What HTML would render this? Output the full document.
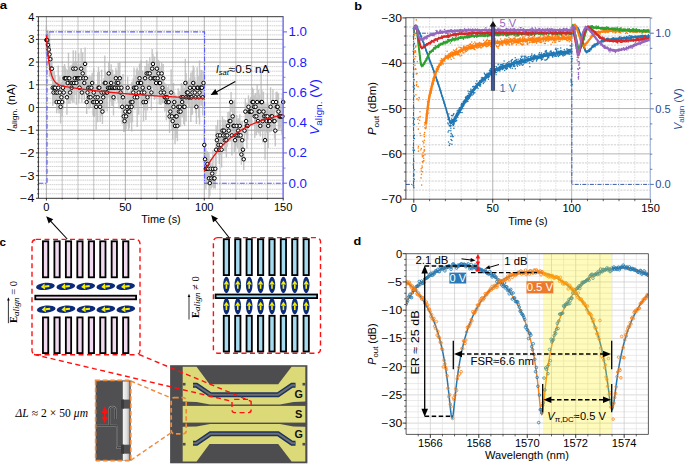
<!DOCTYPE html>
<html><head><meta charset="utf-8"><style>
html,body{margin:0;padding:0;background:#fff;}
svg{display:block;}
</style></head><body>
<svg width="685" height="467" viewBox="0 0 685 467">
<rect width="685" height="467" fill="#fff"/>
<clipPath id="ca"><rect x="38.4" y="16.7" width="245.1" height="181.60000000000002"/></clipPath>
<line x1="38.4" y1="193.76" x2="283.5" y2="193.76" stroke="#b4b4b4" stroke-width="0.6" stroke-dasharray="1.6,0.6"/>
<line x1="38.4" y1="189.22" x2="283.5" y2="189.22" stroke="#b4b4b4" stroke-width="0.6" stroke-dasharray="1.6,0.6"/>
<line x1="38.4" y1="184.68" x2="283.5" y2="184.68" stroke="#b4b4b4" stroke-width="0.6" stroke-dasharray="1.6,0.6"/>
<line x1="38.4" y1="180.14" x2="283.5" y2="180.14" stroke="#b4b4b4" stroke-width="0.6" stroke-dasharray="1.6,0.6"/>
<line x1="38.4" y1="171.06" x2="283.5" y2="171.06" stroke="#b4b4b4" stroke-width="0.6" stroke-dasharray="1.6,0.6"/>
<line x1="38.4" y1="166.52" x2="283.5" y2="166.52" stroke="#b4b4b4" stroke-width="0.6" stroke-dasharray="1.6,0.6"/>
<line x1="38.4" y1="161.98" x2="283.5" y2="161.98" stroke="#b4b4b4" stroke-width="0.6" stroke-dasharray="1.6,0.6"/>
<line x1="38.4" y1="157.44" x2="283.5" y2="157.44" stroke="#b4b4b4" stroke-width="0.6" stroke-dasharray="1.6,0.6"/>
<line x1="38.4" y1="148.36" x2="283.5" y2="148.36" stroke="#b4b4b4" stroke-width="0.6" stroke-dasharray="1.6,0.6"/>
<line x1="38.4" y1="143.82" x2="283.5" y2="143.82" stroke="#b4b4b4" stroke-width="0.6" stroke-dasharray="1.6,0.6"/>
<line x1="38.4" y1="139.28" x2="283.5" y2="139.28" stroke="#b4b4b4" stroke-width="0.6" stroke-dasharray="1.6,0.6"/>
<line x1="38.4" y1="134.74" x2="283.5" y2="134.74" stroke="#b4b4b4" stroke-width="0.6" stroke-dasharray="1.6,0.6"/>
<line x1="38.4" y1="125.66" x2="283.5" y2="125.66" stroke="#b4b4b4" stroke-width="0.6" stroke-dasharray="1.6,0.6"/>
<line x1="38.4" y1="121.12" x2="283.5" y2="121.12" stroke="#b4b4b4" stroke-width="0.6" stroke-dasharray="1.6,0.6"/>
<line x1="38.4" y1="116.58" x2="283.5" y2="116.58" stroke="#b4b4b4" stroke-width="0.6" stroke-dasharray="1.6,0.6"/>
<line x1="38.4" y1="112.04" x2="283.5" y2="112.04" stroke="#b4b4b4" stroke-width="0.6" stroke-dasharray="1.6,0.6"/>
<line x1="38.4" y1="102.96" x2="283.5" y2="102.96" stroke="#b4b4b4" stroke-width="0.6" stroke-dasharray="1.6,0.6"/>
<line x1="38.4" y1="98.42" x2="283.5" y2="98.42" stroke="#b4b4b4" stroke-width="0.6" stroke-dasharray="1.6,0.6"/>
<line x1="38.4" y1="93.88" x2="283.5" y2="93.88" stroke="#b4b4b4" stroke-width="0.6" stroke-dasharray="1.6,0.6"/>
<line x1="38.4" y1="89.34" x2="283.5" y2="89.34" stroke="#b4b4b4" stroke-width="0.6" stroke-dasharray="1.6,0.6"/>
<line x1="38.4" y1="80.26" x2="283.5" y2="80.26" stroke="#b4b4b4" stroke-width="0.6" stroke-dasharray="1.6,0.6"/>
<line x1="38.4" y1="75.72" x2="283.5" y2="75.72" stroke="#b4b4b4" stroke-width="0.6" stroke-dasharray="1.6,0.6"/>
<line x1="38.4" y1="71.18" x2="283.5" y2="71.18" stroke="#b4b4b4" stroke-width="0.6" stroke-dasharray="1.6,0.6"/>
<line x1="38.4" y1="66.64" x2="283.5" y2="66.64" stroke="#b4b4b4" stroke-width="0.6" stroke-dasharray="1.6,0.6"/>
<line x1="38.4" y1="57.56" x2="283.5" y2="57.56" stroke="#b4b4b4" stroke-width="0.6" stroke-dasharray="1.6,0.6"/>
<line x1="38.4" y1="53.02" x2="283.5" y2="53.02" stroke="#b4b4b4" stroke-width="0.6" stroke-dasharray="1.6,0.6"/>
<line x1="38.4" y1="48.48" x2="283.5" y2="48.48" stroke="#b4b4b4" stroke-width="0.6" stroke-dasharray="1.6,0.6"/>
<line x1="38.4" y1="43.94" x2="283.5" y2="43.94" stroke="#b4b4b4" stroke-width="0.6" stroke-dasharray="1.6,0.6"/>
<line x1="38.4" y1="34.86" x2="283.5" y2="34.86" stroke="#b4b4b4" stroke-width="0.6" stroke-dasharray="1.6,0.6"/>
<line x1="38.4" y1="30.32" x2="283.5" y2="30.32" stroke="#b4b4b4" stroke-width="0.6" stroke-dasharray="1.6,0.6"/>
<line x1="38.4" y1="25.78" x2="283.5" y2="25.78" stroke="#b4b4b4" stroke-width="0.6" stroke-dasharray="1.6,0.6"/>
<line x1="38.4" y1="21.24" x2="283.5" y2="21.24" stroke="#b4b4b4" stroke-width="0.6" stroke-dasharray="1.6,0.6"/>
<line x1="46.4" y1="16.7" x2="46.4" y2="198.3" stroke="#888888" stroke-width="0.65"/>
<line x1="62.19" y1="16.7" x2="62.19" y2="198.3" stroke="#a4a4a4" stroke-width="0.65"/>
<line x1="77.97" y1="16.7" x2="77.97" y2="198.3" stroke="#a4a4a4" stroke-width="0.65"/>
<line x1="93.76" y1="16.7" x2="93.76" y2="198.3" stroke="#a4a4a4" stroke-width="0.65"/>
<line x1="109.55" y1="16.7" x2="109.55" y2="198.3" stroke="#a4a4a4" stroke-width="0.65"/>
<line x1="125.34" y1="16.7" x2="125.34" y2="198.3" stroke="#888888" stroke-width="0.65"/>
<line x1="141.12" y1="16.7" x2="141.12" y2="198.3" stroke="#a4a4a4" stroke-width="0.65"/>
<line x1="156.91" y1="16.7" x2="156.91" y2="198.3" stroke="#a4a4a4" stroke-width="0.65"/>
<line x1="172.7" y1="16.7" x2="172.7" y2="198.3" stroke="#a4a4a4" stroke-width="0.65"/>
<line x1="188.48" y1="16.7" x2="188.48" y2="198.3" stroke="#a4a4a4" stroke-width="0.65"/>
<line x1="204.27" y1="16.7" x2="204.27" y2="198.3" stroke="#888888" stroke-width="0.65"/>
<line x1="220.06" y1="16.7" x2="220.06" y2="198.3" stroke="#a4a4a4" stroke-width="0.65"/>
<line x1="235.84" y1="16.7" x2="235.84" y2="198.3" stroke="#a4a4a4" stroke-width="0.65"/>
<line x1="251.63" y1="16.7" x2="251.63" y2="198.3" stroke="#a4a4a4" stroke-width="0.65"/>
<line x1="267.42" y1="16.7" x2="267.42" y2="198.3" stroke="#a4a4a4" stroke-width="0.65"/>
<line x1="283.2" y1="16.7" x2="283.2" y2="198.3" stroke="#888888" stroke-width="0.65"/>
<line x1="38.4" y1="175.6" x2="283.5" y2="175.6" stroke="#858585" stroke-width="0.8"/>
<line x1="38.4" y1="152.9" x2="283.5" y2="152.9" stroke="#858585" stroke-width="0.8"/>
<line x1="38.4" y1="130.2" x2="283.5" y2="130.2" stroke="#858585" stroke-width="0.8"/>
<line x1="38.4" y1="107.5" x2="283.5" y2="107.5" stroke="#858585" stroke-width="0.8"/>
<line x1="38.4" y1="84.8" x2="283.5" y2="84.8" stroke="#858585" stroke-width="0.8"/>
<line x1="38.4" y1="62.1" x2="283.5" y2="62.1" stroke="#858585" stroke-width="0.8"/>
<line x1="38.4" y1="39.4" x2="283.5" y2="39.4" stroke="#858585" stroke-width="0.8"/>
<g clip-path="url(#ca)">
<path d="M46.4,26.13V54.03M47.19,30.08V50.08M47.98,30.71V58.99M48.77,35.04V64.19M49.56,32.11V76.65M50.35,45.59V72.71M51.14,58.61V78.75M51.93,56.4V80.97M52.71,69.41V106.1M53.5,82.45V102.58M54.29,71.28V104.23M55.08,75.1V100.4M55.87,81.18V103.86M56.66,90.76V113.34M57.45,82.11V102.92M58.24,65.56V109.94M59.03,90.65V113.46M59.82,76.2V108.84M60.61,90.26V123.38M61.4,81.63V112.94M62.19,87.93V116.17M62.98,66.11V109.4M63.77,80.49V104.54M64.56,63.9V92.53M65.34,67.16V89.27M66.13,68.67V87.77M66.92,79.86V114.71M67.71,69.79V96.18M68.5,52.67V103.76M69.29,66.63V89.8M70.08,81.37V103.66M70.87,65.15V100.82M71.66,75.68V99.82M72.45,63.54V102.43M73.24,50.35V87.01M74.03,63.28V102.68M74.82,61.49V94.94M75.61,50.56V86.81M76.4,61.34V104.63M77.18,66.62V89.81M77.97,64.29V92.15M78.76,53.17V103.26M79.55,76.65V98.85M80.34,63.97V92.46M81.13,48.4V88.97M81.92,82.65V102.38M82.71,52.16V94.74M83.5,61.06V95.37M84.29,65.97V100M85.08,47.59V80.25M85.87,64.68V91.76M86.66,90.2V113.91M87.45,81.35V103.68M88.24,76.51V98.99M89.02,85.39V109.18M89.81,75.84V99.66M90.6,87.43V107.14M91.39,76.58V98.93M92.18,72.78V93.19M92.97,88.52V115.59M93.76,68.12V116.92M94.55,87.81V116.29M95.34,87.31V107.26M96.13,83.89V129.75M96.92,89.44V114.67M97.71,72.28V122.29M98.5,67.02V108.48M99.29,71.43V104.08M100.08,91.67V121.96M100.87,91.33V112.78M101.65,69.4V115.64M102.44,99.1V124.07M103.23,82.36V112.21M104.02,77.92V107.11M104.81,55.51V110.46M105.6,71.73V94.24M106.39,76.79V108.24M107.18,73.68V111.35M107.97,77.77V97.73M108.76,62.51V84.39M109.55,69.07V106.43M110.34,77.29V98.21M111.13,64.31V101.66M111.92,69.38V106.12M112.71,69.77V105.73M113.49,79.13V115.44M114.28,74.45V101.05M115.07,74.13V101.37M115.86,67.63V88.8M116.65,70.36V95.61M117.44,75.52V99.98M118.23,63.12V102.84M119.02,66.75V108.76M119.81,62.37V94.06M120.6,81.46V103.57M121.39,76.5V99M122.18,89.33V124.31M122.97,73.98V120.59M123.76,100.59V132.12M124.55,110.19V132.05M125.34,98.94V124.24M126.12,103.82V128.88M126.91,89.11V124.53M127.7,76.55V98.96M128.49,92.41V130.76M129.28,94.66V128.51M130.07,90.89V122.75M130.86,88.83V115.27M131.65,82.2V131.44M132.44,81.81V122.29M133.23,78.23V106.8M134.02,67.54V107.96M134.81,84.7V109.87M135.6,75.87V99.63M136.39,69.27V106.23M137.18,67.6V126.97M137.96,72.06V93.91M138.75,70.37V114.66M139.54,63.54V92.89M140.33,72.15V93.82M141.12,60.17V105.8M141.91,79.94V105.09M142.7,70.4V105.1M143.49,82.57V121.53M144.28,74.47V110.57M145.07,66V90.43M145.86,84.22V119.88M146.65,59.93V86.97M147.44,84.1V110.47M148.23,63.52V83.38M149.02,73.96V101.54M149.8,57.34V89.56M150.59,66.26V90.17M151.38,74.83V110.21M152.17,48.9V88.46M152.96,54V73.83M153.75,61.67V94.77M154.54,56.53V99.9M155.33,68.66V87.78M156.12,68.29V97.68M156.91,51.39V85.98M157.7,61.9V94.53M158.49,59.8V87.1M159.28,61.55V104.42M160.07,67.25V98.71M160.86,79.91V105.12M161.65,62.11V84.79M162.43,72.23V103.28M163.22,64.01V92.42M164.01,81.75V103.28M164.8,82.96V111.61M165.59,87.38V107.19M166.38,83.89V120.21M167.17,86.94V107.63M167.96,92.11V112M168.75,84.9V119.2M169.54,99.62V133.09M170.33,101.74V121.43M171.12,69.3V115.73M171.91,101.64V131.06M172.7,102.99V139.25M173.49,82.93V130.7M174.27,92.05V112.06M175.06,107.57V144.21M175.85,94.71V138M176.64,98.17V134.53M177.43,110.45V141.33M178.22,88.31V125.33M179.01,99.04V124.13M179.8,90.87V122.77M180.59,96.32V126.85M181.38,83.12V111.45M182.17,86.52V117.59M182.96,84.31V110.26M183.75,89.57V124.07M184.54,87.65V125.98M185.33,58.87V107.1M186.11,72.96V121.61M186.9,80.44V104.6M187.69,81.05V103.99M188.48,87.5V107.07M189.27,86.48V108.09M190.06,77.82V97.68M190.85,72.59V121.98M191.64,79.5V115.07M192.43,70.61V114.43M193.22,65.41V100.56M194.01,67.61V107.89M194.8,77.05V107.99M195.59,81.23V113.34M196.38,89.65V123.99M197.17,67.17V108.33M197.96,75.4V100.1M198.74,76.7V117.87M199.53,60.58V124.45M200.32,74.03V101.47M201.11,69.67V105.83M201.9,69.95V105.55M202.69,79.19V115.38M203.48,71.18V94.79M204.27,123.45V166.46M205.06,141.96V176.55M205.85,148.25V189.33M206.64,152.74V184.84M207.43,151.3V176.75M208.22,152.34V185.24M209.01,153.74V202.9M209.8,170.43V195.75M210.58,159.01V178.57M211.37,168.12V188.53M212.16,163.28V183.84M212.95,150.34V187.24M213.74,168.26V188.38M214.53,168.48V188.17M215.32,149V188.58M216.11,125.36V174.09M216.9,129.57V150.81M217.69,119.8V151.04M218.48,134.9V155.01M219.27,135.36V164.08M220.06,119.99V150.85M220.85,134.96V154.95M221.64,131.9V167.55M222.43,116.3V145M223.21,125.06V145.78M224,119.13V142.17M224.79,129.2V151.18M225.58,120.11V150.73M226.37,123.12V157.25M227.16,124V146.84M227.95,111.99V139.78M228.74,119.26V142.05M229.53,111.55V130.69M230.32,100.76V141.48M231.11,91.98V112.12M231.9,115.22V155.62M232.69,101.92V130.78M233.48,114.01V137.76M234.27,99.86V151.91M235.05,129.93V150.45M235.84,124.69V146.15M236.63,115.1V136.68M237.42,122.52V148.33M238.21,118.15V143.16M239,118.13V152.71M239.79,114.21V137.56M240.58,121.5V149.35M241.37,144.23V164.75M242.16,121.09V159.29M242.95,138.32V161.13M243.74,148.58V169.93M244.53,120V141.31M245.32,98.56V124.61M246.11,107.2V135.04M246.89,103.13V148.65M247.68,112.69V139.08M248.47,95.35V118.28M249.26,99.8V123.37M250.05,99.01V124.17M250.84,96.86V126.31M251.63,99.99V123.18M252.42,87.46V116.65M253.21,89.1V115.01M254,95.64V118M254.79,94.79V137.92M255.58,93.01V120.63M256.37,97.53V135.18M257.16,84.5V119.61M257.95,109.73V132.51M258.74,89.68V133.5M259.52,94.56V128.61M260.31,115.18V136.59M261.1,72.4V131.71M261.89,89.52V114.58M262.68,99.73V142.51M263.47,91.75V131.42M264.26,101.77V130.93M265.05,120.54V159.83M265.84,103.87V128.83M266.63,109.43V132.81M267.42,92.93V139.77M268.21,103.69V148.09M269,110.76V131.48M269.79,109.67V132.57M270.58,87.27V126.37M271.36,101.3V131.4M272.15,103.44V129.27M272.94,89.37V114.73M273.73,110.71V131.53M274.52,103.68V138.56M275.31,114.98V146.32M276.1,92.07V112.03M276.89,91.48V122.16M277.68,92.64V120.99M278.47,93.54V129.63M279.26,103.66V129.04M280.05,104.36V128.35M280.84,103.94V128.76M281.63,98.85V133.85M282.42,93.79V138.91M283.2,87.9V116.2" stroke="#b0b0b0" stroke-width="1.4" opacity="0.7"/>
</g>
<polyline points="38.4,183.2 47.03,183.2 47.03,31.9 204.59,31.9 204.59,183.2 283.5,183.2" fill="none" stroke="#5858ff" stroke-width="1.1" stroke-dasharray="5,1.5,1,1.5"/>
<g fill="#fff" stroke="#000" stroke-width="1.0"><circle cx="46.4" cy="40.08" r="1.75"/><circle cx="47.19" cy="40.08" r="1.75"/><circle cx="47.98" cy="44.85" r="1.75"/><circle cx="48.77" cy="49.62" r="1.75"/><circle cx="49.56" cy="54.38" r="1.75"/><circle cx="50.35" cy="59.15" r="1.75"/><circle cx="51.14" cy="68.68" r="1.75"/><circle cx="51.93" cy="68.68" r="1.75"/><circle cx="52.71" cy="87.75" r="1.75"/><circle cx="53.5" cy="92.52" r="1.75"/><circle cx="54.29" cy="87.75" r="1.75"/><circle cx="55.08" cy="87.75" r="1.75"/><circle cx="55.87" cy="92.52" r="1.75"/><circle cx="56.66" cy="102.05" r="1.75"/><circle cx="57.45" cy="92.52" r="1.75"/><circle cx="58.24" cy="87.75" r="1.75"/><circle cx="59.03" cy="102.05" r="1.75"/><circle cx="59.82" cy="92.52" r="1.75"/><circle cx="60.61" cy="106.82" r="1.75"/><circle cx="61.4" cy="97.28" r="1.75"/><circle cx="62.19" cy="102.05" r="1.75"/><circle cx="62.98" cy="87.75" r="1.75"/><circle cx="63.77" cy="92.52" r="1.75"/><circle cx="64.56" cy="78.22" r="1.75"/><circle cx="65.34" cy="78.22" r="1.75"/><circle cx="66.13" cy="78.22" r="1.75"/><circle cx="66.92" cy="97.28" r="1.75"/><circle cx="67.71" cy="82.98" r="1.75"/><circle cx="68.5" cy="78.22" r="1.75"/><circle cx="69.29" cy="78.22" r="1.75"/><circle cx="70.08" cy="92.52" r="1.75"/><circle cx="70.87" cy="82.98" r="1.75"/><circle cx="71.66" cy="87.75" r="1.75"/><circle cx="72.45" cy="82.98" r="1.75"/><circle cx="73.24" cy="68.68" r="1.75"/><circle cx="74.03" cy="82.98" r="1.75"/><circle cx="74.82" cy="78.22" r="1.75"/><circle cx="75.61" cy="68.68" r="1.75"/><circle cx="76.4" cy="82.98" r="1.75"/><circle cx="77.18" cy="78.22" r="1.75"/><circle cx="77.97" cy="78.22" r="1.75"/><circle cx="78.76" cy="78.22" r="1.75"/><circle cx="79.55" cy="87.75" r="1.75"/><circle cx="80.34" cy="78.22" r="1.75"/><circle cx="81.13" cy="68.68" r="1.75"/><circle cx="81.92" cy="92.52" r="1.75"/><circle cx="82.71" cy="73.45" r="1.75"/><circle cx="83.5" cy="78.22" r="1.75"/><circle cx="84.29" cy="82.98" r="1.75"/><circle cx="85.08" cy="63.92" r="1.75"/><circle cx="85.87" cy="78.22" r="1.75"/><circle cx="86.66" cy="102.05" r="1.75"/><circle cx="87.45" cy="92.52" r="1.75"/><circle cx="88.24" cy="87.75" r="1.75"/><circle cx="89.02" cy="97.28" r="1.75"/><circle cx="89.81" cy="87.75" r="1.75"/><circle cx="90.6" cy="97.28" r="1.75"/><circle cx="91.39" cy="87.75" r="1.75"/><circle cx="92.18" cy="82.98" r="1.75"/><circle cx="92.97" cy="102.05" r="1.75"/><circle cx="93.76" cy="92.52" r="1.75"/><circle cx="94.55" cy="102.05" r="1.75"/><circle cx="95.34" cy="97.28" r="1.75"/><circle cx="96.13" cy="106.82" r="1.75"/><circle cx="96.92" cy="102.05" r="1.75"/><circle cx="97.71" cy="97.28" r="1.75"/><circle cx="98.5" cy="87.75" r="1.75"/><circle cx="99.29" cy="87.75" r="1.75"/><circle cx="100.08" cy="106.82" r="1.75"/><circle cx="100.87" cy="102.05" r="1.75"/><circle cx="101.65" cy="92.52" r="1.75"/><circle cx="102.44" cy="111.59" r="1.75"/><circle cx="103.23" cy="97.28" r="1.75"/><circle cx="104.02" cy="92.52" r="1.75"/><circle cx="104.81" cy="82.98" r="1.75"/><circle cx="105.6" cy="82.98" r="1.75"/><circle cx="106.39" cy="92.52" r="1.75"/><circle cx="107.18" cy="92.52" r="1.75"/><circle cx="107.97" cy="87.75" r="1.75"/><circle cx="108.76" cy="73.45" r="1.75"/><circle cx="109.55" cy="87.75" r="1.75"/><circle cx="110.34" cy="87.75" r="1.75"/><circle cx="111.13" cy="82.98" r="1.75"/><circle cx="111.92" cy="87.75" r="1.75"/><circle cx="112.71" cy="87.75" r="1.75"/><circle cx="113.49" cy="97.28" r="1.75"/><circle cx="114.28" cy="87.75" r="1.75"/><circle cx="115.07" cy="87.75" r="1.75"/><circle cx="115.86" cy="78.22" r="1.75"/><circle cx="116.65" cy="82.98" r="1.75"/><circle cx="117.44" cy="87.75" r="1.75"/><circle cx="118.23" cy="82.98" r="1.75"/><circle cx="119.02" cy="87.75" r="1.75"/><circle cx="119.81" cy="78.22" r="1.75"/><circle cx="120.6" cy="92.52" r="1.75"/><circle cx="121.39" cy="87.75" r="1.75"/><circle cx="122.18" cy="106.82" r="1.75"/><circle cx="122.97" cy="97.28" r="1.75"/><circle cx="123.76" cy="116.35" r="1.75"/><circle cx="124.55" cy="121.12" r="1.75"/><circle cx="125.34" cy="111.59" r="1.75"/><circle cx="126.12" cy="116.35" r="1.75"/><circle cx="126.91" cy="106.82" r="1.75"/><circle cx="127.7" cy="87.75" r="1.75"/><circle cx="128.49" cy="111.59" r="1.75"/><circle cx="129.28" cy="111.59" r="1.75"/><circle cx="130.07" cy="106.82" r="1.75"/><circle cx="130.86" cy="102.05" r="1.75"/><circle cx="131.65" cy="106.82" r="1.75"/><circle cx="132.44" cy="102.05" r="1.75"/><circle cx="133.23" cy="92.52" r="1.75"/><circle cx="134.02" cy="87.75" r="1.75"/><circle cx="134.81" cy="97.28" r="1.75"/><circle cx="135.6" cy="87.75" r="1.75"/><circle cx="136.39" cy="87.75" r="1.75"/><circle cx="137.18" cy="97.28" r="1.75"/><circle cx="137.96" cy="82.98" r="1.75"/><circle cx="138.75" cy="92.52" r="1.75"/><circle cx="139.54" cy="78.22" r="1.75"/><circle cx="140.33" cy="82.98" r="1.75"/><circle cx="141.12" cy="82.98" r="1.75"/><circle cx="141.91" cy="92.52" r="1.75"/><circle cx="142.7" cy="87.75" r="1.75"/><circle cx="143.49" cy="102.05" r="1.75"/><circle cx="144.28" cy="92.52" r="1.75"/><circle cx="145.07" cy="78.22" r="1.75"/><circle cx="145.86" cy="102.05" r="1.75"/><circle cx="146.65" cy="73.45" r="1.75"/><circle cx="147.44" cy="97.28" r="1.75"/><circle cx="148.23" cy="73.45" r="1.75"/><circle cx="149.02" cy="87.75" r="1.75"/><circle cx="149.8" cy="73.45" r="1.75"/><circle cx="150.59" cy="78.22" r="1.75"/><circle cx="151.38" cy="92.52" r="1.75"/><circle cx="152.17" cy="68.68" r="1.75"/><circle cx="152.96" cy="63.92" r="1.75"/><circle cx="153.75" cy="78.22" r="1.75"/><circle cx="154.54" cy="78.22" r="1.75"/><circle cx="155.33" cy="78.22" r="1.75"/><circle cx="156.12" cy="82.98" r="1.75"/><circle cx="156.91" cy="68.68" r="1.75"/><circle cx="157.7" cy="78.22" r="1.75"/><circle cx="158.49" cy="73.45" r="1.75"/><circle cx="159.28" cy="82.98" r="1.75"/><circle cx="160.07" cy="82.98" r="1.75"/><circle cx="160.86" cy="92.52" r="1.75"/><circle cx="161.65" cy="73.45" r="1.75"/><circle cx="162.43" cy="87.75" r="1.75"/><circle cx="163.22" cy="78.22" r="1.75"/><circle cx="164.01" cy="92.52" r="1.75"/><circle cx="164.8" cy="97.28" r="1.75"/><circle cx="165.59" cy="97.28" r="1.75"/><circle cx="166.38" cy="102.05" r="1.75"/><circle cx="167.17" cy="97.28" r="1.75"/><circle cx="167.96" cy="102.05" r="1.75"/><circle cx="168.75" cy="102.05" r="1.75"/><circle cx="169.54" cy="116.35" r="1.75"/><circle cx="170.33" cy="111.59" r="1.75"/><circle cx="171.12" cy="92.52" r="1.75"/><circle cx="171.91" cy="116.35" r="1.75"/><circle cx="172.7" cy="121.12" r="1.75"/><circle cx="173.49" cy="106.82" r="1.75"/><circle cx="174.27" cy="102.05" r="1.75"/><circle cx="175.06" cy="125.89" r="1.75"/><circle cx="175.85" cy="116.35" r="1.75"/><circle cx="176.64" cy="116.35" r="1.75"/><circle cx="177.43" cy="125.89" r="1.75"/><circle cx="178.22" cy="106.82" r="1.75"/><circle cx="179.01" cy="111.59" r="1.75"/><circle cx="179.8" cy="106.82" r="1.75"/><circle cx="180.59" cy="111.59" r="1.75"/><circle cx="181.38" cy="97.28" r="1.75"/><circle cx="182.17" cy="102.05" r="1.75"/><circle cx="182.96" cy="97.28" r="1.75"/><circle cx="183.75" cy="106.82" r="1.75"/><circle cx="184.54" cy="106.82" r="1.75"/><circle cx="185.33" cy="82.98" r="1.75"/><circle cx="186.11" cy="97.28" r="1.75"/><circle cx="186.9" cy="92.52" r="1.75"/><circle cx="187.69" cy="92.52" r="1.75"/><circle cx="188.48" cy="97.28" r="1.75"/><circle cx="189.27" cy="97.28" r="1.75"/><circle cx="190.06" cy="87.75" r="1.75"/><circle cx="190.85" cy="97.28" r="1.75"/><circle cx="191.64" cy="97.28" r="1.75"/><circle cx="192.43" cy="92.52" r="1.75"/><circle cx="193.22" cy="82.98" r="1.75"/><circle cx="194.01" cy="87.75" r="1.75"/><circle cx="194.8" cy="92.52" r="1.75"/><circle cx="195.59" cy="97.28" r="1.75"/><circle cx="196.38" cy="106.82" r="1.75"/><circle cx="197.17" cy="87.75" r="1.75"/><circle cx="197.96" cy="87.75" r="1.75"/><circle cx="198.74" cy="97.28" r="1.75"/><circle cx="199.53" cy="92.52" r="1.75"/><circle cx="200.32" cy="87.75" r="1.75"/><circle cx="201.11" cy="87.75" r="1.75"/><circle cx="201.9" cy="87.75" r="1.75"/><circle cx="202.69" cy="97.28" r="1.75"/><circle cx="203.48" cy="82.98" r="1.75"/><circle cx="204.27" cy="144.95" r="1.75"/><circle cx="205.06" cy="159.26" r="1.75"/><circle cx="205.85" cy="168.79" r="1.75"/><circle cx="206.64" cy="168.79" r="1.75"/><circle cx="207.43" cy="164.02" r="1.75"/><circle cx="208.22" cy="168.79" r="1.75"/><circle cx="209.01" cy="178.32" r="1.75"/><circle cx="209.8" cy="183.09" r="1.75"/><circle cx="210.58" cy="168.79" r="1.75"/><circle cx="211.37" cy="178.32" r="1.75"/><circle cx="212.16" cy="173.56" r="1.75"/><circle cx="212.95" cy="168.79" r="1.75"/><circle cx="213.74" cy="178.32" r="1.75"/><circle cx="214.53" cy="178.32" r="1.75"/><circle cx="215.32" cy="168.79" r="1.75"/><circle cx="216.11" cy="149.72" r="1.75"/><circle cx="216.9" cy="140.19" r="1.75"/><circle cx="217.69" cy="135.42" r="1.75"/><circle cx="218.48" cy="144.95" r="1.75"/><circle cx="219.27" cy="149.72" r="1.75"/><circle cx="220.06" cy="135.42" r="1.75"/><circle cx="220.85" cy="144.95" r="1.75"/><circle cx="221.64" cy="149.72" r="1.75"/><circle cx="222.43" cy="130.65" r="1.75"/><circle cx="223.21" cy="135.42" r="1.75"/><circle cx="224" cy="130.65" r="1.75"/><circle cx="224.79" cy="140.19" r="1.75"/><circle cx="225.58" cy="135.42" r="1.75"/><circle cx="226.37" cy="140.19" r="1.75"/><circle cx="227.16" cy="135.42" r="1.75"/><circle cx="227.95" cy="125.89" r="1.75"/><circle cx="228.74" cy="130.65" r="1.75"/><circle cx="229.53" cy="121.12" r="1.75"/><circle cx="230.32" cy="121.12" r="1.75"/><circle cx="231.11" cy="102.05" r="1.75"/><circle cx="231.9" cy="135.42" r="1.75"/><circle cx="232.69" cy="116.35" r="1.75"/><circle cx="233.48" cy="125.89" r="1.75"/><circle cx="234.27" cy="125.89" r="1.75"/><circle cx="235.05" cy="140.19" r="1.75"/><circle cx="235.84" cy="135.42" r="1.75"/><circle cx="236.63" cy="125.89" r="1.75"/><circle cx="237.42" cy="135.42" r="1.75"/><circle cx="238.21" cy="130.65" r="1.75"/><circle cx="239" cy="135.42" r="1.75"/><circle cx="239.79" cy="125.89" r="1.75"/><circle cx="240.58" cy="135.42" r="1.75"/><circle cx="241.37" cy="154.49" r="1.75"/><circle cx="242.16" cy="140.19" r="1.75"/><circle cx="242.95" cy="149.72" r="1.75"/><circle cx="243.74" cy="159.26" r="1.75"/><circle cx="244.53" cy="130.65" r="1.75"/><circle cx="245.32" cy="111.59" r="1.75"/><circle cx="246.11" cy="121.12" r="1.75"/><circle cx="246.89" cy="125.89" r="1.75"/><circle cx="247.68" cy="125.89" r="1.75"/><circle cx="248.47" cy="106.82" r="1.75"/><circle cx="249.26" cy="111.59" r="1.75"/><circle cx="250.05" cy="111.59" r="1.75"/><circle cx="250.84" cy="111.59" r="1.75"/><circle cx="251.63" cy="111.59" r="1.75"/><circle cx="252.42" cy="102.05" r="1.75"/><circle cx="253.21" cy="102.05" r="1.75"/><circle cx="254" cy="106.82" r="1.75"/><circle cx="254.79" cy="116.35" r="1.75"/><circle cx="255.58" cy="106.82" r="1.75"/><circle cx="256.37" cy="116.35" r="1.75"/><circle cx="257.16" cy="102.05" r="1.75"/><circle cx="257.95" cy="121.12" r="1.75"/><circle cx="258.74" cy="111.59" r="1.75"/><circle cx="259.52" cy="111.59" r="1.75"/><circle cx="260.31" cy="125.89" r="1.75"/><circle cx="261.1" cy="102.05" r="1.75"/><circle cx="261.89" cy="102.05" r="1.75"/><circle cx="262.68" cy="121.12" r="1.75"/><circle cx="263.47" cy="111.59" r="1.75"/><circle cx="264.26" cy="116.35" r="1.75"/><circle cx="265.05" cy="140.19" r="1.75"/><circle cx="265.84" cy="116.35" r="1.75"/><circle cx="266.63" cy="121.12" r="1.75"/><circle cx="267.42" cy="116.35" r="1.75"/><circle cx="268.21" cy="125.89" r="1.75"/><circle cx="269" cy="121.12" r="1.75"/><circle cx="269.79" cy="121.12" r="1.75"/><circle cx="270.58" cy="106.82" r="1.75"/><circle cx="271.36" cy="116.35" r="1.75"/><circle cx="272.15" cy="116.35" r="1.75"/><circle cx="272.94" cy="102.05" r="1.75"/><circle cx="273.73" cy="121.12" r="1.75"/><circle cx="274.52" cy="121.12" r="1.75"/><circle cx="275.31" cy="130.65" r="1.75"/><circle cx="276.1" cy="102.05" r="1.75"/><circle cx="276.89" cy="106.82" r="1.75"/><circle cx="277.68" cy="106.82" r="1.75"/><circle cx="278.47" cy="111.59" r="1.75"/><circle cx="279.26" cy="116.35" r="1.75"/><circle cx="280.05" cy="116.35" r="1.75"/><circle cx="280.84" cy="116.35" r="1.75"/><circle cx="281.63" cy="116.35" r="1.75"/><circle cx="282.42" cy="116.35" r="1.75"/><circle cx="283.2" cy="102.05" r="1.75"/></g>
<polyline points="46.4,35.27 47.19,46.06 47.98,54.5 48.77,61.11 49.56,66.28 50.35,70.34 51.14,73.54 51.93,76.05 52.71,78.04 53.5,79.63 54.29,80.89 55.08,81.9 55.87,82.72 56.66,83.38 57.45,83.93 58.24,84.38 59.03,84.77 59.82,85.09 60.61,85.37 61.4,85.62 62.19,85.84 62.98,86.04 63.77,86.22 64.56,86.39 65.34,86.55 66.13,86.7 66.92,86.84 67.71,86.98 68.5,87.11 69.29,87.24 70.08,87.37 70.87,87.49 71.66,87.61 72.45,87.73 73.24,87.85 74.03,87.96 74.82,88.08 75.61,88.19 76.4,88.3 77.18,88.41 77.97,88.52 78.76,88.63 79.55,88.74 80.34,88.84 81.13,88.95 81.92,89.05 82.71,89.16 83.5,89.26 84.29,89.36 85.08,89.47 85.87,89.57 86.66,89.67 87.45,89.76 88.24,89.86 89.02,89.96 89.81,90.06 90.6,90.15 91.39,90.25 92.18,90.34 92.97,90.43 93.76,90.53 94.55,90.62 95.34,90.71 96.13,90.8 96.92,90.89 97.71,90.98 98.5,91.07 99.29,91.15 100.08,91.24 100.87,91.33 101.65,91.41 102.44,91.5 103.23,91.58 104.02,91.66 104.81,91.75 105.6,91.83 106.39,91.91 107.18,91.99 107.97,92.07 108.76,92.15 109.55,92.23 110.34,92.3 111.13,92.38 111.92,92.46 112.71,92.53 113.49,92.61 114.28,92.69 115.07,92.76 115.86,92.83 116.65,92.91 117.44,92.98 118.23,93.05 119.02,93.12 119.81,93.19 120.6,93.26 121.39,93.33 122.18,93.4 122.97,93.47 123.76,93.54 124.55,93.6 125.34,93.67 126.12,93.74 126.91,93.8 127.7,93.87 128.49,93.93 129.28,94 130.07,94.06 130.86,94.12 131.65,94.19 132.44,94.25 133.23,94.31 134.02,94.37 134.81,94.43 135.6,94.49 136.39,94.55 137.18,94.61 137.96,94.67 138.75,94.73 139.54,94.78 140.33,94.84 141.12,94.9 141.91,94.96 142.7,95.01 143.49,95.07 144.28,95.12 145.07,95.18 145.86,95.23 146.65,95.28 147.44,95.34 148.23,95.39 149.02,95.44 149.8,95.49 150.59,95.54 151.38,95.6 152.17,95.65 152.96,95.7 153.75,95.75 154.54,95.8 155.33,95.84 156.12,95.89 156.91,95.94 157.7,95.99 158.49,96.04 159.28,96.08 160.07,96.13 160.86,96.18 161.65,96.22 162.43,96.27 163.22,96.31 164.01,96.36 164.8,96.4 165.59,96.45 166.38,96.49 167.17,96.53 167.96,96.58 168.75,96.62 169.54,96.66 170.33,96.7 171.12,96.74 171.91,96.79 172.7,96.83 173.49,96.87 174.27,96.91 175.06,96.95 175.85,96.99 176.64,97.03 177.43,97.07 178.22,97.1 179.01,97.14 179.8,97.18 180.59,97.22 181.38,97.26 182.17,97.29 182.96,97.33 183.75,97.37 184.54,97.4 185.33,97.44 186.11,97.47 186.9,97.51 187.69,97.54 188.48,97.58 189.27,97.61 190.06,97.65 190.85,97.68 191.64,97.72 192.43,97.75 193.22,97.78 194.01,97.81 194.8,97.85 195.59,97.88 196.38,97.91 197.17,97.94 197.96,97.98 198.74,98.01 199.53,98.04 200.32,98.07 201.11,98.1 201.9,98.13 202.69,98.16 203.48,98.19 204.27,98.22" fill="none" stroke="#ee1111" stroke-width="1.3"/>
<polyline points="204.27,171.24 205.06,169.82 205.85,168.44 206.64,167.08 207.43,165.76 208.22,164.47 209.01,163.2 209.8,161.97 210.58,160.76 211.37,159.58 212.16,158.43 212.95,157.3 213.74,156.2 214.53,155.12 215.32,154.07 216.11,153.04 216.9,152.04 217.69,151.06 218.48,150.1 219.27,149.16 220.06,148.24 220.85,147.35 221.64,146.47 222.43,145.61 223.21,144.78 224,143.96 224.79,143.16 225.58,142.38 226.37,141.62 227.16,140.87 227.95,140.14 228.74,139.43 229.53,138.73 230.32,138.05 231.11,137.39 231.9,136.74 232.69,136.1 233.48,135.48 234.27,134.88 235.05,134.28 235.84,133.7 236.63,133.14 237.42,132.58 238.21,132.04 239,131.51 239.79,131 240.58,130.49 241.37,130 242.16,129.52 242.95,129.04 243.74,128.58 244.53,128.13 245.32,127.69 246.11,127.26 246.89,126.84 247.68,126.43 248.47,126.03 249.26,125.64 250.05,125.26 250.84,124.88 251.63,124.51 252.42,124.16 253.21,123.81 254,123.46 254.79,123.13 255.58,122.8 256.37,122.48 257.16,122.17 257.95,121.87 258.74,121.57 259.52,121.28 260.31,120.99 261.1,120.72 261.89,120.44 262.68,120.18 263.47,119.92 264.26,119.66 265.05,119.42 265.84,119.17 266.63,118.94 267.42,118.71 268.21,118.48 269,118.26 269.79,118.04 270.58,117.83 271.36,117.62 272.15,117.42 272.94,117.23 273.73,117.03 274.52,116.84 275.31,116.66 276.1,116.48 276.89,116.3 277.68,116.13 278.47,115.96 279.26,115.8 280.05,115.64 280.84,115.48 281.63,115.33 282.42,115.18 283.2,115.03" fill="none" stroke="#ee1111" stroke-width="1.3"/>
<line x1="38.4" y1="16.7" x2="283.5" y2="16.7" stroke="#000" stroke-width="0.8"/>
<line x1="38.4" y1="198.3" x2="283.5" y2="198.3" stroke="#000" stroke-width="0.8"/>
<line x1="38.4" y1="16.7" x2="38.4" y2="198.3" stroke="#000" stroke-width="0.8"/>
<line x1="283.1" y1="16.7" x2="283.1" y2="198.3" stroke="#6868ff" stroke-width="1.2"/>
<line x1="35.9" y1="198.3" x2="38.4" y2="198.3" stroke="#000" stroke-width="0.8"/>
<text x="34.4" y="202.3" font-size="10" text-anchor="end" fill="#000" font-family="Liberation Sans" textLength="14.3" lengthAdjust="spacingAndGlyphs" >&#8722;4</text>
<line x1="35.9" y1="175.6" x2="38.4" y2="175.6" stroke="#000" stroke-width="0.8"/>
<text x="34.4" y="179.6" font-size="10" text-anchor="end" fill="#000" font-family="Liberation Sans" textLength="14.3" lengthAdjust="spacingAndGlyphs" >&#8722;3</text>
<line x1="35.9" y1="152.9" x2="38.4" y2="152.9" stroke="#000" stroke-width="0.8"/>
<text x="34.4" y="156.9" font-size="10" text-anchor="end" fill="#000" font-family="Liberation Sans" textLength="14.3" lengthAdjust="spacingAndGlyphs" >&#8722;2</text>
<line x1="35.9" y1="130.2" x2="38.4" y2="130.2" stroke="#000" stroke-width="0.8"/>
<text x="34.4" y="134.2" font-size="10" text-anchor="end" fill="#000" font-family="Liberation Sans" textLength="14.3" lengthAdjust="spacingAndGlyphs" >&#8722;1</text>
<line x1="35.9" y1="107.5" x2="38.4" y2="107.5" stroke="#000" stroke-width="0.8"/>
<text x="34.4" y="111.5" font-size="10" text-anchor="end" fill="#000" font-family="Liberation Sans" textLength="6.17" lengthAdjust="spacingAndGlyphs" >0</text>
<line x1="35.9" y1="84.8" x2="38.4" y2="84.8" stroke="#000" stroke-width="0.8"/>
<text x="34.4" y="88.8" font-size="10" text-anchor="end" fill="#000" font-family="Liberation Sans" textLength="6.17" lengthAdjust="spacingAndGlyphs" >1</text>
<line x1="35.9" y1="62.1" x2="38.4" y2="62.1" stroke="#000" stroke-width="0.8"/>
<text x="34.4" y="66.1" font-size="10" text-anchor="end" fill="#000" font-family="Liberation Sans" textLength="6.17" lengthAdjust="spacingAndGlyphs" >2</text>
<line x1="35.9" y1="39.4" x2="38.4" y2="39.4" stroke="#000" stroke-width="0.8"/>
<text x="34.4" y="43.4" font-size="10" text-anchor="end" fill="#000" font-family="Liberation Sans" textLength="6.17" lengthAdjust="spacingAndGlyphs" >3</text>
<line x1="35.9" y1="16.7" x2="38.4" y2="16.7" stroke="#000" stroke-width="0.8"/>
<text x="34.4" y="20.7" font-size="10" text-anchor="end" fill="#000" font-family="Liberation Sans" textLength="6.17" lengthAdjust="spacingAndGlyphs" >4</text>
<line x1="37.2" y1="193.76" x2="38.4" y2="193.76" stroke="#000" stroke-width="0.6"/>
<line x1="37.2" y1="189.22" x2="38.4" y2="189.22" stroke="#000" stroke-width="0.6"/>
<line x1="37.2" y1="184.68" x2="38.4" y2="184.68" stroke="#000" stroke-width="0.6"/>
<line x1="37.2" y1="180.14" x2="38.4" y2="180.14" stroke="#000" stroke-width="0.6"/>
<line x1="37.2" y1="171.06" x2="38.4" y2="171.06" stroke="#000" stroke-width="0.6"/>
<line x1="37.2" y1="166.52" x2="38.4" y2="166.52" stroke="#000" stroke-width="0.6"/>
<line x1="37.2" y1="161.98" x2="38.4" y2="161.98" stroke="#000" stroke-width="0.6"/>
<line x1="37.2" y1="157.44" x2="38.4" y2="157.44" stroke="#000" stroke-width="0.6"/>
<line x1="37.2" y1="148.36" x2="38.4" y2="148.36" stroke="#000" stroke-width="0.6"/>
<line x1="37.2" y1="143.82" x2="38.4" y2="143.82" stroke="#000" stroke-width="0.6"/>
<line x1="37.2" y1="139.28" x2="38.4" y2="139.28" stroke="#000" stroke-width="0.6"/>
<line x1="37.2" y1="134.74" x2="38.4" y2="134.74" stroke="#000" stroke-width="0.6"/>
<line x1="37.2" y1="125.66" x2="38.4" y2="125.66" stroke="#000" stroke-width="0.6"/>
<line x1="37.2" y1="121.12" x2="38.4" y2="121.12" stroke="#000" stroke-width="0.6"/>
<line x1="37.2" y1="116.58" x2="38.4" y2="116.58" stroke="#000" stroke-width="0.6"/>
<line x1="37.2" y1="112.04" x2="38.4" y2="112.04" stroke="#000" stroke-width="0.6"/>
<line x1="37.2" y1="102.96" x2="38.4" y2="102.96" stroke="#000" stroke-width="0.6"/>
<line x1="37.2" y1="98.42" x2="38.4" y2="98.42" stroke="#000" stroke-width="0.6"/>
<line x1="37.2" y1="93.88" x2="38.4" y2="93.88" stroke="#000" stroke-width="0.6"/>
<line x1="37.2" y1="89.34" x2="38.4" y2="89.34" stroke="#000" stroke-width="0.6"/>
<line x1="37.2" y1="80.26" x2="38.4" y2="80.26" stroke="#000" stroke-width="0.6"/>
<line x1="37.2" y1="75.72" x2="38.4" y2="75.72" stroke="#000" stroke-width="0.6"/>
<line x1="37.2" y1="71.18" x2="38.4" y2="71.18" stroke="#000" stroke-width="0.6"/>
<line x1="37.2" y1="66.64" x2="38.4" y2="66.64" stroke="#000" stroke-width="0.6"/>
<line x1="37.2" y1="57.56" x2="38.4" y2="57.56" stroke="#000" stroke-width="0.6"/>
<line x1="37.2" y1="53.02" x2="38.4" y2="53.02" stroke="#000" stroke-width="0.6"/>
<line x1="37.2" y1="48.48" x2="38.4" y2="48.48" stroke="#000" stroke-width="0.6"/>
<line x1="37.2" y1="43.94" x2="38.4" y2="43.94" stroke="#000" stroke-width="0.6"/>
<line x1="37.2" y1="34.86" x2="38.4" y2="34.86" stroke="#000" stroke-width="0.6"/>
<line x1="37.2" y1="30.32" x2="38.4" y2="30.32" stroke="#000" stroke-width="0.6"/>
<line x1="37.2" y1="25.78" x2="38.4" y2="25.78" stroke="#000" stroke-width="0.6"/>
<line x1="37.2" y1="21.24" x2="38.4" y2="21.24" stroke="#000" stroke-width="0.6"/>
<line x1="46.4" y1="198.3" x2="46.4" y2="200.5" stroke="#000" stroke-width="0.8"/>
<text x="46.4" y="210.8" font-size="10" text-anchor="middle" fill="#000" font-family="Liberation Sans" textLength="6.17" lengthAdjust="spacingAndGlyphs" >0</text>
<line x1="62.19" y1="198.3" x2="62.19" y2="199.5" stroke="#000" stroke-width="0.6"/>
<line x1="77.97" y1="198.3" x2="77.97" y2="199.5" stroke="#000" stroke-width="0.6"/>
<line x1="93.76" y1="198.3" x2="93.76" y2="199.5" stroke="#000" stroke-width="0.6"/>
<line x1="109.55" y1="198.3" x2="109.55" y2="199.5" stroke="#000" stroke-width="0.6"/>
<line x1="125.34" y1="198.3" x2="125.34" y2="200.5" stroke="#000" stroke-width="0.8"/>
<text x="125.34" y="210.8" font-size="10" text-anchor="middle" fill="#000" font-family="Liberation Sans" textLength="12.34" lengthAdjust="spacingAndGlyphs" >50</text>
<line x1="141.12" y1="198.3" x2="141.12" y2="199.5" stroke="#000" stroke-width="0.6"/>
<line x1="156.91" y1="198.3" x2="156.91" y2="199.5" stroke="#000" stroke-width="0.6"/>
<line x1="172.7" y1="198.3" x2="172.7" y2="199.5" stroke="#000" stroke-width="0.6"/>
<line x1="188.48" y1="198.3" x2="188.48" y2="199.5" stroke="#000" stroke-width="0.6"/>
<line x1="204.27" y1="198.3" x2="204.27" y2="200.5" stroke="#000" stroke-width="0.8"/>
<text x="204.27" y="210.8" font-size="10" text-anchor="middle" fill="#000" font-family="Liberation Sans" textLength="18.51" lengthAdjust="spacingAndGlyphs" >100</text>
<line x1="220.06" y1="198.3" x2="220.06" y2="199.5" stroke="#000" stroke-width="0.6"/>
<line x1="235.84" y1="198.3" x2="235.84" y2="199.5" stroke="#000" stroke-width="0.6"/>
<line x1="251.63" y1="198.3" x2="251.63" y2="199.5" stroke="#000" stroke-width="0.6"/>
<line x1="267.42" y1="198.3" x2="267.42" y2="199.5" stroke="#000" stroke-width="0.6"/>
<line x1="283.2" y1="198.3" x2="283.2" y2="200.5" stroke="#000" stroke-width="0.8"/>
<text x="283.2" y="210.8" font-size="10" text-anchor="middle" fill="#000" font-family="Liberation Sans" textLength="18.51" lengthAdjust="spacingAndGlyphs" >150</text>
<text x="161" y="223.2" font-size="10" text-anchor="middle" fill="#000" font-family="Liberation Sans" textLength="39.44" lengthAdjust="spacingAndGlyphs" >Time (s)</text>
<line x1="283.5" y1="183.2" x2="287" y2="183.2" stroke="#3030ff" stroke-width="0.8"/>
<text x="288.5" y="187.6" font-size="12" text-anchor="start" fill="#1a1aff" font-family="Liberation Sans" textLength="18.51" lengthAdjust="spacingAndGlyphs" >0.0</text>
<line x1="283.5" y1="168.07" x2="285.5" y2="168.07" stroke="#3030ff" stroke-width="0.6"/>
<line x1="283.5" y1="152.94" x2="287" y2="152.94" stroke="#3030ff" stroke-width="0.8"/>
<text x="288.5" y="157.34" font-size="12" text-anchor="start" fill="#1a1aff" font-family="Liberation Sans" textLength="18.51" lengthAdjust="spacingAndGlyphs" >0.2</text>
<line x1="283.5" y1="137.81" x2="285.5" y2="137.81" stroke="#3030ff" stroke-width="0.6"/>
<line x1="283.5" y1="122.68" x2="287" y2="122.68" stroke="#3030ff" stroke-width="0.8"/>
<text x="288.5" y="127.08" font-size="12" text-anchor="start" fill="#1a1aff" font-family="Liberation Sans" textLength="18.51" lengthAdjust="spacingAndGlyphs" >0.4</text>
<line x1="283.5" y1="107.55" x2="285.5" y2="107.55" stroke="#3030ff" stroke-width="0.6"/>
<line x1="283.5" y1="92.42" x2="287" y2="92.42" stroke="#3030ff" stroke-width="0.8"/>
<text x="288.5" y="96.82" font-size="12" text-anchor="start" fill="#1a1aff" font-family="Liberation Sans" textLength="18.51" lengthAdjust="spacingAndGlyphs" >0.6</text>
<line x1="283.5" y1="77.29" x2="285.5" y2="77.29" stroke="#3030ff" stroke-width="0.6"/>
<line x1="283.5" y1="62.16" x2="287" y2="62.16" stroke="#3030ff" stroke-width="0.8"/>
<text x="288.5" y="66.56" font-size="12" text-anchor="start" fill="#1a1aff" font-family="Liberation Sans" textLength="18.51" lengthAdjust="spacingAndGlyphs" >0.8</text>
<line x1="283.5" y1="47.03" x2="285.5" y2="47.03" stroke="#3030ff" stroke-width="0.6"/>
<line x1="283.5" y1="31.9" x2="287" y2="31.9" stroke="#3030ff" stroke-width="0.8"/>
<text x="288.5" y="36.3" font-size="12" text-anchor="start" fill="#1a1aff" font-family="Liberation Sans" textLength="18.51" lengthAdjust="spacingAndGlyphs" >1.0</text>
<text transform="translate(14.6,131.8) rotate(-90)" font-size="10.5" fill="#000" font-family="Liberation Sans" textLength="48.2" lengthAdjust="spacingAndGlyphs"><tspan font-style="italic">I</tspan><tspan font-size="7.8" dy="2.6">align.</tspan><tspan dy="-2.6"> (nA)</tspan></text>
<text transform="translate(319.2,135) rotate(-90)" font-size="12" fill="#1a1aff" font-family="Liberation Sans" textLength="55.8" lengthAdjust="spacingAndGlyphs"><tspan font-style="italic">V</tspan><tspan font-size="8.8" dy="3">align.</tspan><tspan dy="-3"> (V)</tspan></text>
<text x="216" y="73" font-size="10" font-family="Liberation Sans"><tspan font-style="italic">I</tspan><tspan font-size="7.5" font-style="italic" dy="2">sat</tspan><tspan dy="-2" textLength="40.64" lengthAdjust="spacingAndGlyphs">≈0.5 nA</tspan></text>
<line x1="235.3" y1="81.6" x2="216.31" y2="91.9" stroke="#000" stroke-width="1.1"/>
<polygon points="210.6,95 215.27,88.94 218.23,94.39" fill="#000"/>
<text x="-0.2" y="9.1" font-size="11.2" text-anchor="start" fill="#000" font-family="Liberation Sans" textLength="7.33" lengthAdjust="spacingAndGlyphs" font-weight="bold">a</text>
<clipPath id="cb"><rect x="405.9" y="17.7" width="244.39999999999998" height="181.5"/></clipPath>
<line x1="405.9" y1="190.13" x2="650.3" y2="190.13" stroke="#bcbcbc" stroke-width="0.7" stroke-dasharray="2.2,1.0"/>
<line x1="405.9" y1="181.07" x2="650.3" y2="181.07" stroke="#bcbcbc" stroke-width="0.7" stroke-dasharray="2.2,1.0"/>
<line x1="405.9" y1="172" x2="650.3" y2="172" stroke="#bcbcbc" stroke-width="0.7" stroke-dasharray="2.2,1.0"/>
<line x1="405.9" y1="162.94" x2="650.3" y2="162.94" stroke="#bcbcbc" stroke-width="0.7" stroke-dasharray="2.2,1.0"/>
<line x1="405.9" y1="144.81" x2="650.3" y2="144.81" stroke="#bcbcbc" stroke-width="0.7" stroke-dasharray="2.2,1.0"/>
<line x1="405.9" y1="135.75" x2="650.3" y2="135.75" stroke="#bcbcbc" stroke-width="0.7" stroke-dasharray="2.2,1.0"/>
<line x1="405.9" y1="126.68" x2="650.3" y2="126.68" stroke="#bcbcbc" stroke-width="0.7" stroke-dasharray="2.2,1.0"/>
<line x1="405.9" y1="117.61" x2="650.3" y2="117.61" stroke="#bcbcbc" stroke-width="0.7" stroke-dasharray="2.2,1.0"/>
<line x1="405.9" y1="99.48" x2="650.3" y2="99.48" stroke="#bcbcbc" stroke-width="0.7" stroke-dasharray="2.2,1.0"/>
<line x1="405.9" y1="90.42" x2="650.3" y2="90.42" stroke="#bcbcbc" stroke-width="0.7" stroke-dasharray="2.2,1.0"/>
<line x1="405.9" y1="81.35" x2="650.3" y2="81.35" stroke="#bcbcbc" stroke-width="0.7" stroke-dasharray="2.2,1.0"/>
<line x1="405.9" y1="72.29" x2="650.3" y2="72.29" stroke="#bcbcbc" stroke-width="0.7" stroke-dasharray="2.2,1.0"/>
<line x1="405.9" y1="54.16" x2="650.3" y2="54.16" stroke="#bcbcbc" stroke-width="0.7" stroke-dasharray="2.2,1.0"/>
<line x1="405.9" y1="45.09" x2="650.3" y2="45.09" stroke="#bcbcbc" stroke-width="0.7" stroke-dasharray="2.2,1.0"/>
<line x1="405.9" y1="36.03" x2="650.3" y2="36.03" stroke="#bcbcbc" stroke-width="0.7" stroke-dasharray="2.2,1.0"/>
<line x1="405.9" y1="26.96" x2="650.3" y2="26.96" stroke="#bcbcbc" stroke-width="0.7" stroke-dasharray="2.2,1.0"/>
<line x1="429.59" y1="17.7" x2="429.59" y2="199.2" stroke="#d0d0d0" stroke-width="0.7" stroke-dasharray="1.5,1.2"/>
<line x1="445.37" y1="17.7" x2="445.37" y2="199.2" stroke="#d0d0d0" stroke-width="0.7" stroke-dasharray="1.5,1.2"/>
<line x1="461.16" y1="17.7" x2="461.16" y2="199.2" stroke="#d0d0d0" stroke-width="0.7" stroke-dasharray="1.5,1.2"/>
<line x1="476.95" y1="17.7" x2="476.95" y2="199.2" stroke="#d0d0d0" stroke-width="0.7" stroke-dasharray="1.5,1.2"/>
<line x1="508.52" y1="17.7" x2="508.52" y2="199.2" stroke="#d0d0d0" stroke-width="0.7" stroke-dasharray="1.5,1.2"/>
<line x1="524.31" y1="17.7" x2="524.31" y2="199.2" stroke="#d0d0d0" stroke-width="0.7" stroke-dasharray="1.5,1.2"/>
<line x1="540.1" y1="17.7" x2="540.1" y2="199.2" stroke="#d0d0d0" stroke-width="0.7" stroke-dasharray="1.5,1.2"/>
<line x1="555.88" y1="17.7" x2="555.88" y2="199.2" stroke="#d0d0d0" stroke-width="0.7" stroke-dasharray="1.5,1.2"/>
<line x1="587.46" y1="17.7" x2="587.46" y2="199.2" stroke="#d0d0d0" stroke-width="0.7" stroke-dasharray="1.5,1.2"/>
<line x1="603.24" y1="17.7" x2="603.24" y2="199.2" stroke="#d0d0d0" stroke-width="0.7" stroke-dasharray="1.5,1.2"/>
<line x1="619.03" y1="17.7" x2="619.03" y2="199.2" stroke="#d0d0d0" stroke-width="0.7" stroke-dasharray="1.5,1.2"/>
<line x1="634.82" y1="17.7" x2="634.82" y2="199.2" stroke="#d0d0d0" stroke-width="0.7" stroke-dasharray="1.5,1.2"/>
<line x1="405.9" y1="63.22" x2="650.3" y2="63.22" stroke="#a0a0a0" stroke-width="0.8"/>
<line x1="405.9" y1="108.55" x2="650.3" y2="108.55" stroke="#a0a0a0" stroke-width="0.8"/>
<line x1="405.9" y1="153.88" x2="650.3" y2="153.88" stroke="#a0a0a0" stroke-width="0.8"/>
<line x1="413.8" y1="17.7" x2="413.8" y2="199.2" stroke="#a0a0a0" stroke-width="0.8"/>
<line x1="492.74" y1="17.7" x2="492.74" y2="199.2" stroke="#a0a0a0" stroke-width="0.8"/>
<line x1="571.67" y1="17.7" x2="571.67" y2="199.2" stroke="#a0a0a0" stroke-width="0.8"/>
<polyline points="405.9,184.4 413.48,184.4 413.48,33.2 571.83,33.2 571.83,184.4 650.3,184.4" fill="none" stroke="#3a5ca8" stroke-width="1.0" stroke-dasharray="4,1.3,1,1.3"/>
<g clip-path="url(#cb)">
<polyline points="413.8,31.5 414.12,30.43 414.43,29.52 414.75,28.76 415.06,28.14 415.38,27.66 415.69,27.31 416.01,27.09 416.33,26.98 416.64,27 416.96,27.28 417.27,27.78 417.59,28.43 417.9,29.16 418.22,29.9 418.54,30.59 418.85,31.24 419.17,31.92 419.48,32.62 419.8,33.34 420.11,34.08 420.43,34.83 420.75,35.61 421.06,36.4 421.38,37.21 421.69,38.03 422.01,38.86 422.32,39.7 422.64,40.56 422.96,41.42 423.27,42.29 423.59,43.16 423.9,44.04 424.22,44.93 424.54,45.81 424.85,46.7 425.17,47.59 425.48,48.47 425.8,49.35 426.11,50.23 426.43,51.1 426.75,51.97 427.06,52.83 427.38,53.68 427.69,54.53 428.01,55.38 428.32,56.23 428.64,57.08 428.96,57.93 429.27,58.78 429.59,59.64 429.9,60.49 430.22,61.35 430.53,62.21 430.85,63.07 431.17,63.93 431.48,64.79 431.8,65.66 432.11,66.53 432.43,67.4 432.74,68.27 433.06,69.15 433.38,70.03 433.69,70.92 434.01,71.81 434.32,72.7 434.64,73.59 434.95,74.49 435.27,75.4 435.59,76.3 435.9,77.22 436.22,78.13 436.53,79.06 436.85,79.98 437.16,80.92 437.48,81.85 437.8,82.8 438.11,83.74 438.43,84.7 438.74,85.65 439.06,86.62 439.37,87.58 439.69,88.55 440.01,89.53 440.32,90.51 440.64,91.5 440.95,92.49 441.27,93.48 441.59,94.48 441.9,95.48 442.22,96.48 442.53,97.49 442.85,98.51 443.16,99.52 443.48,100.54 443.8,101.57 444.11,102.59 444.43,103.62 444.74,104.66 445.06,105.7 445.37,106.74 445.69,107.78 446.01,108.84 446.32,109.9 446.64,110.96 446.95,112.04 447.27,113.12 447.58,114.2 447.9,115.29 448.22,116.39 448.53,117.49 448.85,118.59 449.16,119.7 449.48,120.82 449.79,121.93 450.11,123.05" fill="none" stroke="#1f77b4" stroke-width="1.6" stroke-linejoin="round"/>
<path d="M414.09,32.37h0M414.35,31.74h0M414.3,29.66h0M414.61,28.67h0M414.8,28.26h0M415.54,28.82h0M415.47,27.7h0M415.88,26.97h0M416.48,27.33h0M416.36,26.81h0M417.26,26.18h0M417.44,28.58h0M417.82,27.07h0M418.15,29.8h0M418.45,30.01h0M418.67,30.71h0M418.7,30.84h0M419.23,32.16h0M419.76,32.64h0M419.61,33.44h0M420.32,33.88h0M420.44,34.64h0M420.84,35.68h0M420.8,35.99h0M421.62,36.48h0M421.41,38.44h0M421.94,39.23h0M422.38,40.09h0M422.54,40.98h0M423.03,41.82h0M423.4,42.31h0M423.79,42.81h0M424.2,44.46h0M423.98,44.75h0M424.41,46.09h0M424.92,45.36h0M424.91,47.51h0M425.21,48.13h0M426.04,49.93h0M425.88,50.75h0M426.42,51.05h0M426.69,52.43h0M427.32,52.92h0M427.16,53.11h0M427.69,54.97h0M427.75,55.88h0M428.59,56.2h0M428.49,57.28h0M428.84,57.66h0M429.01,58.92h0M429.32,60.26h0M429.77,61.68h0M430.47,61.23h0M430.38,62.65h0M430.78,63.07h0M431.33,64.95h0M431.61,65.26h0M432.09,65.54h0M432.34,66.04h0M432.34,66.9h0M432.89,67.66h0M432.99,69.23h0M433.41,69.58h0M433.97,70.8h0M434.32,72.01h0M434.24,73.01h0M434.4,74.08h0M434.76,74.01h0M435.52,75.44h0M435.69,76.76h0M435.64,77.35h0M436.22,77.18h0M436.63,79.87h0M436.56,80.78h0M437.42,80.21h0M437.5,82.68h0M438.07,82.11h0M438.06,84.11h0M438.57,84.54h0M438.89,85.01h0M438.79,85.97h0M439.67,87.22h0M439.86,88.63h0M439.98,89.74h0M440.39,90.71h0M440.76,90.71h0M441.09,92.37h0M441.21,92.9h0M441.58,95.81h0M441.74,95.73h0M442.18,96.37h0M442.75,97.76h0M442.75,97.4h0M443.42,100.19h0M443.51,100.31h0M443.89,101.14h0M443.88,103.1h0M444.53,103.21h0M444.83,104.48h0M444.95,104.16h0M445.23,105.98h0M445.8,107.85h0M445.73,108.35h0M446.52,109.72h0M446.52,111.26h0M446.69,111.72h0M447.32,112.89h0M447.55,113.38h0M448.04,116.1h0M448.37,117.17h0M448.27,117.95h0M448.92,118.27h0M449.41,119.16h0M449.65,120.92h0M449.92,121.84h0M450,123.07h0" stroke="#1f77b4" stroke-width="1.5" stroke-linecap="round" fill="none"/>
<polyline points="450.11,123.05 450.43,123.03 450.74,122.97 451.06,122.87 451.37,122.74 451.69,122.59 452,122.42 452.32,122.24 452.64,122.04 452.95,121.76 453.27,121.39 453.58,120.96 453.9,120.46 454.21,119.91 454.53,119.33 454.85,118.73 455.16,118.12 455.48,117.51 455.79,116.91 456.11,116.34 456.42,115.8 456.74,115.29 457.06,114.78 457.37,114.28 457.69,113.77 458,113.26 458.32,112.75 458.64,112.24 458.95,111.72 459.27,111.21 459.58,110.69 459.9,110.17 460.21,109.65 460.53,109.11 460.85,108.57 461.16,108.02 461.48,107.47 461.79,106.91 462.11,106.36 462.42,105.81 462.74,105.26 463.06,104.72 463.37,104.18 463.69,103.66 464,103.15 464.32,102.66 464.63,102.18 464.95,101.7 465.27,101.23 465.58,100.77 465.9,100.32 466.21,99.87 466.53,99.43 466.84,98.99 467.16,98.56 467.48,98.13 467.79,97.7 468.11,97.27 468.42,96.85 468.74,96.42 469.05,96 469.37,95.57 469.69,95.14 470,94.71 470.32,94.28 470.63,93.85 470.95,93.41 471.26,92.97 471.58,92.53 471.9,92.08 472.21,91.64 472.53,91.19 472.84,90.75 473.16,90.31 473.47,89.87 473.79,89.44 474.11,89.01 474.42,88.58 474.74,88.16 475.05,87.75 475.37,87.34 475.69,86.94 476,86.55 476.32,86.17 476.63,85.8 476.95,85.43 477.26,85.08 477.58,84.73 477.9,84.38 478.21,84.04 478.53,83.7 478.84,83.37 479.16,83.04 479.47,82.71 479.79,82.38 480.11,82.06 480.42,81.74 480.74,81.43 481.05,81.12 481.37,80.81 481.68,80.51 482,80.21 482.32,79.91 482.63,79.62 482.95,79.33 483.26,79.04 483.58,78.76 483.89,78.48 484.21,78.2 484.53,77.93 484.84,77.66 485.16,77.4 485.47,77.13 485.79,76.88 486.1,76.62 486.42,76.37 486.74,76.12 487.05,75.87 487.37,75.62 487.68,75.38 488,75.13 488.31,74.89 488.63,74.65 488.95,74.41 489.26,74.18 489.58,73.94 489.89,73.71 490.21,73.48 490.52,73.25 490.84,73.03 491.16,72.81 491.47,72.59 491.79,72.37 492.1,72.16 492.42,71.95 492.73,71.74 493.05,71.54 493.37,71.34 493.68,71.14 494,70.95 494.31,70.76 494.63,70.58 494.95,70.4 495.26,70.22 495.58,70.05 495.89,69.89 496.21,69.73 496.52,69.57 496.84,69.42 497.16,69.27 497.47,69.12 497.79,68.98 498.1,68.83 498.42,68.69 498.73,68.56 499.05,68.42 499.37,68.29 499.68,68.16 500,68.03 500.31,67.9 500.63,67.77 500.94,67.65 501.26,67.53 501.58,67.41 501.89,67.29 502.21,67.17 502.52,67.06 502.84,66.94 503.15,66.83 503.47,66.72 503.79,66.61 504.1,66.5 504.42,66.39 504.73,66.28 505.05,66.17 505.36,66.07 505.68,65.96 506,65.86 506.31,65.76 506.63,65.65 506.94,65.55 507.26,65.45 507.57,65.34 507.89,65.24 508.21,65.14 508.52,65.04 508.84,64.94 509.15,64.84 509.47,64.74 509.78,64.64 510.1,64.54 510.42,64.44 510.73,64.34 511.05,64.24 511.36,64.15 511.68,64.05 512,63.95 512.31,63.86 512.63,63.76 512.94,63.67 513.26,63.58 513.57,63.48 513.89,63.39 514.21,63.3 514.52,63.21 514.84,63.12 515.15,63.03 515.47,62.94 515.78,62.85 516.1,62.76 516.42,62.67 516.73,62.58 517.05,62.49 517.36,62.41 517.68,62.32 517.99,62.23 518.31,62.15 518.63,62.06 518.94,61.98 519.26,61.89 519.57,61.81 519.89,61.72 520.2,61.64 520.52,61.55 520.84,61.47 521.15,61.39 521.47,61.3 521.78,61.22 522.1,61.14 522.41,61.06 522.73,60.97 523.05,60.89 523.36,60.81 523.68,60.73 523.99,60.65 524.31,60.57 524.62,60.49 524.94,60.41 525.26,60.33 525.57,60.25 525.89,60.17 526.2,60.09 526.52,60.01 526.83,59.93 527.15,59.85 527.47,59.77 527.78,59.69 528.1,59.62 528.41,59.54 528.73,59.46 529.05,59.38 529.36,59.3 529.68,59.22 529.99,59.15 530.31,59.07 530.62,58.99 530.94,58.91 531.26,58.83 531.57,58.76 531.89,58.68 532.2,58.6 532.52,58.53 532.83,58.45 533.15,58.37 533.47,58.3 533.78,58.22 534.1,58.14 534.41,58.07 534.73,57.99 535.04,57.92 535.36,57.84 535.68,57.77 535.99,57.69 536.31,57.62 536.62,57.54 536.94,57.47 537.25,57.39 537.57,57.32 537.89,57.25 538.2,57.17 538.52,57.1 538.83,57.03 539.15,56.96 539.46,56.88 539.78,56.81 540.1,56.74 540.41,56.67 540.73,56.6 541.04,56.53 541.36,56.46 541.67,56.39 541.99,56.32 542.31,56.25 542.62,56.18 542.94,56.11 543.25,56.04 543.57,55.98 543.88,55.91 544.2,55.84 544.52,55.78 544.83,55.71 545.15,55.64 545.46,55.58 545.78,55.51 546.1,55.45 546.41,55.38 546.73,55.32 547.04,55.25 547.36,55.19 547.67,55.13 547.99,55.07 548.31,55 548.62,54.94 548.94,54.88 549.25,54.82 549.57,54.76 549.88,54.7 550.2,54.64 550.52,54.57 550.83,54.51 551.15,54.45 551.46,54.39 551.78,54.33 552.09,54.27 552.41,54.21 552.73,54.15 553.04,54.09 553.36,54.03 553.67,53.97 553.99,53.92 554.3,53.86 554.62,53.8 554.94,53.74 555.25,53.68 555.57,53.62 555.88,53.57 556.2,53.51 556.51,53.45 556.83,53.39 557.15,53.34 557.46,53.28 557.78,53.22 558.09,53.17 558.41,53.11 558.72,53.06 559.04,53 559.36,52.94 559.67,52.89 559.99,52.83 560.3,52.78 560.62,52.73 560.93,52.67 561.25,52.62 561.57,52.56 561.88,52.51 562.2,52.46 562.51,52.4 562.83,52.35 563.15,52.3 563.46,52.25 563.78,52.2 564.09,52.14 564.41,52.09 564.72,52.04 565.04,51.99 565.36,51.94 565.67,51.89 565.99,51.84 566.3,51.79 566.62,51.74 566.93,51.69 567.25,51.64 567.57,51.59 567.88,51.54 568.2,51.5 568.51,51.45 568.83,51.4 569.14,51.35 569.46,51.31 569.78,51.26 570.09,51.21 570.41,51.17 570.72,51.12 571.04,51.08 571.35,51.03 571.67,50.99" fill="none" stroke="#1f77b4" stroke-width="2.6" stroke-linejoin="round"/>
<path d="M450.13,126.53h0M450.2,124.9h0M450.35,121.32h0M450.33,121.45h0M450.72,120.71h0M450.44,121.7h0M450.88,128.14h0M450.79,122.42h0M451.62,122.15h0M451.12,125.62h0M451.45,118.9h0M451.45,123.04h0M452,120.62h0M451.89,120.96h0M452.45,121.13h0M452.23,119.51h0M452.41,122.47h0M452.59,120.24h0M453.15,120.97h0M452.72,124.39h0M453.47,122.84h0M453.34,123.98h0M453.89,124.74h0M453.67,124.29h0M453.82,119.63h0M454.17,123.51h0M454.15,118.05h0M454.34,120.58h0M454.72,120.02h0M454.63,122.02h0M454.82,118.11h0M454.78,120.74h0M454.97,116.94h0M455.14,116.85h0M455.67,121.14h0M455.76,116.66h0M455.89,121.27h0M456,115.37h0M456.27,120.8h0M456.32,118.63h0M456.53,113.28h0M456.32,115.5h0M456.52,114.01h0M456.66,120.44h0M457.28,113.34h0M457.17,116.64h0M457.19,111.03h0M457.11,114.32h0M457.97,114.13h0M457.85,117.24h0M458.01,115.28h0M457.97,113.48h0M458.32,110.1h0M458.2,110.28h0M458.94,112.92h0M458.46,114.77h0M458.72,114.42h0M459.17,108.4h0M459.22,110.75h0M459.02,113.55h0M459.49,107.72h0M459.85,109.71h0M459.67,108.73h0M459.68,108.54h0M460.49,109.08h0M460.02,110.83h0M460.63,112.62h0M460.22,112.01h0M460.69,110.52h0M460.84,107.64h0M461.13,109.68h0M461.47,106.5h0M461.2,105.73h0M461.31,104.48h0M461.6,103.86h0M462.08,112.58h0M462.33,103.14h0M461.99,106.01h0M462.39,105.6h0M462.37,107.2h0M462.47,104.8h0M462.73,105.1h0M463.15,106.18h0M462.81,108.63h0M463.25,101.48h0M463.53,103.1h0M463.8,105.79h0M463.56,104.71h0M464.27,101.62h0M463.91,104.33h0M464.4,102.08h0M464.22,100.56h0M464.32,100.46h0M464.86,102.53h0M464.87,103.55h0M465.05,102.51h0M465.2,99.72h0M465.38,101.64h0M465.38,97.42h0M465.56,97.13h0M465.92,97.28h0M465.73,98.86h0M466.02,102.37h0M466.16,96.41h0M466.44,97.87h0M466.23,100.8h0M467.04,100.8h0M466.81,100.28h0M467.19,98.25h0M467.39,101.52h0M467.36,95.71h0M467.72,98.87h0M467.89,96.55h0M467.98,101.21h0M468.1,91.18h0M468.08,95.19h0M468.41,97.08h0M468.59,99.32h0M468.51,93.36h0M468.67,97.3h0M469.34,96.93h0M469.35,97.9h0M469.48,98.19h0M469.29,95.79h0M469.9,95.16h0M469.42,96.08h0M469.89,97.06h0M469.69,91.69h0M470.57,91.05h0M470.4,96.13h0M470.46,91.27h0M470.8,93.85h0M470.73,93.65h0M470.87,89.36h0M470.99,89.14h0M471.23,93.97h0M471.51,91.18h0M471.5,93.93h0M471.89,95.59h0M472.08,90.41h0M472.19,90.85h0M472.37,90.27h0M472.72,86.73h0M472.67,91.94h0M472.97,89.9h0M472.69,90.6h0M473.09,94.43h0M473.26,90.9h0M473.65,93.32h0M473.56,89.95h0M473.5,91.82h0M473.64,91.99h0M473.9,86.27h0M474.01,90.08h0M474.44,89.38h0M474.26,88.12h0M474.89,92.78h0M474.47,90.27h0M475.1,89.54h0M475.01,87.11h0M475.38,87.08h0M475.22,88.86h0M475.86,83.52h0M475.39,88.27h0M475.81,88.41h0M476.3,85.98h0M476.34,87.88h0M476.03,83.85h0M476.91,85.4h0M476.58,87.5h0M476.74,81h0M477.13,86.52h0M477.37,85.42h0M477.09,84.69h0M477.71,84.29h0M477.55,84.17h0M477.59,87.33h0M477.76,84.53h0M478.04,88.43h0M478.16,84.83h0M478.31,84.22h0M478.34,82.87h0M478.63,85.27h0M478.65,83.07h0M479.37,84.21h0M478.9,83.15h0M479.47,84.86h0M479.65,80.99h0M479.79,80.78h0M479.76,85.91h0M479.89,82.9h0M479.96,83.11h0M480.6,86.1h0M480.24,84.64h0M480.62,82.27h0M480.66,84.22h0M481.16,81.14h0M481.28,79.97h0M481.34,82.43h0M481.2,79.89h0M481.41,77.98h0M481.79,82.1h0M481.86,78.1h0M481.94,78.06h0M482.06,77.4h0M482.06,80.11h0M482.87,79.28h0M482.89,81.5h0M482.78,77.74h0M482.92,78h0M483.55,78.47h0M483.15,79.25h0M483.27,80.31h0M483.31,83.61h0M484.01,79.83h0M484.11,82.24h0M484.1,78.69h0M484.48,80.09h0M484.43,73.36h0M484.81,79.37h0M484.58,79.75h0M484.95,74.14h0M485.2,80.92h0M485.42,75.14h0M485.28,74.78h0M485.37,77.48h0M485.61,79.77h0M486.09,78.25h0M485.98,76.47h0M485.85,74.99h0M486.63,75.38h0M486.48,75.61h0M486.86,77.13h0M486.66,74.05h0M486.92,78.12h0M487.31,77.41h0M487.28,75.4h0M487.36,74.18h0M487.59,74.55h0M487.58,74.45h0M488.28,76.26h0M488.19,73.24h0M488.46,79.3h0M488.53,76.37h0M488.76,77.5h0M488.49,77.01h0M488.77,73.66h0M488.91,72.88h0M489.44,76.35h0M489.54,74.33h0M489.45,70.18h0M489.83,73.44h0M489.79,70.83h0M490.1,71.65h0M490.4,71.19h0M490.19,74.22h0M490.45,72.61h0M490.54,68.68h0M490.86,74.69h0M491.15,75.44h0M490.86,70.35h0M491.18,74.09h0M491.67,72.56h0M491.61,71.43h0M491.81,73.25h0M491.99,72.93h0M492.36,74.66h0M492.28,72.52h0M492.33,74.73h0M492.31,71.21h0M492.57,71.61h0M492.49,69.63h0M493,72.14h0M492.91,69.46h0M493.53,69.05h0M493.43,68.9h0M493.72,69.68h0M493.54,70.33h0M494.12,70.49h0M494.29,72h0M494.51,70.98h0M494.58,70.95h0M494.65,66.43h0M494.89,73.18h0M495.01,71.05h0M494.99,69.98h0M495.52,72.27h0M495.41,68.86h0M495.3,71.47h0M495.55,69.44h0M495.76,69.93h0M496.1,74.63h0M496.08,68.63h0M496.43,72.46h0M496.73,69.03h0M496.4,66.69h0M496.94,67.76h0M497.08,69.55h0M497.31,69.27h0M497.08,69.02h0M497.72,69.68h0M497.73,70.95h0M497.58,69.08h0M497.66,69.22h0M498.1,64.75h0M498.26,67.92h0M498.19,64.22h0M498.61,68.87h0M498.97,67.93h0M498.65,68.59h0M498.85,70.22h0M498.88,70.46h0M499.29,68.96h0M499.35,66.4h0M499.78,70.42h0M499.92,71h0M500.25,68.23h0M500.19,69.42h0M500.33,69.42h0M500.38,64.81h0M500.81,68.01h0M500.84,66.77h0M500.78,67.95h0M500.79,66.23h0M500.96,67.86h0M501.31,68.03h0M501.75,66.19h0M501.4,67.72h0M501.65,64.8h0M501.72,68.88h0M502.49,64.28h0M502.25,69.58h0M502.65,68.07h0M502.42,66.99h0M502.65,69.41h0M502.92,68.34h0M502.87,65.55h0M503.08,67.52h0M503.53,68.4h0M503.67,65.39h0M503.9,66.6h0M503.85,65.63h0M503.83,63.7h0M504.09,66.68h0M504.58,65.88h0M504.11,60.88h0M504.62,70.55h0M504.55,66.05h0M504.99,67.94h0M504.76,65.48h0M505.67,67.88h0M505.28,67.17h0M505.48,68.78h0M505.9,64.63h0M506.18,66h0M505.69,66.63h0M506.46,68.03h0M506.19,63.51h0M506.44,69.23h0M506.38,63.66h0M506.68,64.94h0M507.11,66.79h0M507.36,65.44h0M507.33,68.56h0M507.7,62.65h0M507.43,68.11h0M507.65,66.58h0M507.99,63.59h0M508.12,66.11h0M508.02,64.86h0M508.57,64.83h0M508.23,66.59h0M509.15,66.07h0M508.98,61.53h0M509.25,63.2h0M509.23,63.85h0M509.22,64.78h0M509.17,66.68h0M509.96,67.45h0M509.94,63.58h0M509.86,65.89h0M510.22,65.27h0M510.42,66.86h0M510.5,67.97h0M510.46,64.3h0M510.95,66.4h0M511.26,60.43h0M511.1,61.07h0M511.51,64.89h0M511.36,62.02h0M511.78,65.95h0M511.38,61.9h0M511.79,59.88h0M512.13,62.85h0M512.29,59.58h0M512.32,68.36h0M512.55,64.05h0M512.71,64.46h0M512.84,62.46h0M513.07,63.8h0M513.31,62.52h0M513.42,63.42h0M513.71,65.35h0M513.47,66.31h0M513.82,61.45h0M514.14,64.95h0M514.41,62.34h0M514.35,62.71h0M514.3,64.35h0M514.57,66.41h0M514.62,62.81h0M514.74,60.75h0M515.31,68.77h0M515.07,66h0M515.21,57.86h0M515.64,62.79h0M515.7,62.13h0M515.66,60.22h0M516.36,59.55h0M516.33,62.19h0M516.54,61.22h0M516.44,64.1h0M516.65,62.69h0M516.98,65.22h0M517.22,61.25h0M516.85,61.54h0M517.41,61.41h0M517.2,61.26h0M517.57,66.19h0M517.38,62.85h0M518.06,64.21h0M517.86,63.01h0M518.62,61.14h0M518.1,59.23h0M518.59,62.57h0M518.61,63.67h0M519.18,63.09h0M518.67,62.34h0M519.56,62.43h0M519.08,61.56h0M519.7,60.53h0M519.48,65.12h0M519.76,65.16h0M519.73,63.28h0M519.89,62.91h0M520.39,58.78h0M520.58,62.25h0M520.63,59.77h0M520.98,63.78h0M521.13,64.34h0M521.2,56.15h0M521.01,59.45h0M521.56,63.55h0M521.33,61.78h0M521.53,57.28h0M521.54,60.44h0M522.27,62.32h0M522.02,59.35h0M522.64,60.21h0M522.31,65.2h0M522.85,56.33h0M523.04,58.91h0M523.15,61.13h0M522.78,62.09h0M523.53,62.45h0M523.21,64.7h0M523.7,60.55h0M523.83,62.2h0M524.19,63.12h0M523.99,62.3h0M524.49,56.28h0M524.14,62.03h0M524.74,58.32h0M524.85,57.53h0M525.22,60.27h0M525.25,58.88h0M525.4,62.47h0M525.21,61.09h0M525.29,60.04h0M525.32,62.26h0M525.71,62.09h0M525.78,56.17h0M526.48,57.67h0M526.3,60.25h0M526.72,62.22h0M526.25,59.81h0M526.63,62.1h0M527.1,60.47h0M527.1,59.86h0M527.32,59.59h0M527.26,61.14h0M527.75,58.24h0M527.99,57.07h0M527.66,60.5h0M527.88,59.27h0M527.82,60.66h0M528.55,59.17h0M528.54,56.82h0M528.94,60.63h0M528.95,60.96h0M529.31,59.82h0M528.76,60.14h0M529.29,58.91h0M529.16,59.23h0M529.84,66.69h0M529.52,63.09h0M530.16,56.84h0M529.76,59.94h0M530.61,59.34h0M530.04,60.26h0M530.55,56.57h0M530.49,57.04h0M530.64,58.76h0M531.17,57.97h0M531.37,58.35h0M531.06,60.43h0M531.82,59.33h0M531.54,55.77h0M532.16,57.59h0M531.76,53.88h0M532.13,57.49h0M532.18,61.49h0M532.21,57.7h0M532.64,59.01h0M532.62,61.39h0M532.89,61.42h0M533.13,56.02h0M533.21,56.58h0M533.7,60.07h0M533.41,59.08h0M534.02,58.58h0M534,56.97h0M533.96,57.71h0M534.33,55.19h0M534.33,59h0M534.38,54.77h0M534.55,56.46h0M534.58,57.64h0M535.05,57.75h0M535.22,56.86h0M535.32,56.1h0M535.13,58.44h0M535.72,58.66h0M535.92,58.32h0M535.75,58.49h0M536.02,55.84h0M536.09,56.23h0M536.43,60.99h0M536.82,58.59h0M536.83,59.95h0M537.05,57.96h0M536.88,58.35h0M537.5,58.93h0M537.18,56.21h0M537.36,58.25h0M537.82,56.98h0M538.04,57.77h0M537.59,56.05h0M538.19,56.07h0M537.9,57.79h0M538.41,56.33h0M538.32,56.85h0M538.77,54.2h0M538.94,58.61h0M538.87,56.62h0M539.42,57.06h0M539.73,57.34h0M539.53,52.87h0M539.69,56.26h0M539.6,54.73h0M540.1,54.53h0M540.03,56.21h0M540.5,56.05h0M540.48,58.27h0M540.8,57.97h0M540.65,56.46h0M541.32,59.95h0M540.73,54.76h0M541.59,53.06h0M541.56,58.92h0M541.93,55.49h0M541.64,54.48h0M541.81,57.53h0M541.84,57.86h0M542.5,59.21h0M542.62,55.07h0M542.78,56.32h0M542.38,55.4h0M543.22,57.71h0M543.2,56.05h0M543.5,54.14h0M543.33,56.01h0M543.7,54.53h0M543.59,53.69h0M543.57,55.59h0M544.1,54.85h0M543.93,53.91h0M544.21,54.05h0M544.75,53.22h0M544.81,60.01h0M544.8,55.49h0M545.12,56.11h0M545.22,51.36h0M545.35,55.34h0M545.41,54.46h0M545.69,51.67h0M545.86,60.1h0M545.58,56.22h0M546.26,59.81h0M546.41,52.03h0M546.21,52.99h0M546.28,50.59h0M546.7,55.7h0M546.99,54.25h0M546.99,53.81h0M547.27,58.9h0M547.39,55.9h0M547.35,54.5h0M547.53,57.89h0M547.6,56.19h0M547.93,52.78h0M547.73,54.06h0M548.41,57.22h0M548.28,56.93h0M548.7,54.01h0M548.79,57.67h0M548.66,56.45h0M549.22,55.12h0M549.54,52.93h0M548.97,56.03h0M549.51,55.37h0M549.84,54.51h0M550.18,55.6h0M549.72,55.22h0M550.21,51.58h0M550.44,51.35h0M550.23,53.8h0M550.58,53.98h0M550.82,54.02h0M550.92,51.85h0M550.99,55.07h0M551.04,52.41h0M551.46,52.76h0M551.15,50.94h0M551.67,52.42h0M551.75,55.05h0M552.08,53.47h0M551.95,53.53h0M552.11,55.88h0M552.39,55.04h0M552.62,56.42h0M552.74,57.24h0M552.93,52.85h0M552.75,56.59h0M553.24,53.75h0M553.42,55.35h0M553.74,51.93h0M553.61,53.22h0M553.68,53.09h0M553.96,52.21h0M554.55,53.62h0M554.5,56.12h0M554.42,53.73h0M554.67,52.99h0M555.23,53.85h0M554.84,53.16h0M555.01,56.13h0M554.98,53.19h0M555.33,49.3h0M555.45,55.41h0M555.62,55.29h0M555.98,48.24h0M556.33,52.05h0M556.3,49.81h0M556.67,50.97h0M556.33,56.29h0M556.64,50.39h0M556.68,52.93h0M557.36,54.74h0M557.11,51.99h0M557.65,52.51h0M557.42,52.25h0M557.9,55.61h0M557.88,48.76h0M558.13,53.43h0M558.31,51.22h0M558.39,56.41h0M558.13,55.53h0M558.86,51.94h0M558.64,51.4h0M559.3,54.31h0M559.25,51.53h0M559.25,54.26h0M559.18,54.03h0M559.46,54.24h0M559.97,54.93h0M559.71,55.61h0M560.26,52.71h0M560.42,50.65h0M560.11,51.41h0M560.74,48.07h0M560.85,53.16h0M560.77,51.9h0M561.03,54.26h0M561.14,52.46h0M561.23,50.68h0M561.59,51.98h0M561.66,54.29h0M561.88,54.54h0M561.88,53.7h0M562,54.69h0M562.43,54.9h0M562.73,52.08h0M562.56,55h0M562.99,53.98h0M562.7,51.58h0M563.13,55.97h0M562.87,51.15h0M563.53,54.34h0M563.21,55.02h0M563.85,52.89h0M563.74,53.27h0M564.36,52.82h0M564.27,49.39h0M564.19,52h0M564.7,55.26h0M564.73,53.02h0M564.66,51.31h0M564.89,51.54h0M564.79,54.05h0M565.32,53h0M565.44,53.27h0M565.57,54.43h0M565.6,52.09h0M566.18,53.18h0M565.95,52.29h0M566.06,51.71h0M566.05,53.17h0M566.7,48.93h0M566.93,53.42h0M566.71,51.45h0M566.9,52.16h0M567.42,51.54h0M567.29,49.02h0M567.62,53.72h0M567.84,50.16h0M568.18,53.73h0M567.63,50.56h0M568.37,54.04h0M568.26,52.06h0M568.33,52.91h0M568.24,52.41h0M568.66,49.63h0M568.71,49.39h0M569.33,51.47h0M568.86,52.69h0M569.53,49.62h0M569.3,53.66h0M569.77,54.22h0M569.81,51.54h0M569.8,51.51h0M569.97,50.9h0M570.12,51.26h0M570.21,45.7h0M570.92,52.83h0M570.95,52.02h0M570.86,52.57h0M570.91,49.27h0M571.09,52.64h0M571.36,53.43h0M571.88,51.43h0M571.39,52.27h0" stroke="#1f77b4" stroke-width="1.5" stroke-linecap="round" fill="none"/>
<path d="M413.26,185.1h0M414.34,119.12h0M413.43,74.54h0M413.18,150.16h0M414.38,43.66h0M413.97,174.93h0M413.57,185.58h0M413.45,185.98h0M413.33,86.81h0M413.3,164.72h0M414.31,135.4h0M413.59,176.01h0M414.17,79.77h0M413.86,89.31h0M413.3,147.66h0M413.91,34.76h0M414.2,85.59h0M413.82,187.67h0M414.29,179.23h0M413.33,77.05h0M414.19,61.79h0M413.74,161.24h0M413.21,51.22h0M414.4,150.3h0M414.26,124.45h0M413.56,107.71h0M413.18,117.9h0M413.42,73.88h0M413.8,48.36h0M414.3,138.45h0M413.52,36.9h0M413.81,174.39h0M413.23,28.53h0M413.9,181.24h0M413.81,107.88h0M413.72,34.91h0M414.37,169.74h0M413.36,123.65h0M414.22,88.36h0M414.09,96.14h0M449.07,119.11h0M447.83,123.06h0M448.97,130.58h0M453.9,128.33h0M448.1,131.98h0M451.91,144.29h0M449.34,145.56h0M451.15,133.55h0M450.92,136.38h0M451.89,140.44h0M453.47,114.4h0M450.86,130.77h0M453.17,136.58h0M452.81,136.66h0M452.29,135.12h0M451.55,115.54h0M448.09,119.46h0M451.16,133.63h0M449.95,143.87h0M449.37,125.55h0M448.36,124.02h0M453.82,113.72h0M453.36,119.48h0M448.87,114.07h0M449.02,117.42h0M453.29,125.59h0M451.03,139.54h0M451.02,136.55h0M448.54,141.93h0M452.8,115.65h0M571.22,85.35h0M571.37,80.4h0M571.28,62.09h0M571.57,68.38h0M571.3,58.78h0M571.4,69.61h0M571.62,48.99h0M571.35,56.57h0M571.43,49.4h0M571.54,65.28h0M572.15,58.44h0M571.16,80.31h0M572.29,84.7h0M571.42,46.77h0M571.06,79.3h0M571.31,82.36h0M571.63,61.72h0M571.44,81.46h0" stroke="#1f77b4" stroke-width="1.6" stroke-linecap="round"/>
<polyline points="572.62,33.76 572.93,32.82 573.25,31.97 573.56,31.21 573.88,30.55 574.2,29.98 574.51,29.48 574.83,29.07 575.14,28.72 575.46,28.44 575.77,28.22 576.09,28.06 576.41,27.95 576.72,27.89 577.04,27.87 577.35,27.97 577.67,28.25 577.98,28.69 578.3,29.27 578.62,29.96 578.93,30.74 579.25,31.6 579.56,32.5 579.88,33.42 580.19,34.35 580.51,35.26 580.83,36.13 581.14,36.94 581.46,37.76 581.77,38.68 582.09,39.68 582.41,40.74 582.72,41.85 583.04,42.99 583.35,44.13 583.67,45.26 583.98,46.36 584.3,47.41 584.62,48.4 584.93,49.3 585.25,50.09 585.56,50.77 585.88,51.3 586.19,51.67 586.51,51.87 586.83,51.88 587.14,51.81 587.46,51.67 587.77,51.47 588.09,51.23 588.4,50.95 588.72,50.64 589.04,50.31 589.35,49.97 589.67,49.64 589.98,49.31 590.3,49 590.61,48.72 590.93,48.45 591.25,48.17 591.56,47.88 591.88,47.59 592.19,47.29 592.51,46.99 592.82,46.69 593.14,46.4 593.46,46.11 593.77,45.83 594.09,45.56 594.4,45.3 594.72,45.06 595.03,44.84 595.35,44.64 595.67,44.45 595.98,44.27 596.3,44.09 596.61,43.91 596.93,43.73 597.24,43.56 597.56,43.39 597.88,43.22 598.19,43.05 598.51,42.89 598.82,42.73 599.14,42.58 599.46,42.43 599.77,42.28 600.09,42.14 600.4,42 600.72,41.87 601.03,41.74 601.35,41.61 601.67,41.49 601.98,41.38 602.3,41.26 602.61,41.16 602.93,41.06 603.24,40.96 603.56,40.87 603.88,40.78 604.19,40.7 604.51,40.63 604.82,40.56 605.14,40.5 605.45,40.43 605.77,40.37 606.09,40.31 606.4,40.25 606.72,40.19 607.03,40.14 607.35,40.08 607.66,40.02 607.98,39.97 608.3,39.92 608.61,39.86 608.93,39.81 609.24,39.76 609.56,39.71 609.87,39.66 610.19,39.62 610.51,39.57 610.82,39.52 611.14,39.48 611.45,39.44 611.77,39.39 612.08,39.35 612.4,39.31 612.72,39.27 613.03,39.23 613.35,39.19 613.66,39.15 613.98,39.11 614.29,39.07 614.61,39.04 614.93,39 615.24,38.96 615.56,38.93 615.87,38.89 616.19,38.86 616.51,38.83 616.82,38.79 617.14,38.76 617.45,38.73 617.77,38.69 618.08,38.66 618.4,38.63 618.72,38.6 619.03,38.57 619.35,38.54 619.66,38.51 619.98,38.48 620.29,38.45 620.61,38.42 620.93,38.39 621.24,38.36 621.56,38.33 621.87,38.3 622.19,38.28 622.5,38.25 622.82,38.22 623.14,38.19 623.45,38.16 623.77,38.13 624.08,38.1 624.4,38.08 624.71,38.05 625.03,38.02 625.35,37.99 625.66,37.96 625.98,37.93 626.29,37.9 626.61,37.87 626.92,37.84 627.24,37.81 627.56,37.78 627.87,37.75 628.19,37.72 628.5,37.69 628.82,37.67 629.13,37.64 629.45,37.61 629.77,37.58 630.08,37.55 630.4,37.52 630.71,37.49 631.03,37.46 631.34,37.44 631.66,37.41 631.98,37.38 632.29,37.35 632.61,37.32 632.92,37.3 633.24,37.27 633.56,37.24 633.87,37.21 634.19,37.19 634.5,37.16 634.82,37.13 635.13,37.11 635.45,37.08 635.77,37.05 636.08,37.03 636.4,37 636.71,36.98 637.03,36.95 637.34,36.92 637.66,36.9 637.98,36.87 638.29,36.85 638.61,36.82 638.92,36.8 639.24,36.78 639.55,36.75 639.87,36.73 640.19,36.7 640.5,36.68 640.82,36.66 641.13,36.63 641.45,36.61 641.76,36.59 642.08,36.56 642.4,36.54 642.71,36.52 643.03,36.5 643.34,36.47 643.66,36.45 643.97,36.43 644.29,36.41 644.61,36.39 644.92,36.37 645.24,36.35 645.55,36.33 645.87,36.31 646.18,36.29 646.5,36.27 646.82,36.25 647.13,36.23 647.45,36.21 647.76,36.19 648.08,36.17 648.39,36.15 648.71,36.13 649.03,36.12 649.34,36.1 649.66,36.08 649.97,36.06 650.29,36.05 650.61,36.03" fill="none" stroke="#1f77b4" stroke-width="2.0" stroke-linejoin="round"/>
<path d="M572.54,33.55h0M573.05,34.45h0M573.16,31.36h0M573.31,31.05h0M573.99,30.89h0M574.33,30.52h0M574.29,29.2h0M574.54,29.33h0M575.1,28.46h0M575.27,27.04h0M576.08,28.21h0M576.34,27.23h0M576.46,27.52h0M576.79,28.41h0M576.95,26.88h0M577.08,27.41h0M577.84,29.05h0M577.77,28.47h0M578.01,27.82h0M578.71,29.24h0M578.88,30.16h0M578.94,31.97h0M579.58,32.55h0M579.82,33.1h0M579.91,34.96h0M580.62,36.65h0M580.98,34.87h0M581.26,37.5h0M581.77,39.1h0M582.09,40.79h0M581.9,38.41h0M582.42,40.92h0M582.86,42.58h0M583.24,43.9h0M583.58,43.31h0M583.36,45.55h0M583.74,47.45h0M584.04,47.13h0M584.42,48.43h0M585.03,49.83h0M585.07,50.67h0M585.27,51.34h0M585.77,51.33h0M586.11,52.11h0M586.55,52.81h0M586.95,51.12h0M587.02,50.76h0M587.48,51.84h0M587.74,51.49h0M587.9,50.46h0M588.54,51.51h0M588.99,50.39h0M589.3,49.34h0M589.46,50.2h0M589.73,51.24h0M589.71,50.3h0M590.14,49.61h0M590.54,48.78h0M591.02,49.82h0M591.04,49.38h0M591.8,47.58h0M592.16,45.92h0M592.12,46.8h0M592.47,47.15h0M592.78,45.79h0M593,45.54h0M593.41,45.32h0M593.74,46.84h0M594.27,44.07h0M594.34,46.46h0M594.62,45.36h0M595.17,46.71h0M595.28,44.42h0M595.68,44.66h0M596.29,43.78h0M596.33,44.33h0M596.57,44.91h0M596.79,43.83h0M597.53,44.74h0M597.42,41.74h0M597.81,44.59h0M598.23,42.57h0M598.26,43.81h0M598.94,43.38h0M598.91,43.08h0M599.64,41.85h0M599.76,42.3h0M599.97,42.07h0M600.62,43.15h0M600.71,41.24h0M601.29,41.98h0M601.3,42.01h0M601.57,40.36h0M601.81,40.65h0M602.46,41.25h0M602.6,40.57h0M603.01,42.03h0M603.12,41.11h0M603.36,40.74h0M603.56,41.13h0M603.94,41.25h0M604.43,40.75h0M604.95,41.52h0M605.29,40.61h0M605.48,39.54h0M605.46,39.96h0M605.94,40.11h0M606.64,40.72h0M606.47,38.53h0M607.06,40.08h0M607.25,40.94h0M607.53,38.26h0M608.17,38.27h0M608.56,39.85h0M608.44,39.35h0M608.93,39.46h0M609.29,39.62h0M609.62,39.05h0M609.58,40.18h0M609.88,40.12h0M610.6,40.35h0M610.56,39.18h0M611.05,39.47h0M611.52,39.5h0M611.72,38.57h0M611.92,39.76h0M612.64,39.43h0M612.64,38.88h0M612.92,37.66h0M613.61,37.63h0M613.5,38.56h0M613.84,39h0M614.54,38.52h0M614.92,39.97h0M615.15,38.43h0M615.06,38.14h0M615.76,38.95h0M615.69,40.02h0M615.96,38.28h0M616.51,39.18h0M616.54,38.77h0M616.89,39.33h0M617.25,38.54h0M617.69,39.76h0M618.19,38.89h0M618.59,38.04h0M618.64,38.78h0M618.91,38.82h0M619.54,37.48h0M619.89,36.49h0M620.1,38.59h0M620.13,38.65h0M620.87,39.19h0M621.18,38.11h0M621.43,37.54h0M621.72,38.07h0M621.97,38.65h0M622.48,37.83h0M622.29,38.2h0M623.02,38.48h0M623.18,39.01h0M623.53,37.8h0M623.91,38.09h0M624.12,37.03h0M624.09,38.57h0M624.63,37.94h0M624.86,37.63h0M625.64,38.38h0M625.75,38.2h0M626.09,38.13h0M625.98,37.56h0M626.39,36.52h0M626.93,37.4h0M627.4,38.97h0M627.84,38.48h0M628.09,37.78h0M627.92,37.12h0M628.59,37.51h0M628.78,37.13h0M628.93,38.22h0M629.3,35.47h0M629.56,37.79h0M630.31,38.73h0M630.57,37.47h0M630.69,35.99h0M631.24,38.19h0M631.6,36.93h0M631.35,37.02h0M631.85,36.08h0M632.28,37.07h0M632.87,36.59h0M632.83,37.03h0M633.34,36.85h0M633.49,37.94h0M633.56,38.07h0M634.33,36.97h0M634.53,37.14h0M635.02,36.99h0M635.01,36.07h0M635.52,38.08h0M635.76,37.06h0M635.97,36.07h0M636.7,37.97h0M636.92,37.71h0M636.96,38.4h0M637.59,36.4h0M637.48,36.52h0M637.93,38.06h0M638.28,35.9h0M638.49,37.2h0M638.84,37.06h0M639.46,36.38h0M639.71,36.1h0M640.01,37.49h0M639.96,36.49h0M640.78,36.74h0M640.91,35.48h0M640.93,37.22h0M641.65,35.45h0M641.52,38.01h0M642.16,36.06h0M642.69,35.27h0M642.97,35.96h0M643.19,35.42h0M643.05,35.63h0M643.46,37.6h0M643.81,36.93h0M644.18,35.43h0M644.72,36.17h0M645.16,36.46h0M645.36,35.16h0M645.3,35.93h0M646.13,37.95h0M646.2,37.2h0M646.65,36.19h0M646.73,36.56h0M647.05,37.01h0M647.64,36.39h0M647.97,36.54h0M648.39,34.76h0M648.32,36.17h0M648.41,36.2h0M649,36.39h0M649.59,36.48h0M649.67,36.08h0M649.72,36.2h0M650.3,36.05h0M650.83,36.07h0" stroke="#1f77b4" stroke-width="1.5" stroke-linecap="round" fill="none"/>
<path d="M414.7,58.89h0M414.99,65.23h0M415.71,47.11h0M415.91,69.47h0M418.17,147.99h0M415.23,9.47h0M415.29,38.57h0M418.42,117.58h0M419.28,97.91h0M420.09,116.66h0M418.34,99.98h0M417.09,73.47h0M418.42,146.28h0M415.94,94.81h0M418.08,86.63h0M415.8,46.13h0M414.97,69.35h0M415.43,50.91h0M415.69,68.7h0M415.7,52.09h0M415.87,5.34h0M420.78,149.85h0M417.01,98.83h0M416.71,81.88h0M416.59,84.61h0M414.62,33.99h0M414.76,35.09h0M418.35,129.16h0M418.56,123.47h0M420.09,133.18h0M417.84,119.37h0M419.68,120.26h0M420.01,111.77h0M417.35,61.6h0M419.02,97.45h0M420.82,135.56h0M415.68,56.44h0M421.38,148.57h0M414.49,52.71h0M414.68,50.95h0M416.41,85.82h0M416.33,19.92h0M418.46,151.16h0M416.29,73.92h0M421.03,177.88h0M425.77,128.26h0M422.18,167.62h0M422.92,141.41h0M424.47,140.23h0M422.44,171.82h0M423.05,152.69h0M424.13,151.28h0M424.63,149.91h0M422.69,156.81h0M427.49,101.7h0M424.67,125.01h0M426.08,127.88h0M421.28,171.04h0M427.92,104.12h0M424.75,122.68h0M424.19,134.42h0M424.94,127.69h0M426.49,113.44h0M428.06,113.36h0M424.11,146.72h0M424.16,150.08h0M423.94,160.82h0M424.38,136.64h0M422.74,162.26h0M425.39,128.61h0M422.34,156.76h0M423.6,160.91h0M423.68,158.29h0M422.09,166.03h0M423.5,155.62h0M423.81,142.91h0M425.01,154.81h0M422.14,155.01h0M427.58,107.54h0M422.38,161.62h0M424.77,132.57h0M421.72,185.12h0M426.46,118.7h0M421.14,168.75h0M421.47,174.37h0" stroke="#ff7f0e" stroke-width="1.6" stroke-linecap="round"/>
<polyline points="425.96,124.41 426.27,121.15 426.59,117.99 426.9,114.94 427.22,112.04 427.53,109.27 427.85,106.67 428.17,104.25 428.48,102.01 428.8,99.97 429.11,98.14 429.43,96.46 429.74,94.91 430.06,93.47 430.38,92.11 430.69,90.82 431.01,89.57 431.32,88.35 431.64,87.13 431.96,85.89 432.27,84.63 432.59,83.36 432.9,82.11 433.22,80.88 433.53,79.67 433.85,78.52 434.17,77.42 434.48,76.39 434.8,75.45 435.11,74.59 435.43,73.75 435.74,72.94 436.06,72.14 436.38,71.37 436.69,70.62 437.01,69.88 437.32,69.17 437.64,68.48 437.95,67.82 438.27,67.18 438.59,66.56 438.9,65.97 439.22,65.4 439.53,64.86 439.85,64.35 440.16,63.86 440.48,63.4 440.8,62.98 441.11,62.57 441.43,62.18 441.74,61.81 442.06,61.44 442.37,61.08 442.69,60.74 443.01,60.4 443.32,60.07 443.64,59.75 443.95,59.45 444.27,59.15 444.58,58.86 444.9,58.58 445.22,58.31 445.53,58.05 445.85,57.8 446.16,57.55 446.48,57.31 446.79,57.09 447.11,56.87 447.43,56.65 447.74,56.45 448.06,56.25 448.37,56.06 448.69,55.88 449.01,55.71 449.32,55.54 449.64,55.39 449.95,55.23 450.27,55.09 450.58,54.95 450.9,54.81 451.22,54.68 451.53,54.55 451.85,54.43 452.16,54.3 452.48,54.18 452.79,54.06 453.11,53.94 453.43,53.82 453.74,53.7 454.06,53.57 454.37,53.45 454.69,53.32 455,53.19 455.32,53.05 455.64,52.92 455.95,52.78 456.27,52.64 456.58,52.51 456.9,52.37 457.21,52.23 457.53,52.08 457.85,51.94 458.16,51.8 458.48,51.65 458.79,51.51 459.11,51.37 459.42,51.22 459.74,51.08 460.06,50.93 460.37,50.79 460.69,50.65 461,50.5 461.32,50.36 461.63,50.22 461.95,50.08 462.27,49.94 462.58,49.8 462.9,49.66 463.21,49.52 463.53,49.38 463.84,49.25 464.16,49.12 464.48,48.99 464.79,48.86 465.11,48.73 465.42,48.6 465.74,48.48 466.05,48.36 466.37,48.24 466.69,48.12 467,48.01 467.32,47.89 467.63,47.78 467.95,47.68 468.27,47.58 468.58,47.48 468.9,47.38 469.21,47.29 469.53,47.19 469.84,47.11 470.16,47.03 470.48,46.95 470.79,46.87 471.11,46.8 471.42,46.72 471.74,46.65 472.05,46.58 472.37,46.51 472.69,46.44 473,46.37 473.32,46.3 473.63,46.23 473.95,46.17 474.26,46.1 474.58,46.04 474.9,45.97 475.21,45.91 475.53,45.85 475.84,45.79 476.16,45.73 476.47,45.67 476.79,45.61 477.11,45.55 477.42,45.49 477.74,45.43 478.05,45.38 478.37,45.32 478.68,45.26 479,45.21 479.32,45.16 479.63,45.1 479.95,45.05 480.26,45 480.58,44.95 480.89,44.9 481.21,44.84 481.53,44.79 481.84,44.75 482.16,44.7 482.47,44.65 482.79,44.6 483.1,44.55 483.42,44.51 483.74,44.46 484.05,44.41 484.37,44.37 484.68,44.32 485,44.28 485.32,44.23 485.63,44.19 485.95,44.15 486.26,44.1 486.58,44.06 486.89,44.02 487.21,43.98 487.53,43.94 487.84,43.89 488.16,43.85 488.47,43.81 488.79,43.77 489.1,43.73 489.42,43.69 489.74,43.65 490.05,43.61 490.37,43.57 490.68,43.53 491,43.49 491.31,43.46 491.63,43.42 491.95,43.38 492.26,43.34 492.58,43.3 492.89,43.26 493.21,43.22 493.52,43.19 493.84,43.15 494.16,43.11 494.47,43.07 494.79,43.04 495.1,43 495.42,42.96 495.73,42.93 496.05,42.89 496.37,42.85 496.68,42.82 497,42.78 497.31,42.74 497.63,42.71 497.94,42.67 498.26,42.63 498.58,42.6 498.89,42.56 499.21,42.53 499.52,42.49 499.84,42.46 500.15,42.42 500.47,42.39 500.79,42.35 501.1,42.32 501.42,42.28 501.73,42.25 502.05,42.22 502.37,42.18 502.68,42.15 503,42.12 503.31,42.08 503.63,42.05 503.94,42.02 504.26,41.98 504.58,41.95 504.89,41.92 505.21,41.88 505.52,41.85 505.84,41.82 506.15,41.79 506.47,41.75 506.79,41.72 507.1,41.69 507.42,41.66 507.73,41.63 508.05,41.6 508.36,41.57 508.68,41.53 509,41.5 509.31,41.47 509.63,41.44 509.94,41.41 510.26,41.38 510.57,41.35 510.89,41.32 511.21,41.29 511.52,41.26 511.84,41.23 512.15,41.2 512.47,41.17 512.78,41.15 513.1,41.12 513.42,41.09 513.73,41.06 514.05,41.03 514.36,41 514.68,40.97 514.99,40.95 515.31,40.92 515.63,40.89 515.94,40.86 516.26,40.84 516.57,40.81 516.89,40.78 517.2,40.75 517.52,40.73 517.84,40.7 518.15,40.67 518.47,40.65 518.78,40.62 519.1,40.6 519.42,40.57 519.73,40.54 520.05,40.52 520.36,40.49 520.68,40.47 520.99,40.44 521.31,40.42 521.63,40.39 521.94,40.37 522.26,40.34 522.57,40.32 522.89,40.3 523.2,40.27 523.52,40.25 523.84,40.22 524.15,40.2 524.47,40.18 524.78,40.15 525.1,40.13 525.41,40.11 525.73,40.09 526.05,40.06 526.36,40.04 526.68,40.02 526.99,40 527.31,39.98 527.62,39.95 527.94,39.93 528.26,39.91 528.57,39.89 528.89,39.87 529.2,39.85 529.52,39.83 529.83,39.81 530.15,39.79 530.47,39.76 530.78,39.74 531.1,39.72 531.41,39.7 531.73,39.69 532.04,39.67 532.36,39.65 532.68,39.63 532.99,39.61 533.31,39.59 533.62,39.57 533.94,39.55 534.25,39.53 534.57,39.51 534.89,39.49 535.2,39.47 535.52,39.46 535.83,39.44 536.15,39.42 536.46,39.4 536.78,39.38 537.1,39.36 537.41,39.34 537.73,39.32 538.04,39.31 538.36,39.29 538.68,39.27 538.99,39.25 539.31,39.23 539.62,39.21 539.94,39.2 540.25,39.18 540.57,39.16 540.89,39.14 541.2,39.12 541.52,39.11 541.83,39.09 542.15,39.07 542.46,39.05 542.78,39.04 543.1,39.02 543.41,39 543.73,38.98 544.04,38.97 544.36,38.95 544.67,38.93 544.99,38.91 545.31,38.9 545.62,38.88 545.94,38.86 546.25,38.85 546.57,38.83 546.88,38.81 547.2,38.8 547.52,38.78 547.83,38.76 548.15,38.75 548.46,38.73 548.78,38.72 549.09,38.7 549.41,38.68 549.73,38.67 550.04,38.65 550.36,38.64 550.67,38.62 550.99,38.61 551.3,38.59 551.62,38.58 551.94,38.56 552.25,38.55 552.57,38.53 552.88,38.52 553.2,38.5 553.51,38.49 553.83,38.47 554.15,38.46 554.46,38.44 554.78,38.43 555.09,38.41 555.41,38.4 555.73,38.39 556.04,38.37 556.36,38.36 556.67,38.35 556.99,38.33 557.3,38.32 557.62,38.31 557.94,38.29 558.25,38.28 558.57,38.27 558.88,38.25 559.2,38.24 559.51,38.23 559.83,38.22 560.15,38.2 560.46,38.19 560.78,38.18 561.09,38.17 561.41,38.16 561.72,38.14 562.04,38.13 562.36,38.12 562.67,38.11 562.99,38.1 563.3,38.09 563.62,38.08 563.93,38.06 564.25,38.05 564.57,38.04 564.88,38.03 565.2,38.02 565.51,38.01 565.83,38 566.14,37.99 566.46,37.98 566.78,37.97 567.09,37.96 567.41,37.95 567.72,37.95 568.04,37.94 568.35,37.93 568.67,37.92 568.99,37.91 569.3,37.9 569.62,37.89 569.93,37.89 570.25,37.88 570.56,37.87 570.88,37.86 571.2,37.85 571.51,37.85" fill="none" stroke="#ff7f0e" stroke-width="2.4" stroke-linejoin="round"/>
<path d="M426.18,125.92h0M425.98,124.06h0M426.05,123.07h0M426.56,120.19h0M426.27,114.92h0M426.7,118.18h0M426.71,114.82h0M427.1,110.96h0M426.94,112.21h0M427.31,113.97h0M427.69,108.57h0M427.22,110.89h0M428.09,105.48h0M428.02,108.85h0M428.01,104.05h0M428.12,103.74h0M428.61,99.96h0M428.6,101.27h0M428.8,101.96h0M428.73,99.57h0M429.37,97.96h0M429.25,95.36h0M429.14,97.17h0M429.71,96.89h0M429.83,94.12h0M429.68,95.32h0M429.97,95.28h0M430.32,94.76h0M430.5,91.88h0M430.17,92.14h0M430.68,92.49h0M430.86,91.22h0M430.73,89.44h0M431.04,93.23h0M431.23,91.06h0M431.36,91.92h0M431.48,90.16h0M431.46,86.76h0M432.02,85.68h0M431.82,89.15h0M432.05,83.43h0M432.44,82.92h0M432.61,83.35h0M432.34,82.74h0M432.76,81.45h0M433.21,83.23h0M433.12,78.22h0M433.16,82.53h0M433.77,80.45h0M433.48,83.96h0M434.15,77.23h0M433.79,79.69h0M434.39,74.47h0M434.46,80.28h0M434.58,73.63h0M434.3,80.41h0M435.08,75.81h0M435.06,75.53h0M435,75.41h0M435.42,71.99h0M435.66,75.45h0M435.71,74.42h0M435.59,72.93h0M435.53,73.12h0M435.76,72.71h0M436.12,71.54h0M436.07,71.9h0M436.14,69h0M436.39,72.07h0M436.63,70.81h0M436.9,69.15h0M436.9,68.96h0M437.18,66.73h0M437.06,70.22h0M437.59,66.88h0M437.85,68.66h0M437.9,71.14h0M438.16,66.42h0M438.48,69.51h0M438.12,68.15h0M438.77,65.8h0M438.41,67.63h0M438.97,67.63h0M439.14,65.17h0M439.18,63.74h0M439.32,66.55h0M439.65,65.57h0M439.66,64.29h0M439.69,64.34h0M440.12,64.91h0M440.23,60.76h0M439.93,64.5h0M440.41,65.04h0M440.22,64.19h0M440.98,62.45h0M440.68,64.31h0M441.14,64.33h0M441.05,65.32h0M441.36,58.65h0M441.6,61.34h0M441.98,63.94h0M441.55,61.07h0M442.35,60.82h0M442.14,59.5h0M442.68,62.85h0M442.41,59.14h0M442.89,59.46h0M442.62,62.85h0M443.31,60.22h0M442.87,60.14h0M443.51,59.66h0M443.37,63.9h0M443.74,59.46h0M443.69,60.53h0M444.19,58.15h0M443.94,59.22h0M444.39,60.27h0M444.56,60.97h0M444.34,59.46h0M444.79,58.51h0M444.75,58.82h0M444.81,61.1h0M445.39,55.71h0M445.17,56.98h0M445.3,58.07h0M445.58,57.83h0M445.95,56.97h0M445.9,57.52h0M446.45,58.02h0M446.07,55.73h0M446.55,57.71h0M446.44,57.93h0M446.77,57.12h0M446.74,57.38h0M446.98,56.69h0M447.12,51.16h0M447.56,57.63h0M447.52,55.96h0M448.02,55.05h0M447.93,59.05h0M447.99,56.81h0M448.16,58.94h0M448.61,57.38h0M448.38,58.7h0M448.43,55.66h0M449,57.02h0M448.76,54.06h0M448.91,56.33h0M449.28,56.33h0M449.33,56.69h0M449.39,56.92h0M449.92,53.73h0M450.23,57.64h0M450.04,53.28h0M450.01,55.56h0M450.23,57.36h0M450.45,54.91h0M450.47,56.16h0M450.78,56.09h0M450.89,52.76h0M450.93,53.74h0M451.17,59.59h0M451.22,55.05h0M451.28,55.07h0M451.79,55.4h0M451.97,51.86h0M452.08,55.94h0M452.13,55.9h0M452.22,54.09h0M452.46,52.4h0M452.92,56.66h0M452.93,54.57h0M453.1,54.63h0M452.92,53.03h0M453.47,50.02h0M453.6,52.56h0M453.53,54.64h0M453.43,55.2h0M453.91,58.19h0M454.05,53.63h0M454.33,52.07h0M454.66,52.42h0M454.52,54.41h0M454.63,50.72h0M455.01,55.32h0M455.26,51.47h0M455.52,52.36h0M455.56,54.21h0M455.43,51.25h0M455.48,54.95h0M456.07,54.47h0M456.06,52.34h0M455.99,49.48h0M456.07,51.24h0M456.53,53.77h0M456.39,49.72h0M456.84,48.17h0M456.88,52h0M457.38,52.19h0M457.12,54.12h0M457.4,54.03h0M457.44,54.66h0M457.83,53.81h0M458.08,54.82h0M457.91,52.49h0M458.01,53.26h0M458.46,52.52h0M458.26,51.1h0M458.75,53.52h0M458.77,52.95h0M459.06,51.35h0M459.01,47.21h0M459.26,49.88h0M459.33,54.81h0M459.96,50.06h0M459.65,50.38h0M460.26,51.61h0M460.16,55.88h0M460.3,52.47h0M460.44,50.37h0M460.6,47.52h0M460.98,49.11h0M460.73,51.24h0M461.28,51.25h0M461.41,49.57h0M461.35,49.7h0M461.74,47.88h0M461.73,55.18h0M461.68,50.18h0M461.81,50.62h0M462.08,51.14h0M462.23,50.75h0M462.58,51.14h0M462.71,51.33h0M462.95,52.7h0M462.87,50.93h0M463.28,48.84h0M463.24,47.63h0M463.75,49.69h0M463.63,46.34h0M463.7,46.72h0M463.74,52.96h0M464.01,48.95h0M464.27,49.02h0M464.28,48.02h0M464.67,47.01h0M464.77,49.7h0M464.99,47.19h0M465.12,52.09h0M465.12,47.75h0M465.47,50.86h0M465.67,50.88h0M465.46,46.99h0M466.02,49.81h0M465.75,47.35h0M466.1,48.63h0M466.41,47.86h0M466.06,49.03h0M466.53,51.23h0M466.59,45.96h0M466.94,45.84h0M466.96,47.91h0M467.23,48.18h0M467.21,49.32h0M467.94,49.57h0M467.87,49.62h0M467.7,50.17h0M468.19,48.04h0M468.02,45.48h0M468.4,48.49h0M468.58,46.78h0M468.47,46.67h0M468.98,48.8h0M468.63,46.27h0M469.12,47.52h0M469.27,44.73h0M469.39,44.9h0M469.78,47.75h0M470.11,47.65h0M469.94,44.11h0M470.02,48.78h0M470.41,43.7h0M470.21,44.71h0M470.29,47.84h0M470.84,47.13h0M470.93,45.37h0M471.03,48.89h0M471.37,48.62h0M471.23,45.21h0M471.26,46.21h0M471.64,45.99h0M471.74,41.99h0M472.34,46.24h0M472.1,47.45h0M472.15,44.73h0M472.18,45.49h0M472.57,47.35h0M472.52,48.2h0M473.06,45.63h0M473.27,47.17h0M473.21,47.79h0M473.31,47.54h0M473.41,43.83h0M473.78,46.62h0M474.17,45.8h0M473.78,48.79h0M474.18,48.5h0M474.09,49.34h0M474.43,45.93h0M474.79,47.26h0M475.06,49.79h0M474.77,41.97h0M475.24,45.88h0M474.98,47.38h0M475.3,44.11h0M475.56,45.18h0M476.08,45.21h0M475.81,43.15h0M476.14,46.17h0M476.21,44.43h0M476.54,47.33h0M476.55,47.74h0M476.57,47.54h0M477,45.21h0M476.95,45.58h0M477.11,46.54h0M477.24,44.83h0M477.21,43.56h0M477.61,47.96h0M477.86,44.38h0M478.16,43.76h0M478.08,44.84h0M478.64,44.42h0M478.67,45.91h0M478.56,47.45h0M478.69,43.33h0M478.97,46.68h0M479.13,44.24h0M479.56,42.62h0M479.19,43.26h0M479.51,44.8h0M479.35,44.79h0M480.1,43.11h0M479.9,42.75h0M479.96,46.86h0M480.5,47.65h0M480.67,44.42h0M480.53,43.97h0M480.74,44.89h0M480.61,44.82h0M480.91,45.66h0M481.35,44.5h0M481.53,47.63h0M481.31,43.93h0M481.6,43.13h0M482,43.85h0M482.44,46.57h0M482.18,45.54h0M482.47,44.25h0M482.19,44.93h0M482.97,44.22h0M482.82,44.04h0M483.04,46.42h0M483.18,43.8h0M483.67,40.34h0M483.74,45.26h0M483.59,45.84h0M483.47,43.98h0M483.81,44.2h0M484.17,42.72h0M484.29,43.29h0M484.22,42.63h0M484.38,45.09h0M484.73,42.68h0M485.22,43.06h0M484.92,42.12h0M485.18,41.81h0M485.18,45.77h0M485.68,45.98h0M485.85,45.14h0M486.09,41.68h0M486.14,43.62h0M486.31,46.66h0M486.07,44.5h0M486.33,46.82h0M486.4,40.4h0M486.74,43.03h0M486.84,46.15h0M487.33,43.28h0M487.25,39.32h0M487.51,43.16h0M487.4,46.37h0M487.8,44.57h0M487.54,42.64h0M488.06,40.7h0M488.1,42.46h0M488.28,42.69h0M488.5,45.75h0M488.49,42.49h0M488.77,40.92h0M488.88,45.23h0M489.23,45.25h0M489.25,45.26h0M489.29,42.99h0M489.65,43.91h0M489.43,40.45h0M489.76,41.12h0M489.87,42.39h0M490.59,42.96h0M490.64,46.26h0M490.38,43.97h0M490.93,43.52h0M491.21,40.49h0M491.15,43.41h0M491.57,41.34h0M491.28,42.63h0M491.54,42.21h0M491.32,44.14h0M492.19,45.95h0M492.23,41.83h0M492.08,41.31h0M492.24,46.7h0M492.5,44.18h0M492.34,43.44h0M492.76,41.95h0M493.11,45.55h0M493.27,39.39h0M493.21,43.54h0M493.54,42.31h0M493.4,43.18h0M493.75,40.96h0M493.63,41.77h0M493.99,41.11h0M493.92,43.73h0M494.39,42.36h0M494.72,41.83h0M494.98,38.68h0M494.73,41.4h0M495.35,42.91h0M495.23,40.25h0M495.54,43.93h0M495.39,42.08h0M495.53,42.16h0M495.95,43.58h0M496.03,43.2h0M495.83,41.93h0M496.34,45.68h0M496.59,42.54h0M496.58,46.46h0M496.79,46.7h0M497.11,40.89h0M496.77,42.84h0M497.18,41.36h0M497.56,42.02h0M497.89,46.67h0M497.37,40.24h0M498.13,42.93h0M498.16,43.55h0M498.46,43.12h0M498.12,48.28h0M498.73,46.17h0M498.67,41.16h0M499.04,46.04h0M498.63,41.73h0M499.44,41.2h0M499.44,44.71h0M499.56,44.51h0M499.48,44.91h0M499.69,44.18h0M499.75,43.07h0M499.88,43.71h0M499.84,43.34h0M500.72,44.08h0M500.65,39.1h0M500.54,42.29h0M500.59,43.55h0M501.37,44.32h0M501.27,41.41h0M501.64,42.24h0M501.31,40.74h0M501.5,42.3h0M501.94,40.99h0M502,43.43h0M502.3,45.49h0M502.46,43.31h0M502.46,44.1h0M502.89,43.98h0M502.55,40.94h0M502.76,41.37h0M502.76,42h0M503.03,43.02h0M503.5,41.1h0M503.93,42.44h0M503.34,41.78h0M503.81,40.7h0M503.64,42.62h0M504.32,42.82h0M504.3,40.06h0M504.64,42.72h0M504.3,42.13h0M504.83,40h0M505.16,42.38h0M504.92,42.83h0M505.04,38.87h0M505.22,40.8h0M505.23,43.69h0M505.93,41.8h0M506.08,42.84h0M506.01,42.21h0M506.44,39.29h0M506.51,44.84h0M506.35,44.71h0M506.52,40.8h0M506.59,42.89h0M507.37,43.15h0M506.99,44.32h0M507.47,39.18h0M507.24,39.5h0M507.66,42.05h0M507.67,42.83h0M508.29,40.5h0M508.34,39.88h0M508.23,41.04h0M508.24,41.77h0M508.48,43.64h0M508.55,41.26h0M508.96,37.7h0M508.71,43.17h0M509.6,45.07h0M509.04,44.33h0M509.49,41.78h0M509.7,39.54h0M509.75,39.37h0M509.91,42.36h0M509.99,42.36h0M510.3,38.71h0M510.79,41.05h0M510.47,39.86h0M510.73,41.59h0M510.71,40.05h0M510.93,41.17h0M510.91,38.93h0M511.6,42.83h0M511.6,43.56h0M512.08,40.34h0M511.79,44.83h0M511.93,40.38h0M512.06,39.21h0M512.74,40.33h0M512.49,40.92h0M512.82,40h0M512.52,40.91h0M512.89,43.78h0M513.25,41.32h0M513.65,42.73h0M513.3,38.37h0M513.96,39.72h0M513.6,41.34h0M513.99,40.42h0M513.88,41.56h0M514.5,38.43h0M514.25,42.47h0M514.95,37.36h0M514.75,38.91h0M514.93,42.76h0M514.86,41.68h0M515.06,40.44h0M515.24,39.95h0M515.65,38.96h0M515.53,41.66h0M516.07,42.46h0M515.94,40.89h0M516.53,44.77h0M515.98,42.36h0M516.54,41.59h0M516.74,42.86h0M517.11,36.54h0M517.02,39.53h0M517.26,40.9h0M517.14,39.46h0M517.61,40.77h0M517.65,41.89h0M517.99,39.76h0M517.88,42.95h0M518.33,42.06h0M517.85,38.95h0M518.55,40.4h0M518.7,39.2h0M518.94,40.06h0M518.87,42.96h0M519.33,41.41h0M519.09,38.71h0M519.32,40.81h0M519.71,39.1h0M519.61,40.47h0M520.01,42.69h0M520.27,38.89h0M520.29,41.11h0M520.63,43.77h0M520.2,37.67h0M520.42,40.77h0M520.81,41.53h0M521.22,44.61h0M520.75,41.23h0M521.01,39.92h0M521.14,43.8h0M521.59,41.16h0M521.73,44.5h0M522.12,38.68h0M521.8,40.3h0M522.34,38.7h0M522.43,37.32h0M522.45,41.52h0M522.72,45.02h0M522.75,38.57h0M522.59,41.88h0M523.06,44.03h0M522.92,39.42h0M523.42,41.75h0M523.33,36.96h0M524.06,38.98h0M523.78,43.88h0M524.01,40.22h0M524.09,41.35h0M524.62,38.8h0M524.69,40.67h0M524.65,37.94h0M524.8,39.01h0M524.94,36.01h0M525.08,39.29h0M525.22,41.25h0M525.7,40.26h0M525.86,41.54h0M525.67,42.11h0M525.85,39.72h0M526,39.12h0M526.67,40.66h0M526.21,39.99h0M526.72,41.85h0M526.63,41.26h0M527.19,40.92h0M527.3,44.42h0M527.2,43.38h0M527.57,41.09h0M527.35,42.04h0M527.56,40.79h0M527.84,43.72h0M527.76,39.31h0M528.11,37.76h0M528.21,40.3h0M528.59,39.21h0M528.3,39.9h0M529.18,38.66h0M528.8,39.95h0M529.29,42.73h0M529.14,36.83h0M529.42,42.82h0M529.26,38.92h0M529.72,38.49h0M529.61,42.33h0M529.97,40.75h0M530.36,40.54h0M530.24,39.74h0M530.3,38.5h0M531.06,42.25h0M530.99,40.28h0M531.14,38.27h0M531,38.1h0M531.67,37.95h0M531.55,38.39h0M531.6,40.27h0M531.82,41.71h0M532.2,37.78h0M531.98,40.08h0M532.05,38.45h0M532.63,41.57h0M532.75,42.72h0M532.91,39.06h0M533.05,36.89h0M533.12,40.72h0M533.59,42.07h0M533.49,38.87h0M533.4,39.01h0M533.71,40.67h0M533.78,42.31h0M533.77,36.95h0M534.35,40.46h0M534.38,37.11h0M534.47,42.32h0M534.87,39.17h0M534.83,41.1h0M535.19,40.12h0M535.45,38.77h0M535.1,40.17h0M535.44,38.3h0M535.47,39.14h0M535.81,40.89h0M535.88,41.93h0M536.44,41.28h0M536.41,38.05h0M536.69,41.52h0M536.54,43.17h0M536.74,38.14h0M536.95,37.69h0M537.06,41.74h0M536.84,38.41h0M537.16,40.7h0M537.32,41.54h0M537.46,38.58h0M537.94,41.37h0M537.87,38.39h0M537.88,39.69h0M538.22,41.66h0M538.35,37.73h0M538.55,40.76h0M538.55,40.06h0M539.07,38.39h0M539.1,37.31h0M539.16,40.36h0M539.45,39.42h0M539.66,41.07h0M539.89,42.18h0M540.2,38.76h0M540.06,38.29h0M540.04,37.06h0M540.11,39.67h0M540.53,35.81h0M540.43,40.92h0M540.57,40.5h0M540.79,38.83h0M541.07,42.52h0M541.02,38.4h0M541.63,39.45h0M541.66,39.09h0M541.73,41.92h0M541.66,39.84h0M542.12,38.39h0M541.97,38.11h0M542.59,39.02h0M542.66,37.9h0M542.93,35.28h0M542.88,39.46h0M543.2,41.36h0M543,35.23h0M543.69,40.66h0M543.2,36.91h0M543.42,38.35h0M543.52,40.62h0M543.81,37.69h0M544.21,35.66h0M544.3,43.36h0M544.61,38.5h0M544.4,38.86h0M544.85,36.27h0M545.1,37.68h0M545.29,41.14h0M545.35,43.5h0M545.09,38.16h0M545.71,37.57h0M545.85,39.75h0M545.8,39.31h0M545.75,40.87h0M546.53,37.71h0M546.21,38.88h0M546.79,37.62h0M546.74,39.49h0M546.82,40.38h0M547.15,40.06h0M547.15,35.56h0M546.89,36.65h0M547.71,37.06h0M547.5,36.61h0M547.68,39.2h0M547.82,38.88h0M548.23,41.3h0M547.88,37.62h0M548.21,36.69h0M548.76,39.49h0M548.58,35.55h0M548.85,40.5h0M549.27,39h0M548.92,38.49h0M549.54,36.74h0M549.44,36.48h0M549.5,40.11h0M549.43,37.08h0M550,33.36h0M550.34,39.72h0M550.28,37.28h0M550.39,39.05h0M550.74,37.11h0M550.78,39.17h0M551.02,37.08h0M551.03,44.2h0M551.4,40h0M551.35,38.27h0M551.39,37.46h0M551.7,38.53h0M551.87,39.67h0M552.2,35.72h0M552.55,42.25h0M552.49,39.25h0M552.6,36.63h0M552.77,39.01h0M552.65,37.73h0M552.9,37.97h0M553.24,39.12h0M553.39,38.46h0M553.41,40.77h0M553.68,38.92h0M553.91,38.72h0M553.83,38.43h0M553.88,39.92h0M554.14,39.71h0M554.69,41.92h0M554.55,36.64h0M554.64,39.65h0M554.62,40.32h0M554.99,42.43h0M555.39,39.59h0M555.36,36.81h0M555.53,35.48h0M555.8,42.11h0M555.49,35.6h0M555.83,39.55h0M556.1,40.35h0M556.58,38.51h0M556.35,38.72h0M556.93,36.81h0M556.9,38.78h0M557.1,38.81h0M557.01,38.34h0M557.09,37.4h0M557.06,36.09h0M557.49,38.19h0M557.79,37.28h0M557.86,36.67h0M558.21,37.17h0M558.35,38.09h0M558.12,39.71h0M558.28,39.23h0M558.36,39.57h0M558.89,35.48h0M558.83,41.17h0M558.94,36.34h0M559.17,36.22h0M559.7,37.45h0M559.21,39.14h0M559.77,38.09h0M559.7,37.44h0M559.86,38.07h0M559.94,41.13h0M560.57,39.62h0M560.16,38.67h0M560.65,39.74h0M560.84,37.65h0M561.3,38.12h0M561.27,35.05h0M561.49,38.84h0M561.33,38.49h0M561.74,35.31h0M561.88,36.6h0M562.25,39.87h0M561.99,36.85h0M562.56,39.65h0M562.46,37.34h0M562.38,33.94h0M562.76,38.51h0M563.21,36.41h0M562.82,37.01h0M563.03,35.39h0M563.6,38.93h0M563.43,37.86h0M563.52,36.86h0M564.05,38.56h0M563.62,38.99h0M564.16,37.47h0M564.2,36.6h0M564.55,36.98h0M564.3,39.4h0M564.82,37.54h0M564.78,37.77h0M565.41,35.62h0M565.04,39.17h0M565.35,38.55h0M565.46,35.08h0M566.07,38.45h0M565.94,39.53h0M566.22,38.68h0M566.03,38.77h0M566.17,38.79h0M566.53,35.26h0M566.98,39.12h0M566.9,40.47h0M566.81,35.66h0M566.82,37.55h0M567.17,37h0M567.72,37.53h0M567.77,37.06h0M568.03,36.76h0M568.16,37.43h0M567.91,40.52h0M568.06,37.77h0M568.52,39.52h0M568.92,37.34h0M568.73,37.74h0M568.81,35.41h0M569.27,41.83h0M569.49,39.38h0M569.16,39.52h0M569.77,39.6h0M569.92,36.87h0M569.66,39.69h0M569.66,39.59h0M570.13,36.62h0M570.09,39.91h0M570.56,40.57h0M570.63,39.58h0M570.61,37.66h0M570.79,40.22h0M571.45,37.81h0M571.26,39.1h0M571.78,36.29h0M571.59,38.2h0" stroke="#ff7f0e" stroke-width="1.5" stroke-linecap="round" fill="none"/>
<polyline points="572.14,33.76 572.46,32.16 572.78,30.69 573.09,29.38 573.41,28.22 573.72,27.24 574.04,26.43 574.35,25.82 574.67,25.39 574.99,25.18 575.3,25.19 575.62,25.44 575.93,25.93 576.25,26.6 576.56,27.43 576.88,28.38 577.2,29.41 577.51,30.5 577.83,31.61 578.14,32.7 578.46,33.74 578.77,34.69 579.09,35.56 579.41,36.5 579.72,37.54 580.04,38.62 580.35,39.74 580.67,40.84 580.98,41.92 581.3,42.93 581.62,43.84 581.93,44.63 582.25,45.27 582.56,45.73 582.88,45.97 583.19,45.99 583.51,45.92 583.83,45.78 584.14,45.58 584.46,45.33 584.77,45.04 585.09,44.71 585.4,44.36 585.72,43.98 586.04,43.59 586.35,43.2 586.67,42.82 586.98,42.44 587.3,42.09 587.61,41.76 587.93,41.41 588.25,41.04 588.56,40.66 588.88,40.27 589.19,39.88 589.51,39.47 589.83,39.07 590.14,38.67 590.46,38.27 590.77,37.88 591.09,37.51 591.4,37.15 591.72,36.8 592.04,36.48 592.35,36.17 592.67,35.84 592.98,35.51 593.3,35.17 593.61,34.84 593.93,34.51 594.25,34.19 594.56,33.89 594.88,33.6 595.19,33.33 595.51,33.09 595.82,32.87 596.14,32.69 596.46,32.55 596.77,32.44 597.09,32.37 597.4,32.31 597.72,32.25 598.03,32.2 598.35,32.14 598.67,32.08 598.98,32.03 599.3,31.98 599.61,31.93 599.93,31.88 600.24,31.83 600.56,31.79 600.88,31.74 601.19,31.7 601.51,31.66 601.82,31.62 602.14,31.58 602.45,31.54 602.77,31.5 603.09,31.47 603.4,31.44 603.72,31.4 604.03,31.37 604.35,31.34 604.66,31.32 604.98,31.29 605.3,31.27 605.61,31.24 605.93,31.22 606.24,31.2 606.56,31.18 606.88,31.16 607.19,31.14 607.51,31.13 607.82,31.11 608.14,31.1 608.45,31.09 608.77,31.08 609.09,31.07 609.4,31.06 609.72,31.06 610.03,31.05 610.35,31.05 610.66,31.05 610.98,31.04 611.3,31.04 611.61,31.04 611.93,31.04 612.24,31.04 612.56,31.04 612.87,31.04 613.19,31.04 613.51,31.04 613.82,31.04 614.14,31.04 614.45,31.04 614.77,31.04 615.08,31.04 615.4,31.04 615.72,31.04 616.03,31.05 616.35,31.05 616.66,31.05 616.98,31.05 617.29,31.05 617.61,31.05 617.93,31.05 618.24,31.05 618.56,31.05 618.87,31.05 619.19,31.05 619.5,31.05 619.82,31.05 620.14,31.05 620.45,31.05 620.77,31.05 621.08,31.05 621.4,31.05 621.71,31.05 622.03,31.05 622.35,31.05 622.66,31.06 622.98,31.06 623.29,31.06 623.61,31.06 623.92,31.06 624.24,31.06 624.56,31.06 624.87,31.06 625.19,31.06 625.5,31.07 625.82,31.07 626.14,31.07 626.45,31.07 626.77,31.07 627.08,31.07 627.4,31.08 627.71,31.08 628.03,31.08 628.35,31.08 628.66,31.08 628.98,31.09 629.29,31.09 629.61,31.09 629.92,31.09 630.24,31.1 630.56,31.1 630.87,31.1 631.19,31.1 631.5,31.11 631.82,31.11 632.13,31.11 632.45,31.12 632.77,31.12 633.08,31.12 633.4,31.13 633.71,31.13 634.03,31.13 634.34,31.14 634.66,31.14 634.98,31.14 635.29,31.15 635.61,31.15 635.92,31.16 636.24,31.16 636.55,31.17 636.87,31.17 637.19,31.17 637.5,31.18 637.82,31.18 638.13,31.19 638.45,31.19 638.76,31.2 639.08,31.21 639.4,31.21 639.71,31.22 640.03,31.22 640.34,31.23 640.66,31.23 640.97,31.24 641.29,31.25 641.61,31.25 641.92,31.26 642.24,31.27 642.55,31.27 642.87,31.28 643.19,31.29 643.5,31.29 643.82,31.3 644.13,31.31 644.45,31.32 644.76,31.32 645.08,31.33 645.4,31.34 645.71,31.35 646.03,31.36 646.34,31.37 646.66,31.37 646.97,31.38 647.29,31.39 647.61,31.4 647.92,31.41 648.24,31.42 648.55,31.43 648.87,31.44 649.18,31.45 649.5,31.46 649.82,31.47 650.13,31.48 650.45,31.49" fill="none" stroke="#ff7f0e" stroke-width="2.0" stroke-linejoin="round"/>
<path d="M571.98,32.33h0M572.2,32.25h0M573.03,31.34h0M572.88,29.33h0M573.16,28.4h0M573.95,27.67h0M573.93,24.57h0M574.45,24.81h0M574.5,24.57h0M575.18,24.34h0M575.31,25.92h0M575.51,25.87h0M575.88,26.85h0M576.39,25.74h0M576.78,26h0M576.75,28.68h0M576.99,29.47h0M577.42,30.81h0M578.06,31.33h0M578.14,32.58h0M578.57,33.49h0M578.98,34.29h0M579.21,35.44h0M579.57,36.69h0M579.62,36.51h0M579.88,38.28h0M580.61,40.33h0M580.61,39.71h0M581.28,41.96h0M581.59,42.21h0M581.62,43.88h0M582.18,43.26h0M582.15,43.9h0M582.84,45.69h0M583.07,46.07h0M583.4,46.21h0M583.2,45.5h0M583.79,45.31h0M584.43,48.12h0M584.23,46.8h0M584.78,45.75h0M585.01,43.6h0M585.09,44.2h0M585.61,45.52h0M585.91,43.57h0M586.35,43.79h0M586.82,43.14h0M587.27,43.2h0M587.15,42.4h0M587.58,42.61h0M587.82,41.8h0M588.27,41.71h0M588.59,39.97h0M588.57,40.55h0M589.49,39.7h0M589.23,39.98h0M589.95,38.48h0M590.08,38.51h0M590.48,38.66h0M590.61,37.05h0M590.86,37.67h0M591.13,35.23h0M591.92,36.62h0M592.14,36.36h0M592.31,36.03h0M592.68,34.79h0M592.75,35.35h0M593.54,35.5h0M593.82,35.76h0M593.83,33.12h0M594.52,33.15h0M594.69,32.65h0M595.1,33.64h0M595.01,34.21h0M595.59,32.86h0M596.08,33.59h0M596.33,33.07h0M596.61,31.55h0M596.55,32.85h0M596.98,33.34h0M597.18,32.24h0M597.43,33.6h0M597.78,31.77h0M598.42,32.89h0M598.79,31.01h0M599,33.13h0M599.15,32.95h0M599.79,32.3h0M600.15,33.94h0M600.48,32.83h0M600.87,31.91h0M601.13,31.34h0M601.12,31.9h0M601.8,31.3h0M601.92,31.49h0M602.24,31.62h0M602.56,32.29h0M602.71,31.75h0M602.96,30.71h0M603.38,30.73h0M603.99,30.95h0M604.09,32.03h0M604.63,30.36h0M604.48,31.9h0M604.85,31.28h0M605.18,29.91h0M605.32,32.74h0M605.62,31.21h0M606.16,30.58h0M606.61,31.46h0M607.05,32.6h0M607.44,30.45h0M607.74,30.17h0M607.95,29.88h0M608.13,31.96h0M608.6,32.34h0M608.97,30.86h0M608.85,29.48h0M609.55,31.26h0M609.42,30.25h0M609.93,31.54h0M610.09,30.59h0M610.36,30.44h0M610.68,31.36h0M611.45,29.62h0M611.68,31.15h0M611.73,29.55h0M612.04,31.58h0M612.76,32.03h0M612.95,32.52h0M613.38,30.18h0M613.37,30.87h0M613.61,31.37h0M614.43,31.63h0M614.24,31.45h0M614.63,29.99h0M614.86,30.59h0M615.28,32.88h0M615.6,32.14h0M616.09,32.31h0M616.52,30.79h0M616.63,30.96h0M616.97,30.32h0M617.18,31.42h0M617.9,31.35h0M617.79,31.56h0M618,30.48h0M618.5,32h0M618.9,31.53h0M619.3,32.62h0M619.36,30.44h0M619.9,32.18h0M620.34,31.49h0M620.48,31.12h0M620.59,31.4h0M620.9,32.93h0M621.62,30.65h0M621.47,30.45h0M621.77,30.98h0M622.6,31.41h0M622.44,31.14h0M623.14,29.3h0M622.98,31.73h0M623.41,31.85h0M623.67,30.39h0M624.21,29.6h0M624.37,30.2h0M624.97,31.06h0M625.44,33.51h0M625.34,29.61h0M625.7,31.5h0M626.05,30.6h0M626.45,32.51h0M626.67,30.37h0M627.23,31.11h0M627.62,30h0M627.56,33.21h0M628.29,30.76h0M628.33,31.14h0M628.42,31.26h0M629.24,30.89h0M629.14,31.34h0M629.3,30.46h0M629.62,32.07h0M630.18,30.71h0M630.83,30.16h0M630.57,31.91h0M631.34,29.49h0M631.22,31.15h0M632.12,31.66h0M631.91,30.66h0M632.37,30.7h0M633.08,30.85h0M633.1,32.49h0M633.4,30.45h0M633.93,30.46h0M634.17,31.77h0M634.28,29.7h0M634.5,31.22h0M634.97,30.85h0M635.4,32.36h0M635.8,30.75h0M636.03,32.08h0M636.15,32.38h0M636.28,31.06h0M637.16,30.07h0M637.17,31.71h0M637.44,32h0M637.64,30.22h0M638.37,30.37h0M638.67,31.21h0M638.99,30.93h0M639.19,32h0M639.54,32.21h0M639.69,32.3h0M639.79,31.48h0M640.14,30.58h0M640.44,31.48h0M641.26,31.21h0M641,30.68h0M641.59,32.93h0M641.7,30.48h0M642.5,30.99h0M642.81,32.09h0M642.98,31.46h0M643.29,32.48h0M643.28,30.82h0M643.57,31.28h0M644.06,31.48h0M644.68,32.32h0M644.55,30.99h0M645.34,30.93h0M645.09,30.83h0M645.79,32.58h0M645.83,31.63h0M646.37,31.73h0M646.56,30.67h0M646.79,30.76h0M647.11,31.02h0M647.47,30.69h0M648.16,31.36h0M648.4,29.46h0M648.42,31.62h0M648.88,31.47h0M649.42,32.37h0M649.64,31.22h0M649.67,31.26h0M650.35,30.54h0M650.55,31.19h0" stroke="#ff7f0e" stroke-width="1.5" stroke-linecap="round" fill="none"/>
<polyline points="413.8,31.5 414.12,29.6 414.43,28.2 414.75,27.23 415.06,26.61 415.38,26.26 415.69,26.1 416.01,26.06 416.33,26.23 416.64,27.49 416.96,29.72 417.27,32.62 417.59,35.91 417.9,39.28 418.22,42.44 418.54,45.09 418.85,47.54 419.17,50.21 419.48,52.98 419.8,55.75 420.11,58.39 420.43,60.81 420.75,62.89 421.06,64.51 421.38,65.57 421.69,65.94 422.01,65.88 422.32,65.71 422.64,65.44 422.96,65.1 423.27,64.69 423.59,64.24 423.9,63.76 424.22,63.27 424.54,62.78 424.85,62.32 425.17,61.84 425.48,61.3 425.8,60.71 426.11,60.08 426.43,59.43 426.75,58.74 427.06,58.05 427.38,57.36 427.69,56.67 428.01,56 428.32,55.36 428.64,54.76 428.96,54.2 429.27,53.69 429.59,53.25 429.9,52.86 430.22,52.48 430.53,52.11 430.85,51.75 431.17,51.41 431.48,51.08 431.8,50.76 432.11,50.45 432.43,50.15 432.74,49.86 433.06,49.58 433.38,49.31 433.69,49.04 434.01,48.79 434.32,48.54 434.64,48.29 434.95,48.05 435.27,47.82 435.59,47.59 435.9,47.36 436.22,47.14 436.53,46.92 436.85,46.71 437.16,46.51 437.48,46.31 437.8,46.11 438.11,45.92 438.43,45.74 438.74,45.55 439.06,45.38 439.37,45.2 439.69,45.03 440.01,44.86 440.32,44.69 440.64,44.53 440.95,44.37 441.27,44.21 441.59,44.05 441.9,43.89 442.22,43.74 442.53,43.58 442.85,43.43 443.16,43.27 443.48,43.12 443.8,42.97 444.11,42.82 444.43,42.67 444.74,42.53 445.06,42.39 445.37,42.25 445.69,42.11 446.01,41.97 446.32,41.84 446.64,41.71 446.95,41.59 447.27,41.46 447.58,41.35 447.9,41.23 448.22,41.12 448.53,41.02 448.85,40.91 449.16,40.81 449.48,40.71 449.79,40.61 450.11,40.52 450.43,40.42 450.74,40.32 451.06,40.23 451.37,40.14 451.69,40.05 452,39.96 452.32,39.87 452.64,39.78 452.95,39.69 453.27,39.61 453.58,39.52 453.9,39.44 454.21,39.36 454.53,39.28 454.85,39.2 455.16,39.12 455.48,39.04 455.79,38.97 456.11,38.89 456.42,38.82 456.74,38.75 457.06,38.67 457.37,38.6 457.69,38.53 458,38.47 458.32,38.4 458.64,38.33 458.95,38.27 459.27,38.2 459.58,38.14 459.9,38.08 460.21,38.02 460.53,37.96 460.85,37.9 461.16,37.84 461.48,37.79 461.79,37.73 462.11,37.67 462.42,37.62 462.74,37.56 463.06,37.51 463.37,37.46 463.69,37.4 464,37.35 464.32,37.3 464.63,37.25 464.95,37.2 465.27,37.15 465.58,37.11 465.9,37.06 466.21,37.01 466.53,36.97 466.84,36.92 467.16,36.88 467.48,36.84 467.79,36.8 468.11,36.76 468.42,36.72 468.74,36.68 469.05,36.65 469.37,36.61 469.69,36.58 470,36.54 470.32,36.51 470.63,36.48 470.95,36.45 471.26,36.43 471.58,36.4 471.9,36.37 472.21,36.34 472.53,36.31 472.84,36.28 473.16,36.26 473.47,36.23 473.79,36.2 474.11,36.18 474.42,36.15 474.74,36.12 475.05,36.1 475.37,36.07 475.69,36.04 476,36.02 476.32,35.99 476.63,35.97 476.95,35.94 477.26,35.92 477.58,35.89 477.9,35.87 478.21,35.84 478.53,35.82 478.84,35.79 479.16,35.77 479.47,35.74 479.79,35.72 480.11,35.7 480.42,35.67 480.74,35.65 481.05,35.63 481.37,35.61 481.68,35.58 482,35.56 482.32,35.54 482.63,35.52 482.95,35.49 483.26,35.47 483.58,35.45 483.89,35.43 484.21,35.41 484.53,35.39 484.84,35.37 485.16,35.34 485.47,35.32 485.79,35.3 486.1,35.28 486.42,35.26 486.74,35.24 487.05,35.22 487.37,35.2 487.68,35.18 488,35.16 488.31,35.15 488.63,35.13 488.95,35.11 489.26,35.09 489.58,35.07 489.89,35.05 490.21,35.03 490.52,35.02 490.84,35 491.16,34.98 491.47,34.96 491.79,34.94 492.1,34.93 492.42,34.91 492.74,34.89 493.05,34.88 493.37,34.86 493.68,34.84 494,34.83 494.31,34.81 494.63,34.79 494.95,34.78 495.26,34.76 495.58,34.75 495.89,34.73 496.21,34.72 496.52,34.7 496.84,34.69 497.16,34.67 497.47,34.66 497.79,34.64 498.1,34.63 498.42,34.61 498.73,34.6 499.05,34.58 499.37,34.57 499.68,34.56 500,34.54 500.31,34.53 500.63,34.51 500.94,34.5 501.26,34.49 501.58,34.47 501.89,34.46 502.21,34.45 502.52,34.44 502.84,34.42 503.15,34.41 503.47,34.4 503.79,34.39 504.1,34.37 504.42,34.36 504.73,34.35 505.05,34.34 505.36,34.33 505.68,34.32 506,34.3 506.31,34.29 506.63,34.28 506.94,34.27 507.26,34.26 507.57,34.25 507.89,34.24 508.21,34.23 508.52,34.22 508.84,34.21 509.15,34.2 509.47,34.19 509.78,34.18 510.1,34.17 510.42,34.15 510.73,34.14 511.05,34.13 511.36,34.12 511.68,34.11 512,34.1 512.31,34.09 512.63,34.08 512.94,34.07 513.26,34.06 513.57,34.05 513.89,34.04 514.21,34.03 514.52,34.02 514.84,34.01 515.15,34 515.47,33.99 515.78,33.98 516.1,33.97 516.42,33.96 516.73,33.95 517.05,33.94 517.36,33.93 517.68,33.92 517.99,33.91 518.31,33.9 518.63,33.89 518.94,33.88 519.26,33.87 519.57,33.86 519.89,33.85 520.2,33.84 520.52,33.83 520.84,33.82 521.15,33.81 521.47,33.8 521.78,33.79 522.1,33.78 522.41,33.77 522.73,33.76 523.05,33.75 523.36,33.74 523.68,33.73 523.99,33.72 524.31,33.71 524.62,33.7 524.94,33.69 525.26,33.68 525.57,33.67 525.89,33.66 526.2,33.65 526.52,33.65 526.83,33.64 527.15,33.63 527.47,33.62 527.78,33.61 528.1,33.6 528.41,33.59 528.73,33.58 529.05,33.57 529.36,33.56 529.68,33.55 529.99,33.54 530.31,33.54 530.62,33.53 530.94,33.52 531.26,33.51 531.57,33.5 531.89,33.49 532.2,33.48 532.52,33.47 532.83,33.46 533.15,33.46 533.47,33.45 533.78,33.44 534.1,33.43 534.41,33.42 534.73,33.41 535.04,33.4 535.36,33.4 535.68,33.39 535.99,33.38 536.31,33.37 536.62,33.36 536.94,33.36 537.25,33.35 537.57,33.34 537.89,33.33 538.2,33.32 538.52,33.32 538.83,33.31 539.15,33.3 539.46,33.29 539.78,33.28 540.1,33.28 540.41,33.27 540.73,33.26 541.04,33.25 541.36,33.25 541.67,33.24 541.99,33.23 542.31,33.23 542.62,33.22 542.94,33.21 543.25,33.2 543.57,33.2 543.88,33.19 544.2,33.18 544.52,33.18 544.83,33.17 545.15,33.16 545.46,33.16 545.78,33.15 546.1,33.14 546.41,33.14 546.73,33.13 547.04,33.12 547.36,33.12 547.67,33.11 547.99,33.1 548.31,33.1 548.62,33.09 548.94,33.09 549.25,33.08 549.57,33.07 549.88,33.07 550.2,33.06 550.52,33.06 550.83,33.05 551.15,33.05 551.46,33.04 551.78,33.04 552.09,33.03 552.41,33.03 552.73,33.02 553.04,33.01 553.36,33.01 553.67,33 553.99,33 554.3,33 554.62,32.99 554.94,32.99 555.25,32.98 555.57,32.98 555.88,32.97 556.2,32.97 556.51,32.96 556.83,32.96 557.15,32.96 557.46,32.95 557.78,32.95 558.09,32.94 558.41,32.94 558.72,32.94 559.04,32.93 559.36,32.93 559.67,32.93 559.99,32.92 560.3,32.92 560.62,32.92 560.93,32.91 561.25,32.91 561.57,32.91 561.88,32.9 562.2,32.9 562.51,32.9 562.83,32.89 563.15,32.89 563.46,32.89 563.78,32.89 564.09,32.88 564.41,32.88 564.72,32.88 565.04,32.88 565.36,32.88 565.67,32.87 565.99,32.87 566.3,32.87 566.62,32.87 566.93,32.87 567.25,32.87 567.57,32.87 567.88,32.86 568.2,32.86 568.51,32.86 568.83,32.86 569.14,32.86 569.46,32.86 569.78,32.86 570.09,32.86 570.41,32.86 570.72,32.86 571.04,32.86 571.35,32.86 571.67,32.86" fill="none" stroke="#2ca02c" stroke-width="2.0" stroke-linejoin="round"/>
<path d="M413.68,32.46h0M414.19,29.57h0M414.43,28.14h0M415.01,26.71h0M414.85,26.53h0M415.12,26.64h0M415.83,26h0M416.02,25.93h0M416.06,27.03h0M416.55,28.11h0M416.76,29.63h0M417.35,31.78h0M417.38,35.76h0M418.09,39.3h0M418.34,42.06h0M418.75,45.04h0M418.65,48.76h0M419.25,50.61h0M419.46,52.01h0M419.94,55.64h0M419.84,59.25h0M420.73,62.65h0M420.83,62.76h0M421.11,64.61h0M421.54,63.81h0M421.67,66.65h0M421.79,65.38h0M422.29,64.74h0M422.65,64.92h0M423.1,65.94h0M423.1,64.56h0M423.31,64.86h0M424.06,64.06h0M423.99,62.73h0M424.75,64.03h0M424.73,61.55h0M425.27,60.52h0M425.23,60.67h0M425.77,60.95h0M426.11,58.67h0M426.19,59.11h0M426.87,60.09h0M426.9,58.77h0M427.55,57.09h0M427.6,56.55h0M428.04,55.55h0M428.39,54.96h0M428.58,55.35h0M429.05,54.51h0M429.15,53.41h0M429.42,51.71h0M429.64,52.02h0M430.01,51.39h0M430.48,51.54h0M431.03,51.86h0M431.26,51.82h0M431.36,52.09h0M431.88,50.78h0M432.31,50.17h0M432.52,50.63h0M432.82,51.17h0M433.19,51.16h0M433.33,50.8h0M433.79,47.84h0M434.16,47.46h0M434.38,47.76h0M434.91,47.78h0M434.66,47.62h0M435.41,48.88h0M435.29,45.7h0M436.03,47.38h0M436.15,47.02h0M436.25,47.25h0M436.81,47.86h0M437.15,46.26h0M437.71,45.44h0M437.73,45.71h0M438.11,46.99h0M438.68,47.47h0M438.65,44.21h0M439,44.44h0M439.18,46.31h0M439.83,45.34h0M440.12,43.23h0M440.01,44.97h0M440.53,44.79h0M440.88,44.27h0M441.17,43.87h0M441.82,44.12h0M441.97,43.12h0M442.19,43.94h0M442.6,44.03h0M442.97,44.85h0M443.26,43.04h0M443.48,41.38h0M443.56,42.49h0M443.83,41.83h0M444.21,42.39h0M444.81,42.27h0M445.09,44.05h0M445.55,42.67h0M445.6,42.33h0M446.12,41.35h0M446.36,42h0M446.5,43.05h0M447.17,43.06h0M447.43,41.69h0M447.59,41.27h0M447.67,39.46h0M448.01,42.09h0M448.64,41.53h0M448.66,41.38h0M448.94,39.44h0M449.43,40.96h0M449.62,40.76h0M450.1,40.1h0M450.31,42.94h0M450.88,39.43h0M451.29,40.18h0M451.63,39.63h0M451.64,41.48h0M451.8,39.07h0M452.28,39.25h0M452.63,37.7h0M452.7,39.73h0M453.28,38.5h0M453.67,38.77h0M453.94,39.46h0M454.37,40.87h0M454.8,38.5h0M454.7,39.18h0M455.34,37.81h0M455.66,38.97h0M455.83,40.16h0M456.21,38.8h0M456.64,38.72h0M456.91,38.35h0M456.99,38.1h0M457.24,38.59h0M457.92,39.91h0M458.29,39.48h0M458.54,38.35h0M458.7,38.26h0M458.65,37.35h0M459.43,38.07h0M459.63,37.28h0M460.04,37.85h0M460.31,38.31h0M460.55,36.45h0M460.89,37.93h0M460.93,37.89h0M461.23,37.61h0M461.59,36.91h0M462.02,37.86h0M462.25,37.4h0M462.85,38.04h0M462.96,37.12h0M463.47,39.22h0M463.62,37.92h0M463.88,37.76h0M464.58,37.44h0M464.6,37.58h0M464.67,36.37h0M465.17,36.54h0M465.83,37.88h0M466.13,36.84h0M466.32,35.8h0M466.55,37.43h0M467.03,37.16h0M467.04,36.42h0M467.61,37.94h0M468.02,36.84h0M468.4,35.68h0M468.24,35.24h0M468.75,37.4h0M468.75,35.63h0M469.48,37.53h0M469.59,34.9h0M470.01,36.04h0M470.25,36.56h0M470.54,36.69h0M470.91,35.91h0M471.22,35.1h0M471.67,35.8h0M471.85,35.33h0M471.9,35.42h0M472.79,35.46h0M472.88,34.47h0M472.98,35.22h0M473.19,36.03h0M473.71,35.78h0M474.31,37.23h0M474.32,37.36h0M474.83,36.29h0M475.23,35.97h0M475.08,36.24h0M475.75,36.09h0M476.13,35.03h0M476.4,35.63h0M476.77,37.27h0M477.21,35.19h0M477.57,35.2h0M477.46,35.75h0M477.97,35.55h0M478.31,36.16h0M478.75,35.32h0M478.67,36.09h0M478.93,35.74h0M479.78,34.89h0M479.72,35.52h0M479.84,35.55h0M480.58,34.35h0M480.81,35.73h0M481.09,34.64h0M481.18,35.26h0M481.97,35.88h0M482.12,35.79h0M482.21,34.94h0M482.32,34h0M483.14,36.09h0M483.36,36.3h0M483.36,34.17h0M483.73,34.61h0M484.11,35.09h0M484.81,36.47h0M484.83,34.34h0M485.23,36.45h0M485.2,34.47h0M486.05,35.38h0M485.9,35.12h0M486.39,35.46h0M486.73,35.82h0M486.84,35.44h0M487.65,34.61h0M487.59,36.74h0M487.81,36.2h0M488.6,34.44h0M488.42,34.78h0M488.79,33.47h0M489.1,35.99h0M489.43,35.75h0M490.03,35h0M490.15,34.84h0M490.45,34.7h0M490.75,34.7h0M490.95,34.29h0M491.38,36.35h0M491.55,34.66h0M491.81,35.26h0M492.65,35.32h0M492.55,33.41h0M493.26,35.04h0M493.65,33.75h0M493.72,32.61h0M494.03,34.99h0M494.27,34.7h0M494.94,34.75h0M495.03,34.56h0M495.55,33.46h0M495.36,33.91h0M495.9,34.51h0M496.29,34.57h0M496.74,35.3h0M496.53,34.28h0M496.87,35.58h0M497.16,35.18h0M497.87,34.46h0M498.26,35.12h0M498.18,35.69h0M498.79,34.61h0M499.33,35.32h0M499.16,34.03h0M499.47,34.3h0M499.81,35.52h0M500.25,34.13h0M500.7,33.86h0M500.96,34.26h0M501.03,34.57h0M501.78,34.74h0M501.72,32.82h0M502.38,34.23h0M502.41,34.3h0M502.65,34.57h0M503.31,35.28h0M503.51,34.72h0M504.08,33.82h0M504.08,34.01h0M504.18,34.01h0M504.65,34.15h0M505.36,34.97h0M505.21,34.19h0M505.8,33.44h0M505.83,34.24h0M506.18,36.1h0M506.54,34.83h0M507.2,35.73h0M507.54,34.92h0M507.66,32.37h0M508.01,34.51h0M508.26,34.86h0M508.5,35.48h0M509.1,34.33h0M509.23,33.07h0M509.18,34.8h0M509.53,33.74h0M510.32,33.91h0M510.61,34.56h0M510.44,33.47h0M510.84,34.4h0M511.2,34.67h0M511.8,34.59h0M512.2,33.82h0M512.15,32.45h0M512.8,33.22h0M513.24,34.58h0M512.96,33.95h0M513.62,34.67h0M513.59,34.73h0M514.24,35.47h0M514.48,33.65h0M514.72,34.41h0M515.29,34.1h0M515.75,35.99h0M515.62,33.61h0M516.29,35.07h0M516.53,34.87h0M516.65,33.51h0M516.99,34.74h0M517.13,34.68h0M517.82,33.08h0M518.27,35.73h0M518.28,33.89h0M518.93,32.8h0M519.23,32.4h0M519.03,32.63h0M519.26,34.98h0M519.9,33.62h0M520.1,33.02h0M520.62,33.47h0M520.91,34.08h0M521.22,34.63h0M521.73,33.19h0M522.01,34.92h0M521.79,35.09h0M522.33,34.47h0M522.74,33.7h0M523.04,32.63h0M523.18,33.94h0M523.78,32.93h0M523.73,34.47h0M524.24,34.05h0M524.48,33.98h0M524.9,34.23h0M525.12,32.71h0M525.65,34.84h0M526.19,34.92h0M526.5,32.7h0M526.65,33.39h0M526.57,33.05h0M527.13,34.24h0M527.45,33.06h0M527.9,35h0M527.97,33.68h0M528.53,33.3h0M529,35.19h0M528.87,34.14h0M529.37,34.69h0M529.54,34.25h0M530.03,33.81h0M530.45,33.89h0M530.75,35.17h0M531.01,32.98h0M531.3,34.57h0M531.71,33.27h0M531.89,34.09h0M531.98,34.83h0M532.81,32.79h0M533.03,33.65h0M533.42,33.13h0M533.29,33.1h0M534,33.19h0M534.31,34.05h0M534.71,33.05h0M534.73,32.67h0M534.84,33.97h0M535.15,34.28h0M535.94,33.89h0M535.73,32.52h0M536.34,33.45h0M536.87,32.2h0M536.65,33.7h0M537.37,33.33h0M537.38,32.13h0M537.62,31.97h0M537.89,32.73h0M538.56,34.23h0M538.94,33.29h0M539.11,33.34h0M539.33,34.15h0M539.63,32.27h0M540.13,32.94h0M540.43,33.98h0M540.95,34.21h0M541.08,33.08h0M541.21,34.62h0M541.77,32.47h0M542.03,33.61h0M542.23,34.26h0M542.66,32.77h0M543.03,33.92h0M543.52,33.32h0M543.58,33.06h0M543.84,33.97h0M544.28,32.85h0M544.57,32.11h0M544.54,32.31h0M545.02,33.22h0M545.74,32.51h0M545.81,34.03h0M546.03,33.28h0M546.52,32.24h0M546.92,33.98h0M547.36,32.97h0M547.52,32.45h0M547.7,33.01h0M548.23,31.67h0M548.44,33.41h0M548.35,33.52h0M548.67,34.23h0M549.48,32.89h0M549.81,32.97h0M549.76,33.73h0M550.13,32.74h0M550.41,31.76h0M551.14,33.47h0M551.14,31.96h0M551.68,32.44h0M551.97,33.17h0M552.03,34.77h0M552.7,34.39h0M552.65,33.13h0M553.02,33.66h0M553.22,32.74h0M553.59,33.44h0M553.98,33.17h0M554.33,33.59h0M554.58,33.45h0M554.79,32.65h0M555.35,34.44h0M555.59,32.03h0M555.69,32.49h0M556.41,34.49h0M556.22,32.73h0M556.81,33.28h0M557.25,33.45h0M557.38,33.14h0M557.98,33.08h0M558.19,33.64h0M558.5,33.35h0M558.57,32.07h0M559.06,34.2h0M559.53,32.21h0M559.77,33.59h0M560.13,32.53h0M560.02,34.04h0M560.71,33.6h0M560.7,33.13h0M561.05,34.62h0M561.39,34h0M562.02,31.66h0M562.31,32.26h0M562.38,32.14h0M562.56,32.42h0M563.43,33.38h0M563.62,31.48h0M563.85,31.08h0M564.05,33.84h0M564.55,32.92h0M564.71,33.01h0M565,32.95h0M565.3,32.13h0M565.91,32.89h0M566.17,32.78h0M566.16,32.88h0M566.38,33.94h0M567.02,31.47h0M567.06,34.02h0M567.79,33.14h0M567.9,33.05h0M568.25,32.56h0M568.6,32.37h0M569.02,34.47h0M569.25,32.73h0M569.25,33.7h0M569.6,32.49h0M570.33,34.44h0M570.52,32.67h0M570.8,34.72h0M571.24,33.94h0M571.37,32.95h0M571.46,32.35h0" stroke="#2ca02c" stroke-width="1.5" stroke-linecap="round" fill="none"/>
<polyline points="572.62,25.15 572.93,26.32 573.25,27.48 573.56,28.65 573.88,29.81 574.2,30.98 574.51,32.15 574.83,33.31 575.14,34.48 575.46,35.64 575.77,36.81 576.09,38 576.41,39.35 576.72,40.83 577.04,42.38 577.35,43.92 577.67,45.4 577.98,46.75 578.3,47.91 578.62,48.82 578.93,49.42 579.25,49.63 579.56,49.52 579.88,49.22 580.19,48.75 580.51,48.14 580.83,47.4 581.14,46.57 581.46,45.67 581.77,44.72 582.09,43.76 582.41,42.79 582.72,41.86 583.04,40.98 583.35,40.14 583.67,39.2 583.98,38.16 584.3,37.04 584.62,35.88 584.93,34.71 585.25,33.54 585.56,32.42 585.88,31.38 586.19,30.44 586.51,29.64 586.83,29 587.14,28.55 587.46,28.32 587.77,28.23 588.09,28.13 588.4,28.04 588.72,27.96 589.04,27.89 589.35,27.81 589.67,27.75 589.98,27.69 590.3,27.64 590.61,27.59 590.93,27.55 591.25,27.51 591.56,27.48 591.88,27.46 592.19,27.44 592.51,27.43 592.82,27.42 593.14,27.42 593.46,27.42 593.77,27.43 594.09,27.44 594.4,27.45 594.72,27.47 595.03,27.49 595.35,27.51 595.67,27.53 595.98,27.56 596.3,27.59 596.61,27.62 596.93,27.65 597.24,27.68 597.56,27.72 597.88,27.75 598.19,27.79 598.51,27.82 598.82,27.86 599.14,27.9 599.46,27.94 599.77,27.97 600.09,28.01 600.4,28.05 600.72,28.08 601.03,28.12 601.35,28.15 601.67,28.18 601.98,28.22 602.3,28.25 602.61,28.27 602.93,28.3 603.24,28.32 603.56,28.35 603.88,28.37 604.19,28.39 604.51,28.42 604.82,28.44 605.14,28.46 605.45,28.49 605.77,28.51 606.09,28.53 606.4,28.55 606.72,28.58 607.03,28.6 607.35,28.62 607.66,28.64 607.98,28.67 608.3,28.69 608.61,28.71 608.93,28.73 609.24,28.76 609.56,28.78 609.87,28.8 610.19,28.82 610.51,28.85 610.82,28.87 611.14,28.89 611.45,28.91 611.77,28.94 612.08,28.96 612.4,28.98 612.72,29 613.03,29.02 613.35,29.04 613.66,29.07 613.98,29.09 614.29,29.11 614.61,29.13 614.93,29.15 615.24,29.18 615.56,29.2 615.87,29.22 616.19,29.24 616.51,29.26 616.82,29.28 617.14,29.3 617.45,29.32 617.77,29.35 618.08,29.37 618.4,29.39 618.72,29.41 619.03,29.43 619.35,29.45 619.66,29.47 619.98,29.49 620.29,29.51 620.61,29.53 620.93,29.55 621.24,29.57 621.56,29.59 621.87,29.61 622.19,29.63 622.5,29.65 622.82,29.67 623.14,29.69 623.45,29.71 623.77,29.73 624.08,29.75 624.4,29.77 624.71,29.79 625.03,29.81 625.35,29.83 625.66,29.85 625.98,29.87 626.29,29.89 626.61,29.91 626.92,29.93 627.24,29.95 627.56,29.96 627.87,29.98 628.19,30 628.5,30.02 628.82,30.04 629.13,30.06 629.45,30.08 629.77,30.09 630.08,30.11 630.4,30.13 630.71,30.15 631.03,30.16 631.34,30.18 631.66,30.2 631.98,30.22 632.29,30.24 632.61,30.25 632.92,30.27 633.24,30.29 633.56,30.3 633.87,30.32 634.19,30.34 634.5,30.35 634.82,30.37 635.13,30.39 635.45,30.4 635.77,30.42 636.08,30.44 636.4,30.45 636.71,30.47 637.03,30.48 637.34,30.5 637.66,30.51 637.98,30.53 638.29,30.55 638.61,30.56 638.92,30.58 639.24,30.59 639.55,30.61 639.87,30.62 640.19,30.63 640.5,30.65 640.82,30.66 641.13,30.68 641.45,30.69 641.76,30.71 642.08,30.72 642.4,30.73 642.71,30.75 643.03,30.76 643.34,30.77 643.66,30.79 643.97,30.8 644.29,30.81 644.61,30.83 644.92,30.84 645.24,30.85 645.55,30.86 645.87,30.88 646.18,30.89 646.5,30.9 646.82,30.91 647.13,30.92 647.45,30.94 647.76,30.95 648.08,30.96 648.39,30.97 648.71,30.98 649.03,30.99 649.34,31 649.66,31.01 649.97,31.02 650.29,31.03 650.61,31.04" fill="none" stroke="#2ca02c" stroke-width="2.0" stroke-linejoin="round"/>
<path d="M572.77,24.49h0M573.21,26.01h0M573.39,28h0M573.64,28.44h0M573.75,29.89h0M574.36,31.44h0M574.56,31.3h0M575.12,33.22h0M574.98,34.4h0M575.72,35h0M575.82,37.24h0M576.25,38.08h0M576.61,40.36h0M576.85,41.58h0M577.13,43.54h0M577.45,44.87h0M577.75,46.25h0M577.94,46.89h0M578.21,47.51h0M578.43,49.31h0M579.17,49.36h0M579.48,47.86h0M579.71,50.08h0M579.98,49.48h0M580.32,45.68h0M580.82,46.7h0M580.77,47.77h0M580.84,45.23h0M581.52,45.51h0M581.53,45.95h0M582.2,43.49h0M582.12,43.54h0M582.5,41.97h0M583.2,40.43h0M583.64,40.02h0M583.45,40.07h0M584.07,39.46h0M584.14,37.59h0M584.52,35.67h0M584.84,35.26h0M585.41,34.1h0M585.78,30.21h0M585.75,31.41h0M586.29,29.69h0M586.34,31.65h0M586.91,29.89h0M586.89,29.67h0M587.27,28.74h0M587.79,27.56h0M587.8,27.74h0M588.1,27.97h0M588.59,27.48h0M588.82,28.01h0M589.66,27.76h0M589.38,26.37h0M589.99,27.1h0M590.6,26.67h0M590.86,25.95h0M590.93,28.57h0M591.07,25.7h0M591.6,28.5h0M591.6,26.4h0M591.99,27.61h0M592.39,25.69h0M593.11,26.38h0M593.13,28.09h0M593.28,26.94h0M593.82,26.94h0M593.95,27.96h0M594.1,27.26h0M594.44,27.97h0M595.34,27.73h0M595.34,27.57h0M595.59,27.5h0M596.1,28.43h0M596.2,26.05h0M596.83,28.75h0M596.86,27.5h0M597.25,28.19h0M597.82,26.62h0M598.06,28.11h0M598.39,28.15h0M598.35,26.34h0M599.03,28.26h0M599.41,27.93h0M599.73,28.57h0M600.05,27.55h0M600.37,27.84h0M600.44,28.91h0M600.83,27.85h0M600.9,28.55h0M601.46,27.81h0M601.51,29.11h0M601.78,27.51h0M602.4,27.42h0M602.46,29h0M602.64,28.36h0M603.23,27.81h0M603.38,29.46h0M604.07,28.31h0M604.09,28.15h0M604.24,29.42h0M604.87,29.13h0M605.02,27.41h0M605.19,28.19h0M605.85,28.77h0M606.21,29.41h0M606.46,28.05h0M606.86,29.06h0M606.83,26.76h0M607.11,28.36h0M607.93,27.76h0M608.02,28.5h0M608.3,27.43h0M608.66,28.42h0M609.05,29.49h0M609.28,28.56h0M609.73,29.04h0M609.77,28.65h0M610.49,29.01h0M610.7,28.88h0M610.9,29.34h0M611.32,29.21h0M611.2,28.73h0M611.58,29.15h0M611.84,28.1h0M612.42,28.31h0M612.9,29.32h0M612.91,29.99h0M613.65,27.97h0M613.49,29.4h0M614.16,30.08h0M614.08,29.73h0M614.49,29.37h0M615.08,28.04h0M615.4,28.5h0M615.51,29.11h0M615.59,30.29h0M615.88,29.53h0M616.52,29.76h0M616.92,28.06h0M617.16,29.44h0M617.21,27.32h0M617.58,28.93h0M618.25,29.96h0M618.41,29.24h0M618.78,30.12h0M618.89,29.04h0M619.35,31.16h0M619.48,28.48h0M619.72,29.32h0M620.58,28.87h0M620.31,30.56h0M620.95,27.68h0M621.52,30.61h0M621.38,29.44h0M622.03,30.65h0M621.98,29.91h0M622.25,29.39h0M622.58,30.89h0M623.02,29.82h0M623.6,29.36h0M623.97,30.57h0M624.16,29.02h0M624.4,29.94h0M624.77,30.78h0M625.29,30.38h0M625.53,30.56h0M625.84,29.92h0M625.83,29.37h0M626.05,29.91h0M626.46,29.68h0M627.01,29.97h0M627.29,29.51h0M627.87,29.07h0M627.75,29.08h0M628.38,31.3h0M628.79,29.92h0M628.72,30.21h0M629.31,28.87h0M629.49,29.25h0M629.87,31.18h0M630.13,30.58h0M630.14,31.63h0M630.57,29.84h0M631.32,29.97h0M631.27,30.46h0M631.41,31.46h0M632.22,29.89h0M632.48,31h0M632.65,29.75h0M632.65,31h0M632.93,28.62h0M633.31,29.15h0M633.95,29.19h0M634.13,31.86h0M634.32,29.54h0M634.91,29.44h0M635.17,31.01h0M635.15,30.45h0M635.92,30.83h0M635.87,29.76h0M636.24,28.64h0M636.63,31.41h0M636.87,31.55h0M637.08,30.09h0M637.68,31.38h0M637.76,29.91h0M638.33,30.86h0M638.48,30.21h0M639.07,29.84h0M639.51,30.44h0M639.45,29.81h0M639.83,31.48h0M640.38,31.6h0M640.47,30.51h0M640.64,31.58h0M640.95,30.72h0M641.73,30.26h0M641.62,30.74h0M641.99,30.4h0M642.39,30.51h0M642.45,32.78h0M643,30.97h0M643.61,31.19h0M643.71,29.66h0M643.77,29.76h0M644.01,31.29h0M644.7,30.07h0M645.14,31.06h0M645.25,30.33h0M645.32,31.94h0M645.87,30.32h0M645.92,30.28h0M646.77,32.11h0M646.94,30.55h0M647.04,29.81h0M647.72,31.01h0M647.74,29.99h0M647.78,31.74h0M648.11,31.84h0M649.01,32.07h0M649.28,30.26h0M649.22,32.78h0M649.77,30.43h0M650.15,31.24h0M650.3,30.34h0M650.47,30.85h0" stroke="#2ca02c" stroke-width="1.5" stroke-linecap="round" fill="none"/>
<polyline points="413.8,29.68 414.12,28.42 414.43,27.49 414.75,26.84 415.06,26.43 415.38,26.19 415.69,26.09 416.01,26.06 416.33,26.18 416.64,27.04 416.96,28.55 417.27,30.51 417.59,32.67 417.9,34.84 418.22,36.79 418.54,38.3 418.85,39.55 419.17,40.84 419.48,42.14 419.8,43.4 420.11,44.58 420.43,45.63 420.75,46.53 421.06,47.21 421.38,47.66 421.69,47.81 422.01,47.78 422.32,47.69 422.64,47.55 422.96,47.36 423.27,47.15 423.59,46.92 423.9,46.68 424.22,46.44 424.54,46.21 424.85,46 425.17,45.8 425.48,45.6 425.8,45.39 426.11,45.17 426.43,44.95 426.75,44.73 427.06,44.5 427.38,44.28 427.69,44.06 428.01,43.84 428.32,43.63 428.64,43.42 428.96,43.21 429.27,43.02 429.59,42.83 429.9,42.65 430.22,42.47 430.53,42.29 430.85,42.11 431.17,41.94 431.48,41.77 431.8,41.6 432.11,41.43 432.43,41.27 432.74,41.11 433.06,40.95 433.38,40.79 433.69,40.64 434.01,40.49 434.32,40.34 434.64,40.2 434.95,40.06 435.27,39.92 435.59,39.79 435.9,39.66 436.22,39.53 436.53,39.4 436.85,39.27 437.16,39.15 437.48,39.03 437.8,38.9 438.11,38.78 438.43,38.66 438.74,38.54 439.06,38.43 439.37,38.31 439.69,38.2 440.01,38.08 440.32,37.97 440.64,37.86 440.95,37.76 441.27,37.65 441.59,37.55 441.9,37.45 442.22,37.35 442.53,37.25 442.85,37.16 443.16,37.06 443.48,36.97 443.8,36.89 444.11,36.8 444.43,36.72 444.74,36.64 445.06,36.56 445.37,36.48 445.69,36.41 446.01,36.34 446.32,36.26 446.64,36.19 446.95,36.12 447.27,36.04 447.58,35.97 447.9,35.9 448.22,35.83 448.53,35.76 448.85,35.68 449.16,35.61 449.48,35.54 449.79,35.47 450.11,35.41 450.43,35.34 450.74,35.27 451.06,35.21 451.37,35.14 451.69,35.08 452,35.01 452.32,34.95 452.64,34.89 452.95,34.83 453.27,34.77 453.58,34.71 453.9,34.65 454.21,34.6 454.53,34.54 454.85,34.49 455.16,34.44 455.48,34.39 455.79,34.34 456.11,34.29 456.42,34.24 456.74,34.2 457.06,34.16 457.37,34.11 457.69,34.07 458,34.04 458.32,34 458.64,33.97 458.95,33.93 459.27,33.9 459.58,33.88 459.9,33.85 460.21,33.82 460.53,33.8 460.85,33.78 461.16,33.76 461.48,33.75 461.79,33.73 462.11,33.71 462.42,33.7 462.74,33.68 463.06,33.66 463.37,33.65 463.69,33.63 464,33.62 464.32,33.6 464.63,33.59 464.95,33.57 465.27,33.56 465.58,33.54 465.9,33.53 466.21,33.51 466.53,33.5 466.84,33.48 467.16,33.47 467.48,33.45 467.79,33.44 468.11,33.43 468.42,33.41 468.74,33.4 469.05,33.38 469.37,33.37 469.69,33.36 470,33.35 470.32,33.33 470.63,33.32 470.95,33.31 471.26,33.29 471.58,33.28 471.9,33.27 472.21,33.26 472.53,33.25 472.84,33.24 473.16,33.22 473.47,33.21 473.79,33.2 474.11,33.19 474.42,33.18 474.74,33.17 475.05,33.16 475.37,33.15 475.69,33.14 476,33.13 476.32,33.12 476.63,33.11 476.95,33.1 477.26,33.09 477.58,33.08 477.9,33.07 478.21,33.06 478.53,33.05 478.84,33.05 479.16,33.04 479.47,33.03 479.79,33.02 480.11,33.01 480.42,33.01 480.74,33 481.05,32.99 481.37,32.99 481.68,32.98 482,32.97 482.32,32.97 482.63,32.96 482.95,32.95 483.26,32.95 483.58,32.94 483.89,32.94 484.21,32.93 484.53,32.92 484.84,32.92 485.16,32.91 485.47,32.91 485.79,32.91 486.1,32.9 486.42,32.9 486.74,32.89 487.05,32.89 487.37,32.89 487.68,32.88 488,32.88 488.31,32.88 488.63,32.87 488.95,32.87 489.26,32.87 489.58,32.87 489.89,32.87 490.21,32.86 490.52,32.86 490.84,32.86 491.16,32.86 491.47,32.86 491.79,32.86 492.1,32.86 492.42,32.86 492.74,32.86 493.05,32.86 493.37,32.86 493.68,32.86 494,32.86 494.31,32.86 494.63,32.86 494.95,32.86 495.26,32.86 495.58,32.86 495.89,32.86 496.21,32.86 496.52,32.86 496.84,32.86 497.16,32.86 497.47,32.86 497.79,32.86 498.1,32.86 498.42,32.86 498.73,32.86 499.05,32.86 499.37,32.86 499.68,32.86 500,32.86 500.31,32.86 500.63,32.86 500.94,32.86 501.26,32.86 501.58,32.86 501.89,32.86 502.21,32.86 502.52,32.86 502.84,32.86 503.15,32.86 503.47,32.86 503.79,32.86 504.1,32.86 504.42,32.86 504.73,32.86 505.05,32.86 505.36,32.86 505.68,32.86 506,32.86 506.31,32.86 506.63,32.86 506.94,32.86 507.26,32.86 507.57,32.86 507.89,32.86 508.21,32.86 508.52,32.86 508.84,32.86 509.15,32.86 509.47,32.86 509.78,32.86 510.1,32.86 510.42,32.86 510.73,32.86 511.05,32.86 511.36,32.86 511.68,32.86 512,32.86 512.31,32.86 512.63,32.86 512.94,32.86 513.26,32.87 513.57,32.87 513.89,32.87 514.21,32.87 514.52,32.87 514.84,32.87 515.15,32.87 515.47,32.87 515.78,32.87 516.1,32.87 516.42,32.87 516.73,32.87 517.05,32.87 517.36,32.87 517.68,32.87 517.99,32.87 518.31,32.87 518.63,32.87 518.94,32.87 519.26,32.87 519.57,32.88 519.89,32.88 520.2,32.88 520.52,32.88 520.84,32.88 521.15,32.88 521.47,32.88 521.78,32.88 522.1,32.88 522.41,32.88 522.73,32.88 523.05,32.88 523.36,32.88 523.68,32.88 523.99,32.89 524.31,32.89 524.62,32.89 524.94,32.89 525.26,32.89 525.57,32.89 525.89,32.89 526.2,32.89 526.52,32.89 526.83,32.89 527.15,32.89 527.47,32.9 527.78,32.9 528.1,32.9 528.41,32.9 528.73,32.9 529.05,32.9 529.36,32.9 529.68,32.9 529.99,32.9 530.31,32.91 530.62,32.91 530.94,32.91 531.26,32.91 531.57,32.91 531.89,32.91 532.2,32.91 532.52,32.92 532.83,32.92 533.15,32.92 533.47,32.92 533.78,32.92 534.1,32.92 534.41,32.92 534.73,32.93 535.04,32.93 535.36,32.93 535.68,32.93 535.99,32.93 536.31,32.93 536.62,32.94 536.94,32.94 537.25,32.94 537.57,32.94 537.89,32.94 538.2,32.94 538.52,32.95 538.83,32.95 539.15,32.95 539.46,32.95 539.78,32.95 540.1,32.96 540.41,32.96 540.73,32.96 541.04,32.96 541.36,32.96 541.67,32.97 541.99,32.97 542.31,32.97 542.62,32.97 542.94,32.97 543.25,32.98 543.57,32.98 543.88,32.98 544.2,32.98 544.52,32.99 544.83,32.99 545.15,32.99 545.46,32.99 545.78,32.99 546.1,33 546.41,33 546.73,33 547.04,33 547.36,33.01 547.67,33.01 547.99,33.01 548.31,33.02 548.62,33.02 548.94,33.02 549.25,33.02 549.57,33.03 549.88,33.03 550.2,33.03 550.52,33.04 550.83,33.04 551.15,33.04 551.46,33.04 551.78,33.05 552.09,33.05 552.41,33.05 552.73,33.06 553.04,33.06 553.36,33.06 553.67,33.07 553.99,33.07 554.3,33.07 554.62,33.08 554.94,33.08 555.25,33.08 555.57,33.09 555.88,33.09 556.2,33.09 556.51,33.1 556.83,33.1 557.15,33.1 557.46,33.11 557.78,33.11 558.09,33.11 558.41,33.12 558.72,33.12 559.04,33.13 559.36,33.13 559.67,33.13 559.99,33.14 560.3,33.14 560.62,33.15 560.93,33.15 561.25,33.15 561.57,33.16 561.88,33.16 562.2,33.17 562.51,33.17 562.83,33.17 563.15,33.18 563.46,33.18 563.78,33.19 564.09,33.19 564.41,33.2 564.72,33.2 565.04,33.21 565.36,33.21 565.67,33.21 565.99,33.22 566.3,33.22 566.62,33.23 566.93,33.23 567.25,33.24 567.57,33.24 567.88,33.25 568.2,33.25 568.51,33.26 568.83,33.26 569.14,33.27 569.46,33.27 569.78,33.28 570.09,33.28 570.41,33.29 570.72,33.29 571.04,33.3 571.35,33.31 571.67,33.31" fill="none" stroke="#d62728" stroke-width="2.0" stroke-linejoin="round"/>
<path d="M413.97,29.71h0M414.29,27.86h0M414.56,26.68h0M414.6,25.9h0M414.99,25.54h0M415.51,25.53h0M415.94,26.56h0M415.82,26.22h0M416.02,27.51h0M416.38,27.27h0M417.11,28.74h0M417.14,29.4h0M417.3,31.18h0M417.68,35.81h0M417.92,38.16h0M418.34,38.89h0M419.01,39.37h0M418.89,39.37h0M419.63,43.21h0M419.88,44.51h0M420.09,45.61h0M420.18,44.6h0M420.92,47.07h0M420.9,47.5h0M421.68,48.64h0M421.85,47.38h0M421.98,48.11h0M422.45,47.72h0M422.76,48.15h0M422.89,47.87h0M423.26,46.18h0M423.63,47.41h0M423.71,46.15h0M424.19,46.83h0M424.25,47.14h0M424.9,45.76h0M425.11,46.58h0M425.22,45.57h0M425.74,44.55h0M426.05,45.42h0M426.24,45.54h0M426.6,43.85h0M427.09,44.64h0M427.57,44.9h0M427.51,44.09h0M428.31,43.28h0M428.3,43.16h0M428.77,43.14h0M429.18,42.81h0M428.99,43.1h0M429.56,43.83h0M429.77,42.67h0M430.39,43.95h0M430.77,41.95h0M431.16,42.98h0M431.05,42.98h0M431.47,40.55h0M431.81,41.46h0M431.99,41.32h0M432.59,41.59h0M432.85,41.07h0M433.19,41.55h0M433.15,41.24h0M433.48,40.66h0M434.07,40.51h0M434.04,42.6h0M434.38,39.14h0M435,40.67h0M434.98,39.23h0M435.59,38.84h0M436.01,39.4h0M436.18,39.95h0M436.33,38.98h0M436.64,39.67h0M437.42,40.07h0M437.46,41.2h0M437.68,38.39h0M438.07,38.72h0M438.64,37.51h0M438.7,38.64h0M439.21,38.24h0M439.67,38.22h0M439.49,38.48h0M439.96,37.71h0M440.48,37.57h0M440.94,37.46h0M440.67,38.55h0M440.97,37.91h0M441.69,36.07h0M442.09,37.34h0M442.34,37.93h0M442.28,38.49h0M443.09,36.15h0M443.09,36.25h0M443.34,36.7h0M443.82,37.28h0M444.18,36.31h0M444.16,35.83h0M444.74,36.56h0M445.37,36.58h0M445.52,36.84h0M445.59,36.45h0M445.91,37.1h0M446.47,36.08h0M446.83,36.94h0M446.84,36.69h0M447.36,37.01h0M447.85,37.15h0M448.09,35.86h0M447.94,34.43h0M448.3,37.39h0M448.94,35.76h0M449.03,36.97h0M449.33,35.65h0M449.89,36.81h0M450.42,35.54h0M450.26,35.75h0M450.98,35.25h0M450.95,34.96h0M451.1,35.32h0M451.47,35.18h0M451.86,35.74h0M452.09,35.49h0M452.39,35.18h0M453.08,34.96h0M453.34,34.61h0M453.6,34.43h0M453.85,35.79h0M454.23,33.84h0M454.56,34.29h0M454.86,34.59h0M454.85,34.51h0M455.52,35.21h0M455.75,33.97h0M456.11,36.28h0M456.26,36.12h0M457.01,33.71h0M456.88,34.76h0M457.38,34.36h0M457.38,34.76h0M457.98,33.57h0M458.39,34.89h0M458.76,34.04h0M458.79,33.66h0M459.2,32.69h0M459.57,33.08h0M459.68,33.89h0M460.24,33.23h0M460.48,34.26h0M461.03,33.85h0M460.88,33.21h0M461.45,32.67h0M462.08,34.77h0M461.87,34.1h0M462.2,33.36h0M462.69,33.22h0M463.15,33.47h0M463.46,33.83h0M463.74,34.47h0M464.18,34.62h0M464.35,33.29h0M464.55,34.08h0M464.72,33.8h0M465.15,34.2h0M465.49,33.96h0M465.75,34.31h0M466.5,33.85h0M466.68,33.77h0M466.58,33.18h0M467.22,34.26h0M467.35,34.95h0M467.68,33.79h0M467.89,33.28h0M468.43,33.91h0M468.87,32.82h0M469.19,33.46h0M469.08,34.14h0M469.82,32.87h0M470.22,33.15h0M470.53,33.6h0M470.95,33.65h0M471.01,34.26h0M471.12,34.91h0M471.82,32.97h0M472.19,31.5h0M472.27,32.69h0M472.24,32.89h0M472.77,33.23h0M472.96,33.62h0M473.58,31.98h0M474.01,33.05h0M474.41,32.37h0M474.28,33.35h0M474.47,32.68h0M474.93,32.56h0M475.53,33.87h0M475.92,34.27h0M475.99,32.73h0M476.03,32.42h0M476.48,32.7h0M477.15,33.46h0M477.54,34.41h0M477.49,33.68h0M478.12,32.3h0M478.39,32.46h0M478.5,33.35h0M478.79,32.45h0M479.32,33.25h0M479.24,33.79h0M479.59,33.09h0M479.91,33.66h0M480.28,32.34h0M480.94,33.66h0M481.24,32.87h0M481.17,32.1h0M481.39,33.09h0M482.29,33.64h0M482.54,32.25h0M482.34,32.64h0M482.8,32.08h0M483.19,33.08h0M483.27,32.65h0M483.76,33.1h0M484.33,32.54h0M484.61,32.93h0M484.88,33.29h0M484.87,33.9h0M485.51,33.56h0M485.8,33.26h0M486.17,32.61h0M486.61,32.55h0M486.43,33.09h0M487.34,32.27h0M487.55,31.54h0M487.64,33.25h0M487.9,32.38h0M488.25,32.62h0M488.65,32.67h0M489.14,32.85h0M489.23,34.8h0M489.27,32.07h0M489.81,34.55h0M490.51,34.27h0M490.41,32.72h0M490.63,32.25h0M491.16,32.43h0M491.27,33.76h0M491.92,33.88h0M491.83,32.81h0M492.62,34.24h0M493.04,31.75h0M493.29,31.6h0M493.45,33.03h0M493.59,33.06h0M493.74,32.74h0M494.19,31.26h0M494.81,33.69h0M494.71,33.55h0M495.06,32.56h0M495.81,33.31h0M495.83,32.21h0M496.26,31.14h0M496.21,32.26h0M496.89,33.44h0M497.43,32.76h0M497.77,33.1h0M497.59,33.79h0M498.19,32.34h0M498.4,31.82h0M498.98,32.4h0M498.96,31.45h0M499.06,33.56h0M499.59,33.02h0M500.21,34h0M500.08,32.79h0M500.33,31.78h0M500.96,32.9h0M501.21,33.19h0M501.5,32.27h0M502.01,31.84h0M502.43,32.7h0M502.32,32.95h0M503.04,31.81h0M503.35,32.47h0M503.62,31.75h0M504,33.39h0M504.28,32.88h0M504.23,33.36h0M504.71,34.13h0M505.08,33.73h0M505.67,32.42h0M505.8,32.15h0M506.22,33.1h0M506.06,33.22h0M506.32,31.79h0M506.76,33.43h0M507.54,32.42h0M507.56,33.84h0M507.77,34.22h0M508.34,32.74h0M508.39,32.96h0M508.55,33.41h0M509.41,34.12h0M509.67,32.67h0M509.98,33.56h0M510.04,31.42h0M510.39,32.45h0M510.58,33.34h0M510.97,33.81h0M511.54,32.93h0M511.9,33.44h0M511.91,33.91h0M512.11,32.37h0M512.64,33.52h0M513.07,32.43h0M513.09,33.35h0M513.86,32.58h0M513.89,32.68h0M513.95,32h0M514.58,32.18h0M514.66,33.65h0M515.44,32.16h0M515.27,31.33h0M515.98,33.58h0M516.29,32.27h0M516.31,32.94h0M516.79,32.55h0M517.05,30.67h0M517.55,34.88h0M517.53,33.71h0M517.8,32.8h0M518.4,33.78h0M518.53,33.03h0M518.78,32.11h0M519.2,32.88h0M519.57,33.68h0M519.64,32.06h0M519.91,32.51h0M520.24,33.52h0M520.95,32.46h0M521.45,34.59h0M521.3,34.4h0M521.88,32.73h0M522.16,33.1h0M522.7,31.92h0M522.61,32.99h0M523.01,34.25h0M523.35,30.96h0M523.94,32.85h0M524.2,32.72h0M524.46,34.05h0M524.88,31.38h0M525.03,31.6h0M525.25,31.71h0M525.47,32.49h0M525.84,32.07h0M526.08,32.17h0M526.32,34.04h0M526.58,31.77h0M526.94,33.91h0M527.33,32.35h0M527.99,34.9h0M528.29,32.18h0M528.32,34.3h0M528.46,32.08h0M528.81,32.5h0M529.46,32.58h0M529.49,33.16h0M530.01,32.7h0M530.11,32.13h0M530.85,33.57h0M530.89,33.82h0M531.38,32.03h0M531.56,34.7h0M531.79,31.92h0M532.15,34.72h0M532.32,33h0M532.57,31.83h0M533.25,31.92h0M533.77,34.1h0M533.64,33.3h0M534.19,32.11h0M534.55,32.18h0M534.42,35.41h0M534.98,32.55h0M535.38,33.75h0M535.36,31.35h0M535.96,33.52h0M536.23,31.33h0M536.52,32.44h0M536.85,32.06h0M537.21,32.16h0M537.64,32.54h0M537.57,33.4h0M538.01,33.37h0M538.23,33.48h0M538.92,33.84h0M539.08,33.24h0M539.25,32.84h0M539.86,33.13h0M539.8,32.05h0M540.2,33.16h0M540.7,32.14h0M541.09,32.55h0M541.11,31.62h0M541.91,32.46h0M542.12,31.91h0M542.6,32.28h0M542.81,32.91h0M543.08,32.09h0M542.99,33.82h0M543.68,32.77h0M544.17,32.75h0M544.4,32.14h0M544.39,34.1h0M544.74,32.94h0M544.97,32.4h0M545.76,32.25h0M545.86,33.39h0M545.99,33.98h0M546.28,32.62h0M546.44,34.08h0M546.77,32.88h0M547.41,32.98h0M547.96,32.77h0M548.02,31.89h0M548.32,32.19h0M548.8,32.57h0M548.66,32.37h0M549.08,33.07h0M549.31,32.66h0M549.7,32.72h0M550.32,33.4h0M550.23,32.84h0M550.59,31.48h0M550.93,33.02h0M551.74,32.82h0M551.62,33.74h0M551.81,33.67h0M552.49,33.96h0M552.8,33.58h0M553.34,31.7h0M553.34,31.87h0M553.51,32.96h0M553.83,34.74h0M554,31.99h0M554.62,33.48h0M554.95,33.82h0M555.38,31.86h0M555.85,32.95h0M556.15,31.47h0M556.33,32.82h0M556.45,33.58h0M557.13,33.58h0M557.41,34.67h0M557.51,32.97h0M557.71,33.51h0M558.28,32.56h0M558.33,33.18h0M558.94,31.6h0M559.25,33.49h0M559.21,32.75h0M559.6,31.58h0M560.1,32.46h0M560.29,31.8h0M560.7,31.87h0M560.88,33.2h0M561.35,33.44h0M561.36,34.99h0M561.83,33.08h0M562.27,33.19h0M562.71,32.84h0M562.56,31.78h0M562.86,33.27h0M563.58,33.34h0M563.88,32.7h0M564.18,33.27h0M564.09,33.49h0M564.6,33.75h0M565.32,33.14h0M565.28,32.85h0M565.38,33.92h0M565.99,33.57h0M566,33.11h0M566.6,33.89h0M567.03,32.49h0M567.51,32.46h0M567.57,33.42h0M567.61,31.11h0M568.06,32.4h0M568.58,32.76h0M568.54,32.9h0M569.09,32.25h0M569.4,32h0M569.83,32.86h0M569.95,31.17h0M570.37,33.18h0M570.96,33.66h0M571.04,33.89h0M571.4,33.59h0M571.96,33.39h0" stroke="#d62728" stroke-width="1.5" stroke-linecap="round" fill="none"/>
<polyline points="572.62,26.06 572.93,27.91 573.25,29.73 573.56,31.51 573.88,33.25 574.2,34.95 574.51,36.61 574.83,38.23 575.14,39.8 575.46,41.35 575.77,43.03 576.09,44.82 576.41,46.64 576.72,48.41 577.04,50.07 577.35,51.54 577.67,52.75 577.98,53.62 578.3,54.1 578.62,54.11 578.93,53.72 579.25,52.99 579.56,51.98 579.88,50.75 580.19,49.37 580.51,47.88 580.83,46.34 581.14,44.82 581.46,43.38 581.77,42.06 582.09,40.89 582.41,39.69 582.72,38.45 583.04,37.2 583.35,35.96 583.67,34.78 583.98,33.68 584.3,32.7 584.62,31.85 584.93,31.16 585.25,30.48 585.56,29.82 585.88,29.18 586.19,28.61 586.51,28.13 586.83,27.75 587.14,27.51 587.46,27.42 587.77,27.44 588.09,27.49 588.4,27.58 588.72,27.69 589.04,27.84 589.35,28.01 589.67,28.2 589.98,28.41 590.3,28.64 590.61,28.88 590.93,29.13 591.25,29.39 591.56,29.66 591.88,29.93 592.19,30.21 592.51,30.48 592.82,30.75 593.14,31.01 593.46,31.26 593.77,31.5 594.09,31.74 594.4,31.99 594.72,32.26 595.03,32.54 595.35,32.84 595.67,33.14 595.98,33.44 596.3,33.76 596.61,34.07 596.93,34.39 597.24,34.71 597.56,35.03 597.88,35.35 598.19,35.66 598.51,35.96 598.82,36.26 599.14,36.55 599.46,36.82 599.77,37.08 600.09,37.33 600.4,37.56 600.72,37.78 601.03,37.97 601.35,38.15 601.67,38.3 601.98,38.43 602.3,38.57 602.61,38.71 602.93,38.84 603.24,38.98 603.56,39.11 603.88,39.24 604.19,39.37 604.51,39.49 604.82,39.61 605.14,39.73 605.45,39.85 605.77,39.96 606.09,40.07 606.4,40.17 606.72,40.27 607.03,40.37 607.35,40.46 607.66,40.54 607.98,40.62 608.3,40.69 608.61,40.75 608.93,40.81 609.24,40.87 609.56,40.91 609.87,40.95 610.19,40.98 610.51,41 610.82,41.01 611.14,41.02 611.45,41.02 611.77,41.01 612.08,41.01 612.4,41.01 612.72,41.01 613.03,41.01 613.35,41 613.66,41 613.98,41 614.29,40.99 614.61,40.99 614.93,40.98 615.24,40.97 615.56,40.97 615.87,40.96 616.19,40.95 616.51,40.95 616.82,40.94 617.14,40.93 617.45,40.92 617.77,40.91 618.08,40.91 618.4,40.9 618.72,40.89 619.03,40.88 619.35,40.87 619.66,40.86 619.98,40.84 620.29,40.83 620.61,40.82 620.93,40.81 621.24,40.8 621.56,40.79 621.87,40.78 622.19,40.76 622.5,40.75 622.82,40.74 623.14,40.72 623.45,40.71 623.77,40.7 624.08,40.69 624.4,40.67 624.71,40.66 625.03,40.65 625.35,40.63 625.66,40.62 625.98,40.6 626.29,40.59 626.61,40.58 626.92,40.56 627.24,40.55 627.56,40.53 627.87,40.52 628.19,40.5 628.5,40.48 628.82,40.47 629.13,40.45 629.45,40.43 629.77,40.41 630.08,40.39 630.4,40.36 630.71,40.34 631.03,40.32 631.34,40.3 631.66,40.27 631.98,40.25 632.29,40.22 632.61,40.2 632.92,40.17 633.24,40.14 633.56,40.11 633.87,40.08 634.19,40.06 634.5,40.03 634.82,39.99 635.13,39.96 635.45,39.93 635.77,39.9 636.08,39.87 636.4,39.83 636.71,39.8 637.03,39.76 637.34,39.73 637.66,39.69 637.98,39.66 638.29,39.62 638.61,39.58 638.92,39.55 639.24,39.51 639.55,39.47 639.87,39.43 640.19,39.39 640.5,39.35 640.82,39.31 641.13,39.27 641.45,39.23 641.76,39.18 642.08,39.14 642.4,39.1 642.71,39.05 643.03,39.01 643.34,38.97 643.66,38.92 643.97,38.88 644.29,38.83 644.61,38.78 644.92,38.74 645.24,38.69 645.55,38.64 645.87,38.6 646.18,38.55 646.5,38.5 646.82,38.45 647.13,38.4 647.45,38.35 647.76,38.3 648.08,38.25 648.39,38.2 648.71,38.15 649.03,38.1 649.34,38.05 649.66,38 649.97,37.95 650.29,37.9 650.61,37.84" fill="none" stroke="#d62728" stroke-width="2.0" stroke-linejoin="round"/>
<path d="M572.31,26.27h0M573.22,28.29h0M573.18,29.17h0M573.74,32.42h0M573.67,34.24h0M574.12,34.89h0M574.54,36.82h0M575.13,38.86h0M575.08,38.16h0M575.49,41.49h0M575.99,42.68h0M575.97,45.77h0M576.33,43.99h0M576.41,48.62h0M577.16,49.27h0M577.2,51.29h0M577.68,52.2h0M578.28,54.02h0M578.05,55.99h0M578.91,55.24h0M579.04,52.39h0M579.35,52.48h0M579.25,51.41h0M579.78,51.13h0M579.94,49.56h0M580.31,48.11h0M580.81,47.2h0M581.13,44.2h0M581.64,43.86h0M581.94,43.35h0M581.87,40.79h0M582.33,39.71h0M582.83,38.91h0M582.83,36.94h0M583.1,35.44h0M583.59,33.83h0M584.15,34.07h0M584.61,33.18h0M584.86,31.25h0M584.66,31.05h0M585.18,30.73h0M585.5,29.08h0M586.06,28.05h0M586.47,28.01h0M586.75,28.84h0M586.53,29.8h0M587.38,26.72h0M587.21,27.57h0M587.6,27.45h0M587.99,25.76h0M588.68,26.82h0M588.99,27.48h0M588.84,27.76h0M589.05,29.25h0M589.48,27.66h0M589.85,28.47h0M590.26,28.27h0M590.43,27.72h0M590.7,29.67h0M591.46,28.93h0M591.26,31.31h0M592.03,31.34h0M591.98,29.84h0M592.32,29.77h0M592.85,31.23h0M593.14,30.05h0M593.52,31.22h0M593.5,30.57h0M594.34,32.29h0M594.49,32.64h0M594.53,31.25h0M595.18,31.41h0M595.47,33.51h0M595.57,31.95h0M596.29,34.53h0M596.15,33.37h0M596.32,34.83h0M597.16,34.99h0M597.3,34.71h0M597.51,35.14h0M597.81,34.59h0M598.14,35.82h0M598.69,37.23h0M599.08,35.46h0M598.91,34.93h0M599.69,38.19h0M599.97,36.26h0M599.93,38.57h0M600.16,36.99h0M600.84,38.03h0M601.32,38.88h0M601.53,38.02h0M601.98,38.8h0M602.25,37.06h0M602.16,38.66h0M602.44,38.4h0M603.2,38.76h0M602.98,38.25h0M603.26,39.6h0M603.95,37.6h0M604.44,39.13h0M604.29,39.24h0M605.02,39.49h0M605.18,39.51h0M605.5,40.01h0M605.81,40.23h0M605.99,40.26h0M606.36,39.87h0M606.56,39.41h0M607.19,40.02h0M607.57,40.53h0M607.41,40.11h0M607.76,39.81h0M608.21,40.19h0M608.82,39.33h0M609.09,40.7h0M609.49,40.73h0M609.35,41.29h0M609.66,41.48h0M610.37,40.7h0M610.8,41.18h0M610.51,40.39h0M611.41,41.11h0M611.48,40.85h0M611.8,39.45h0M612.2,40.25h0M612.14,40.11h0M612.4,41.49h0M612.84,41.64h0M613.23,41.26h0M613.55,39.97h0M613.79,41.69h0M614.21,40.84h0M614.34,39.65h0M614.74,41.19h0M615.49,40.87h0M615.25,40.39h0M615.86,42.11h0M616.1,39.85h0M616.59,41.07h0M617.06,41.07h0M616.96,42.24h0M617.3,41.43h0M617.78,42.88h0M618.38,39.86h0M618.68,39.71h0M618.7,41.46h0M619.21,39.97h0M619.37,40.4h0M619.77,41.48h0M619.69,41.59h0M620.58,42.14h0M620.81,41.95h0M621.23,42.18h0M621.01,40.28h0M621.46,39.08h0M622.09,40.29h0M622,42.19h0M622.74,41.01h0M622.83,40.76h0M623.12,41.8h0M623.66,41.37h0M623.47,40.37h0M623.88,40.9h0M624.53,41.22h0M624.99,42h0M624.84,39.9h0M625.6,40.26h0M625.91,39.03h0M626.25,41.64h0M626.52,40.04h0M626.74,39.98h0M627.24,40.42h0M627.06,41.1h0M627.29,40.84h0M627.57,40.44h0M628.13,42.03h0M628.5,39.89h0M628.56,40.36h0M628.93,40.68h0M629.35,40.28h0M629.46,40.27h0M630.05,39.99h0M630.2,40.18h0M630.41,40.97h0M631.12,40.78h0M631.19,40.17h0M631.82,40.28h0M631.86,39.03h0M631.99,40.68h0M632.72,40.46h0M632.74,40.37h0M633.39,41.22h0M633.77,39.97h0M634.05,40.81h0M634.36,40.37h0M634.28,40.67h0M635.04,40.1h0M634.99,39.81h0M635.57,41.9h0M635.55,39.94h0M636.33,39.6h0M636.68,40.7h0M636.62,40.15h0M636.94,38.33h0M637.53,40.07h0M637.61,39.27h0M638.29,40.47h0M638.41,38.81h0M638.8,41h0M638.62,39.39h0M639.14,39.8h0M639.42,39.32h0M640.02,39.45h0M640.27,38.96h0M640.43,40.26h0M640.8,40.36h0M641.04,38.92h0M641.19,39.08h0M641.81,40.91h0M642.22,37.86h0M642.13,39.26h0M642.63,39.13h0M643.08,40.33h0M643.05,38.88h0M643.42,38.61h0M644.01,38.35h0M644.3,39.64h0M644.42,36.27h0M644.86,38.1h0M645.5,37.93h0M645.5,37.1h0M645.6,38.69h0M646.1,38.35h0M646.2,40.19h0M646.54,39.85h0M647.17,38.5h0M647.57,38.24h0M647.59,38.41h0M648.04,38.59h0M648.53,37.7h0M648.97,37.62h0M648.94,38.37h0M649.41,37.99h0M649.8,37.62h0M649.93,37.76h0M650.29,39.05h0M650.84,38.12h0" stroke="#d62728" stroke-width="1.5" stroke-linecap="round" fill="none"/>
<polyline points="413.8,29.68 414.12,28.46 414.43,27.55 414.75,26.91 415.06,26.48 415.38,26.23 415.69,26.1 416.01,26.06 416.33,26.16 416.64,26.93 416.96,28.25 417.27,29.93 417.59,31.75 417.9,33.52 418.22,35.01 418.54,36.03 418.85,36.74 419.17,37.43 419.48,38.07 419.8,38.64 420.11,39.11 420.43,39.45 420.75,39.63 421.06,39.65 421.38,39.61 421.69,39.53 422.01,39.41 422.32,39.27 422.64,39.11 422.96,38.94 423.27,38.75 423.59,38.55 423.9,38.36 424.22,38.18 424.54,38 424.85,37.84 425.17,37.69 425.48,37.54 425.8,37.39 426.11,37.23 426.43,37.07 426.75,36.91 427.06,36.76 427.38,36.6 427.69,36.44 428.01,36.29 428.32,36.14 428.64,35.99 428.96,35.85 429.27,35.71 429.59,35.58 429.9,35.45 430.22,35.32 430.53,35.19 430.85,35.06 431.17,34.93 431.48,34.81 431.8,34.68 432.11,34.56 432.43,34.44 432.74,34.32 433.06,34.2 433.38,34.09 433.69,33.98 434.01,33.87 434.32,33.77 434.64,33.67 434.95,33.57 435.27,33.48 435.59,33.39 435.9,33.31 436.22,33.23 436.53,33.15 436.85,33.07 437.16,32.99 437.48,32.92 437.8,32.84 438.11,32.77 438.43,32.69 438.74,32.62 439.06,32.55 439.37,32.48 439.69,32.41 440.01,32.34 440.32,32.28 440.64,32.21 440.95,32.15 441.27,32.09 441.59,32.03 441.9,31.97 442.22,31.92 442.53,31.87 442.85,31.82 443.16,31.77 443.48,31.72 443.8,31.68 444.11,31.64 444.43,31.6 444.74,31.56 445.06,31.53 445.37,31.5 445.69,31.47 446.01,31.44 446.32,31.41 446.64,31.38 446.95,31.36 447.27,31.33 447.58,31.3 447.9,31.28 448.22,31.25 448.53,31.23 448.85,31.2 449.16,31.18 449.48,31.16 449.79,31.13 450.11,31.11 450.43,31.09 450.74,31.07 451.06,31.05 451.37,31.03 451.69,31.01 452,30.99 452.32,30.97 452.64,30.95 452.95,30.93 453.27,30.91 453.58,30.89 453.9,30.88 454.21,30.86 454.53,30.84 454.85,30.83 455.16,30.81 455.48,30.8 455.79,30.78 456.11,30.77 456.42,30.75 456.74,30.74 457.06,30.73 457.37,30.71 457.69,30.7 458,30.69 458.32,30.68 458.64,30.67 458.95,30.65 459.27,30.64 459.58,30.63 459.9,30.63 460.21,30.62 460.53,30.61 460.85,30.6 461.16,30.59 461.48,30.58 461.79,30.58 462.11,30.57 462.42,30.56 462.74,30.55 463.06,30.55 463.37,30.54 463.69,30.53 464,30.52 464.32,30.52 464.63,30.51 464.95,30.5 465.27,30.49 465.58,30.49 465.9,30.48 466.21,30.47 466.53,30.47 466.84,30.46 467.16,30.45 467.48,30.44 467.79,30.44 468.11,30.43 468.42,30.42 468.74,30.42 469.05,30.41 469.37,30.4 469.69,30.4 470,30.39 470.32,30.39 470.63,30.38 470.95,30.37 471.26,30.37 471.58,30.36 471.9,30.35 472.21,30.35 472.53,30.34 472.84,30.34 473.16,30.33 473.47,30.33 473.79,30.32 474.11,30.31 474.42,30.31 474.74,30.3 475.05,30.3 475.37,30.29 475.69,30.29 476,30.28 476.32,30.28 476.63,30.27 476.95,30.27 477.26,30.26 477.58,30.26 477.9,30.25 478.21,30.25 478.53,30.24 478.84,30.24 479.16,30.24 479.47,30.23 479.79,30.23 480.11,30.22 480.42,30.22 480.74,30.21 481.05,30.21 481.37,30.21 481.68,30.2 482,30.2 482.32,30.2 482.63,30.19 482.95,30.19 483.26,30.19 483.58,30.18 483.89,30.18 484.21,30.18 484.53,30.17 484.84,30.17 485.16,30.17 485.47,30.17 485.79,30.16 486.1,30.16 486.42,30.16 486.74,30.16 487.05,30.16 487.37,30.15 487.68,30.15 488,30.15 488.31,30.15 488.63,30.15 488.95,30.15 489.26,30.14 489.58,30.14 489.89,30.14 490.21,30.14 490.52,30.14 490.84,30.14 491.16,30.14 491.47,30.14 491.79,30.14 492.1,30.14 492.42,30.14 492.74,30.14 493.05,30.14 493.37,30.14 493.68,30.14 494,30.14 494.31,30.14 494.63,30.14 494.95,30.14 495.26,30.14 495.58,30.14 495.89,30.14 496.21,30.14 496.52,30.14 496.84,30.14 497.16,30.14 497.47,30.14 497.79,30.14 498.1,30.14 498.42,30.14 498.73,30.14 499.05,30.14 499.37,30.14 499.68,30.14 500,30.14 500.31,30.14 500.63,30.14 500.94,30.14 501.26,30.14 501.58,30.14 501.89,30.14 502.21,30.14 502.52,30.14 502.84,30.14 503.15,30.14 503.47,30.14 503.79,30.14 504.1,30.14 504.42,30.14 504.73,30.14 505.05,30.14 505.36,30.14 505.68,30.14 506,30.14 506.31,30.14 506.63,30.14 506.94,30.14 507.26,30.14 507.57,30.14 507.89,30.14 508.21,30.14 508.52,30.14 508.84,30.14 509.15,30.14 509.47,30.14 509.78,30.14 510.1,30.14 510.42,30.14 510.73,30.14 511.05,30.14 511.36,30.14 511.68,30.14 512,30.14 512.31,30.14 512.63,30.14 512.94,30.14 513.26,30.14 513.57,30.14 513.89,30.14 514.21,30.14 514.52,30.14 514.84,30.14 515.15,30.14 515.47,30.14 515.78,30.14 516.1,30.14 516.42,30.14 516.73,30.14 517.05,30.14 517.36,30.14 517.68,30.14 517.99,30.14 518.31,30.14 518.63,30.14 518.94,30.14 519.26,30.14 519.57,30.14 519.89,30.14 520.2,30.14 520.52,30.14 520.84,30.14 521.15,30.14 521.47,30.14 521.78,30.14 522.1,30.14 522.41,30.14 522.73,30.14 523.05,30.14 523.36,30.14 523.68,30.14 523.99,30.14 524.31,30.14 524.62,30.14 524.94,30.14 525.26,30.14 525.57,30.14 525.89,30.14 526.2,30.14 526.52,30.14 526.83,30.14 527.15,30.14 527.47,30.14 527.78,30.14 528.1,30.14 528.41,30.14 528.73,30.14 529.05,30.14 529.36,30.14 529.68,30.14 529.99,30.14 530.31,30.14 530.62,30.14 530.94,30.14 531.26,30.14 531.57,30.14 531.89,30.14 532.2,30.14 532.52,30.14 532.83,30.14 533.15,30.14 533.47,30.14 533.78,30.14 534.1,30.14 534.41,30.14 534.73,30.14 535.04,30.14 535.36,30.14 535.68,30.14 535.99,30.14 536.31,30.14 536.62,30.14 536.94,30.14 537.25,30.14 537.57,30.14 537.89,30.14 538.2,30.14 538.52,30.14 538.83,30.14 539.15,30.14 539.46,30.14 539.78,30.14 540.1,30.14 540.41,30.14 540.73,30.14 541.04,30.14 541.36,30.14 541.67,30.14 541.99,30.14 542.31,30.14 542.62,30.14 542.94,30.14 543.25,30.14 543.57,30.14 543.88,30.14 544.2,30.14 544.52,30.14 544.83,30.14 545.15,30.14 545.46,30.14 545.78,30.14 546.1,30.14 546.41,30.14 546.73,30.14 547.04,30.14 547.36,30.14 547.67,30.14 547.99,30.14 548.31,30.14 548.62,30.14 548.94,30.14 549.25,30.14 549.57,30.14 549.88,30.14 550.2,30.14 550.52,30.14 550.83,30.14 551.15,30.14 551.46,30.14 551.78,30.14 552.09,30.14 552.41,30.14 552.73,30.14 553.04,30.14 553.36,30.14 553.67,30.14 553.99,30.14 554.3,30.14 554.62,30.14 554.94,30.14 555.25,30.14 555.57,30.14 555.88,30.14 556.2,30.14 556.51,30.14 556.83,30.14 557.15,30.14 557.46,30.14 557.78,30.14 558.09,30.14 558.41,30.14 558.72,30.14 559.04,30.14 559.36,30.14 559.67,30.14 559.99,30.14 560.3,30.14 560.62,30.14 560.93,30.14 561.25,30.14 561.57,30.14 561.88,30.14 562.2,30.14 562.51,30.14 562.83,30.14 563.15,30.14 563.46,30.14 563.78,30.14 564.09,30.14 564.41,30.14 564.72,30.14 565.04,30.14 565.36,30.14 565.67,30.14 565.99,30.14 566.3,30.14 566.62,30.14 566.93,30.14 567.25,30.14 567.57,30.14 567.88,30.14 568.2,30.14 568.51,30.14 568.83,30.14 569.14,30.14 569.46,30.14 569.78,30.14 570.09,30.14 570.41,30.14 570.72,30.14 571.04,30.14 571.35,30.14 571.67,30.14" fill="none" stroke="#9467bd" stroke-width="2.0" stroke-linejoin="round"/>
<path d="M413.86,30.06h0M414.38,27.37h0M414.57,28.24h0M414.92,27.04h0M415.22,26.71h0M415.2,26.55h0M415.49,27.36h0M415.91,24.64h0M416.41,26.24h0M416.86,26.53h0M416.75,28.02h0M417.41,30.27h0M417.89,29.67h0M418.19,35.21h0M418.39,35.1h0M418.78,35.05h0M419.08,37.84h0M419.23,37.49h0M419.31,37.86h0M419.68,38.95h0M420.4,39.43h0M420.35,38.99h0M420.8,39.8h0M421.1,38.08h0M421.57,39.13h0M421.75,38.37h0M422.21,38.88h0M422.11,39.99h0M422.5,39.22h0M423.14,38.94h0M423.32,38.75h0M423.87,39.9h0M423.64,37.91h0M423.92,37.79h0M424.53,37.96h0M424.58,38.85h0M425.03,36.4h0M425.45,37.84h0M425.5,37.81h0M426.25,38.94h0M426.59,36.55h0M426.95,36.12h0M427.28,35.99h0M427.23,38.33h0M427.65,35.56h0M428.03,36.57h0M428.61,36.38h0M428.84,36.57h0M429.09,35.42h0M429.25,34.91h0M429.58,35.56h0M429.86,35.73h0M430.33,34.42h0M430.39,35.28h0M430.57,34.89h0M431.07,35.28h0M431.39,34.56h0M431.59,34.31h0M432.06,35.17h0M432.44,35.51h0M432.71,34.48h0M433.05,35.25h0M433.17,34.21h0M433.45,33.15h0M433.92,34.11h0M434.13,35.77h0M434.44,34.44h0M434.85,33.41h0M435.22,33.34h0M435.32,34.03h0M436.08,30.47h0M436.22,32.8h0M436.42,33.76h0M436.7,31.86h0M436.91,32.29h0M437.24,30.88h0M437.97,32.39h0M438,32.57h0M438.21,33.65h0M438.79,32.56h0M439.12,33.44h0M439.6,31.66h0M439.43,33.01h0M439.88,30.35h0M440.64,32.36h0M440.85,30.37h0M440.65,33.34h0M440.97,32.45h0M441.44,33.05h0M442,32.89h0M442.44,31.91h0M442.51,33.29h0M442.58,31.31h0M443.39,31.85h0M443.71,32.16h0M443.52,31.98h0M444.25,32.02h0M444.45,29.41h0M444.75,31.75h0M445,31.66h0M445.62,31.86h0M445.96,30.66h0M445.98,31.22h0M446.59,31.26h0M446.36,32.85h0M447.05,31.44h0M447.55,30.48h0M447.78,32h0M448.09,30.35h0M448.5,31.01h0M448.22,31h0M449.16,32.94h0M448.94,30.69h0M449.22,31.57h0M449.72,31.25h0M449.95,30.25h0M450.35,29.94h0M450.82,30.13h0M451.23,29.82h0M451.62,30.06h0M451.87,32.24h0M452.3,30.58h0M452.35,32.18h0M452.44,31.76h0M452.71,31.92h0M453.27,31.58h0M453.88,30.8h0M454.06,31.61h0M454.34,30.69h0M454.39,29.98h0M454.92,30.49h0M455.08,32.27h0M455.73,30.98h0M455.6,30.22h0M455.88,31h0M456.58,30.41h0M457.05,31.44h0M456.94,30.96h0M457.25,30.08h0M457.73,31.6h0M457.98,30.74h0M458.29,30.82h0M458.9,31h0M459.09,30.35h0M459.22,29.64h0M459.35,30.83h0M459.66,31.14h0M459.94,30.83h0M460.33,29.53h0M460.89,31.3h0M461.29,31.43h0M461.46,31.03h0M461.64,30.01h0M461.85,30.57h0M462.69,30.02h0M462.43,31.46h0M463.07,30.73h0M463.27,31.37h0M463.62,31.33h0M463.71,30.25h0M464.06,30.69h0M464.62,28.87h0M465.05,29.55h0M465.06,30.46h0M465.88,30.69h0M465.83,31.64h0M466.41,31.85h0M466.29,29.58h0M466.89,30.93h0M467.33,30.25h0M467.41,30.38h0M468.01,29.85h0M468.34,28.99h0M468.64,29.74h0M468.49,30.55h0M469.05,29.3h0M469.12,29.98h0M469.45,30.51h0M470.22,30.25h0M470.63,29.63h0M470.67,29.28h0M470.71,30.85h0M471.31,30.6h0M471.74,31.46h0M472.03,29.63h0M472.24,30.51h0M472.73,29.04h0M472.86,29.17h0M472.86,30.16h0M473.52,30.1h0M474.03,30.89h0M473.88,30.86h0M474.6,30.26h0M474.91,30.48h0M475.29,28.9h0M475.31,30.8h0M475.7,29.77h0M476.01,30.42h0M476.58,30.16h0M476.51,29.93h0M477.09,31.16h0M477.08,29.63h0M477.58,29.22h0M477.66,29.34h0M478.44,30.37h0M478.4,30.9h0M479.14,29.51h0M479.02,30.64h0M479.58,30.03h0M479.67,31.65h0M480.21,31.41h0M480.2,30.35h0M481.01,30.37h0M480.87,30.99h0M481.06,31.59h0M481.96,29.91h0M481.9,31.52h0M482.12,30.77h0M482.55,29.59h0M482.77,30.21h0M483.39,29.9h0M483.61,30.07h0M483.98,30.04h0M484.39,30.32h0M484.75,30.96h0M484.56,29.28h0M485.06,30.01h0M485.39,30.06h0M485.82,27.78h0M485.98,30.97h0M486.25,29.26h0M486.57,29.97h0M486.76,31.17h0M487.26,30.6h0M487.56,30.46h0M488.23,31.3h0M488.03,30.54h0M488.63,29.48h0M489.22,29.09h0M489.19,29.88h0M489.59,30.03h0M490.11,30.25h0M489.94,30.72h0M490.33,30.44h0M490.76,29.84h0M490.93,31.25h0M491.73,30.31h0M491.71,30.03h0M491.98,29.94h0M492.68,31.32h0M492.76,28.91h0M493.22,29.68h0M493.56,30.82h0M493.95,30.48h0M493.99,29.5h0M494.17,29.35h0M494.88,30.72h0M495.14,30.9h0M495,29.12h0M495.79,29.72h0M495.93,30.18h0M496.21,30.52h0M496.29,30.25h0M496.61,30.88h0M497.35,29.36h0M497.62,29.95h0M498.05,29.85h0M498.18,28.16h0M498.7,29.81h0M498.57,30.96h0M499.25,30.6h0M499.54,29.28h0M499.75,29.09h0M500.26,29.94h0M500.15,30.37h0M500.64,29.4h0M501.07,30.95h0M501.24,30.85h0M501.85,30.23h0M501.65,29.76h0M502.02,29.97h0M502.59,29.89h0M502.53,31.11h0M502.92,30.43h0M503.54,30.18h0M503.74,30.43h0M504.39,30.59h0M504.4,29.67h0M504.66,30.36h0M505.31,30.82h0M505.64,29.26h0M505.78,30.02h0M506.1,31.45h0M506.04,29.78h0M506.33,28.53h0M507.16,29.38h0M507.53,29.18h0M507.53,29.05h0M507.7,29.78h0M508.34,30.67h0M508.24,29.27h0M509.05,31.05h0M509.1,30.04h0M509.42,29.62h0M509.78,29.86h0M510.03,30.41h0M510.15,31.03h0M510.78,28.58h0M510.89,29.52h0M511.49,30.57h0M511.74,30.96h0M511.9,30h0M512.31,30.03h0M512.46,29.96h0M512.92,28.97h0M513.18,30.69h0M513.59,29.75h0M514.2,28.6h0M513.92,31.4h0M514.26,30.32h0M514.54,28.92h0M514.95,31.13h0M515.27,29.45h0M516.05,31.71h0M516.08,30.42h0M516.57,30.25h0M516.64,30.54h0M517,29.71h0M517.63,29.64h0M517.5,29.34h0M517.79,30.4h0M518.03,30.69h0M518.38,29.15h0M519.24,30.59h0M519.05,29.64h0M519.63,30.64h0M519.76,29.67h0M520.28,27.77h0M520.58,29.46h0M521.03,27.75h0M520.85,30.68h0M521.36,30.05h0M521.56,29.9h0M522.04,30.15h0M522.49,29.44h0M522.42,29.45h0M523.2,29.88h0M523.58,28.76h0M523.78,30.79h0M524.26,30.59h0M524.25,31.88h0M524.5,29.93h0M524.96,30.33h0M525.55,29.75h0M525.71,30.7h0M525.71,30.78h0M525.95,30.05h0M526.24,30.61h0M526.76,29.84h0M527.05,29.85h0M527.41,30.17h0M527.48,29.49h0M528.25,30h0M528.26,30.4h0M528.94,30.82h0M528.91,29.78h0M529.06,30.71h0M529.91,29.29h0M530.26,29.81h0M530,30.5h0M530.48,30.96h0M531.08,31.07h0M531.14,28.98h0M531.31,31.79h0M531.89,30.72h0M532.2,27.92h0M532.72,29.36h0M532.84,28.72h0M532.9,29.62h0M533.3,29.97h0M533.82,29.7h0M534.36,31.69h0M534.71,31.13h0M534.91,30.69h0M535.19,30.9h0M535.06,31.04h0M535.39,27.99h0M535.81,30.8h0M536.11,29.3h0M536.79,31.68h0M537.15,31.81h0M537.36,30.04h0M537.83,29.56h0M538.12,31.05h0M538.43,30.29h0M538.64,28.97h0M539.01,29.09h0M538.88,30.82h0M539.51,28.6h0M539.96,28.81h0M539.84,29.28h0M540.63,31.3h0M540.97,30.68h0M541.21,29.73h0M541.29,30.15h0M541.55,30.02h0M541.99,29.69h0M542,29.89h0M542.43,29.45h0M542.78,28.77h0M543.48,29.87h0M543.66,30.37h0M543.99,30.08h0M544.36,31.03h0M544.46,29.97h0M545.09,29.08h0M545.15,31.71h0M545.36,31.59h0M545.49,29.26h0M545.88,30.62h0M546.24,30.17h0M546.66,29.7h0M547.23,28.6h0M547.48,29.28h0M547.56,29.27h0M547.8,29.5h0M548.49,30.76h0M548.41,29.71h0M549.23,28.81h0M549.03,32.23h0M549.59,31.71h0M549.95,29.59h0M549.89,31.05h0M550.58,30.33h0M550.65,29.83h0M551,28.67h0M551.2,30.09h0M552.06,29.88h0M551.94,28.98h0M552.37,30.67h0M552.5,31.22h0M552.86,28.98h0M553.49,31.86h0M553.55,31.4h0M554.06,31.11h0M554.23,29.45h0M554.63,29.42h0M554.84,29.63h0M555.09,29.19h0M555.66,30.74h0M555.66,30.27h0M556.43,30.58h0M556.56,30.05h0M556.58,30.08h0M556.9,31.06h0M557.42,29.8h0M557.52,29.58h0M557.87,29.48h0M558.24,30.23h0M558.82,29.9h0M558.87,30.33h0M559.05,31.59h0M559.66,29.09h0M560.04,29.07h0M560.02,30.86h0M560.61,30.32h0M560.66,29.89h0M561.11,29.71h0M561.83,29.98h0M561.75,30.1h0M562.5,29.86h0M562.47,31.29h0M562.8,29.89h0M563.44,30.25h0M563.28,28.4h0M564.06,28.67h0M564.18,29.72h0M564.46,30.38h0M564.97,29.4h0M565.26,30.81h0M565.47,28.92h0M565.85,30.31h0M566.1,30h0M566.15,30.85h0M566.84,30.7h0M566.62,28.59h0M567.48,29.62h0M567.84,30.31h0M567.68,29.22h0M568.33,30.23h0M568.42,29.87h0M569.08,29.78h0M569.38,30.66h0M569.3,30.08h0M569.87,29.36h0M569.8,29.71h0M570.58,31.21h0M570.63,30.33h0M570.84,28.1h0M571.26,30.85h0M571.48,30.6h0" stroke="#9467bd" stroke-width="1.5" stroke-linecap="round" fill="none"/>
<path d="M579.28,51.74h0M578.5,74.41h0M578.43,57.69h0M578.07,49.72h0M577.95,61.72h0M577.08,59.93h0M579.14,54.23h0M577.53,45.37h0M578.99,64.68h0M578.03,52.6h0M577.28,57.35h0M578.99,61.54h0M579.48,63.16h0M578.19,69.41h0M579.62,68.34h0M578.92,65.17h0M579.68,46.86h0M576.82,45.28h0M578.63,76.58h0M578.29,77.41h0M578.45,72.78h0M577.88,68.73h0M578.62,51.13h0M579.68,67.91h0M578.52,78.89h0" stroke="#9467bd" stroke-width="1.6" stroke-linecap="round"/>
<polyline points="571.99,30.14 572.3,28.64 572.62,27.6 572.93,26.95 573.25,26.61 573.56,26.51 573.88,26.94 574.2,28.12 574.51,29.86 574.83,31.98 575.14,34.28 575.46,36.6 575.77,38.75 576.09,41.12 576.41,44.02 576.72,47.13 577.04,50.11 577.35,52.65 577.67,54.41 577.98,55.07 578.3,54.74 578.62,53.87 578.93,52.57 579.25,50.98 579.56,49.24 579.88,47.48 580.19,45.83 580.51,44.37 580.83,42.79 581.14,41.1 581.46,39.37 581.77,37.67 582.09,36.05 582.41,34.59 582.72,33.35 583.04,32.4 583.35,31.62 583.67,30.86 583.98,30.13 584.3,29.45 584.62,28.84 584.93,28.31 585.25,27.89 585.56,27.6 585.88,27.44 586.19,27.43 586.51,27.49 586.83,27.62 587.14,27.81 587.46,28.04 587.77,28.31 588.09,28.61 588.4,28.95 588.72,29.3 589.04,29.67 589.35,30.05 589.67,30.42 589.98,30.8 590.3,31.16 590.61,31.5 590.93,31.84 591.25,32.2 591.56,32.58 591.88,32.97 592.19,33.38 592.51,33.8 592.82,34.23 593.14,34.66 593.46,35.1 593.77,35.55 594.09,35.99 594.4,36.43 594.72,36.87 595.03,37.31 595.35,37.73 595.67,38.15 595.98,38.55 596.3,38.93 596.61,39.3 596.93,39.66 597.24,40 597.56,40.34 597.88,40.68 598.19,41.02 598.51,41.36 598.82,41.7 599.14,42.03 599.46,42.36 599.77,42.69 600.09,43.01 600.4,43.33 600.72,43.64 601.03,43.95 601.35,44.25 601.67,44.54 601.98,44.82 602.3,45.1 602.61,45.36 602.93,45.62 603.24,45.86 603.56,46.1 603.88,46.32 604.19,46.53 604.51,46.72 604.82,46.91 605.14,47.09 605.45,47.26 605.77,47.44 606.09,47.62 606.4,47.8 606.72,47.98 607.03,48.15 607.35,48.32 607.66,48.49 607.98,48.66 608.3,48.83 608.61,48.98 608.93,49.14 609.24,49.29 609.56,49.43 609.87,49.57 610.19,49.7 610.51,49.82 610.82,49.94 611.14,50.04 611.45,50.14 611.77,50.23 612.08,50.31 612.4,50.37 612.72,50.43 613.03,50.47 613.35,50.51 613.66,50.53 613.98,50.53 614.29,50.53 614.61,50.53 614.93,50.51 615.24,50.5 615.56,50.48 615.87,50.46 616.19,50.43 616.51,50.41 616.82,50.37 617.14,50.34 617.45,50.3 617.77,50.26 618.08,50.22 618.4,50.17 618.72,50.12 619.03,50.07 619.35,50.02 619.66,49.97 619.98,49.91 620.29,49.86 620.61,49.8 620.93,49.74 621.24,49.68 621.56,49.62 621.87,49.55 622.19,49.49 622.5,49.43 622.82,49.36 623.14,49.3 623.45,49.24 623.77,49.17 624.08,49.11 624.4,49.04 624.71,48.96 625.03,48.88 625.35,48.79 625.66,48.7 625.98,48.6 626.29,48.5 626.61,48.39 626.92,48.28 627.24,48.17 627.56,48.05 627.87,47.94 628.19,47.81 628.5,47.69 628.82,47.56 629.13,47.44 629.45,47.31 629.77,47.17 630.08,47.04 630.4,46.91 630.71,46.78 631.03,46.64 631.34,46.51 631.66,46.37 631.98,46.24 632.29,46.11 632.61,45.97 632.92,45.84 633.24,45.71 633.56,45.58 633.87,45.46 634.19,45.33 634.5,45.21 634.82,45.09 635.13,44.98 635.45,44.86 635.77,44.74 636.08,44.63 636.4,44.51 636.71,44.39 637.03,44.27 637.34,44.16 637.66,44.04 637.98,43.92 638.29,43.8 638.61,43.69 638.92,43.57 639.24,43.45 639.55,43.33 639.87,43.22 640.19,43.1 640.5,42.98 640.82,42.86 641.13,42.75 641.45,42.63 641.76,42.51 642.08,42.39 642.4,42.28 642.71,42.16 643.03,42.04 643.34,41.92 643.66,41.8 643.97,41.69 644.29,41.57 644.61,41.45 644.92,41.33 645.24,41.21 645.55,41.1 645.87,40.98 646.18,40.86 646.5,40.74 646.82,40.62 647.13,40.51 647.45,40.39 647.76,40.27 648.08,40.15 648.39,40.03 648.71,39.91 649.03,39.8 649.34,39.68 649.66,39.56 649.97,39.44 650.29,39.32 650.61,39.2" fill="none" stroke="#9467bd" stroke-width="2.0" stroke-linejoin="round"/>
<path d="M571.96,30.02h0M572.12,29.62h0M572.44,29.02h0M572.77,25.79h0M573.1,27.86h0M573.53,25.54h0M573.63,26.71h0M574.23,27.78h0M574.76,28.23h0M574.7,32.81h0M575.23,35.47h0M575.44,35.63h0M575.75,37.75h0M575.96,40.74h0M576.67,44.64h0M577.01,48.1h0M577.31,50.25h0M577.51,52.26h0M577.43,55.31h0M577.97,54.12h0M578.29,55.2h0M578.93,54.07h0M579.07,51.62h0M579.55,51.27h0M579.81,48.35h0M579.98,47.24h0M579.97,46.39h0M580.77,44.83h0M581.11,42.33h0M580.84,40.43h0M581.21,38.67h0M581.81,36.57h0M581.86,35.4h0M582.12,34.05h0M582.77,33.48h0M582.75,32.37h0M583.32,32.41h0M583.56,31.25h0M583.98,30.07h0M584.37,29.68h0M584.7,30.31h0M584.88,29.21h0M585.16,26.64h0M585.53,28.57h0M585.66,26.35h0M586.16,27.08h0M586.57,26.95h0M586.64,27.04h0M587.16,28.11h0M587.23,28.62h0M587.6,28.66h0M587.79,27.97h0M588.36,29.76h0M588.95,29.19h0M588.86,29.38h0M589.19,29.56h0M589.94,30.04h0M590.26,31.83h0M590.1,29.61h0M590.37,31.93h0M590.67,31.22h0M591.03,32.21h0M591.68,32.66h0M591.58,33.37h0M592.4,32.11h0M592.33,34.03h0M592.86,35.18h0M593.4,35.67h0M593.67,35.54h0M593.86,34.63h0M594.11,36.23h0M594.56,36.31h0M594.77,35.92h0M594.78,36.58h0M595.11,36.94h0M595.86,37.56h0M595.9,38.44h0M596.14,38.68h0M596.87,38.82h0M596.98,39.39h0M597.55,39.84h0M597.53,40.67h0M597.97,41.34h0M598.31,41.14h0M598.74,41.92h0M598.75,42.83h0M598.84,41.21h0M599.34,43.12h0M599.66,41.9h0M600.27,42.47h0M600.71,43.27h0M600.99,42.3h0M600.75,45.01h0M601.59,44.13h0M601.81,43.37h0M602.28,44.49h0M602.28,45.65h0M602.54,46.34h0M602.84,45.48h0M603.46,46.97h0M603.37,45.38h0M603.98,45.76h0M604.37,48.28h0M604.4,47.08h0M604.74,45.73h0M604.89,46.43h0M605.46,48.05h0M606,48.4h0M606.33,48.54h0M606.42,48.41h0M606.7,47.53h0M607.18,47.91h0M607.27,47.11h0M607.69,48.08h0M608.13,47.76h0M608.57,50.78h0M608.37,49.09h0M609.05,49.48h0M609.45,49.83h0M609.84,50.38h0M609.99,51.99h0M610.31,48.13h0M610.41,50.5h0M611.01,49.01h0M611.17,50.33h0M611.67,49.66h0M611.46,49.68h0M612.05,49.18h0M612.13,50.85h0M612.43,50.21h0M612.96,50.76h0M613.55,49.94h0M613.61,49.5h0M614.19,51.21h0M614.31,49.8h0M614.54,50.76h0M615.1,51.77h0M615.49,52.61h0M615.78,51.17h0M615.66,50.03h0M616.5,50.24h0M616.47,50.98h0M617.04,50.62h0M617.13,50.22h0M617.2,49.58h0M618,51.01h0M617.93,51.06h0M618.43,49.28h0M618.62,50.3h0M618.95,50.91h0M619.31,49.01h0M619.84,49.6h0M619.75,50.4h0M620.55,49.88h0M620.78,49.7h0M621.08,50.54h0M621.34,50.34h0M621.28,48.4h0M621.62,49.24h0M622.39,49.34h0M622.21,49.27h0M622.83,49.55h0M623.44,47.66h0M623.47,49.19h0M623.92,48.32h0M624.24,49.32h0M624.35,48.47h0M624.48,50.33h0M625.24,48.89h0M625.13,48.17h0M625.54,48.45h0M625.89,49.15h0M626.56,48.05h0M626.48,47.11h0M626.92,50.08h0M627.43,47.99h0M627.84,47.92h0M628.09,47.73h0M628.4,48.64h0M628.6,46.58h0M628.77,48.34h0M628.99,47.44h0M629.48,46.74h0M629.99,46.46h0M630.16,45.76h0M630.59,47.71h0M630.83,47.31h0M631.07,45.97h0M631.53,46.01h0M631.71,46.4h0M632.13,48.16h0M632.38,46.11h0M632.55,46.06h0M632.89,46.01h0M632.98,46.96h0M633.31,44.52h0M633.8,46.58h0M634.26,44.93h0M634.76,45.7h0M634.56,44.08h0M635.29,45.57h0M635.76,45.45h0M635.46,43.98h0M636.04,45.42h0M636.5,43.94h0M636.79,44.74h0M636.83,44.31h0M637.13,43.28h0M637.56,43.31h0M638.19,44.3h0M638.03,43.4h0M638.57,43.24h0M638.7,42.94h0M639.17,43.87h0M639.73,41.87h0M640.13,43.76h0M640.28,44.13h0M640.41,43.21h0M640.86,42.76h0M640.99,40.77h0M641.55,43.32h0M641.93,42.57h0M641.88,42.89h0M642.69,42.2h0M642.96,42.34h0M643.33,41.02h0M643.54,42.58h0M643.67,42.3h0M643.97,41.27h0M644.02,41.54h0M644.7,40.57h0M644.98,41.76h0M645.45,40.45h0M645.25,41.49h0M646.18,41.6h0M646.48,40.16h0M646.37,40.52h0M646.79,40.43h0M647.03,41.37h0M647.58,40.84h0M647.91,40.03h0M648.24,40.66h0M648.25,40.84h0M649.01,40.43h0M649.13,39.83h0M649.43,40.66h0M649.7,38.84h0M649.72,40.55h0M650.48,39.52h0M650.32,39.08h0" stroke="#9467bd" stroke-width="1.5" stroke-linecap="round" fill="none"/>
</g>
<defs><linearGradient id="ga" x1="0" y1="1" x2="0" y2="0"><stop offset="0" stop-color="#3b5a9a"/><stop offset="1" stop-color="#5b4a9a"/></linearGradient></defs>
<rect x="491.2" y="26" width="3.6" height="64.3" fill="url(#ga)" stroke="#222" stroke-width="0.5"/>
<polygon points="493,21.0 489.6,26.5 496.4,26.5" fill="#111"/>
<text x="499.5" y="27.3" font-size="10.5" text-anchor="start" fill="#9467bd" font-family="Liberation Sans" textLength="16.68" lengthAdjust="spacingAndGlyphs" >5 V</text>
<text x="499.5" y="92" font-size="10.5" text-anchor="start" fill="#1f77b4" font-family="Liberation Sans" textLength="16.68" lengthAdjust="spacingAndGlyphs" >1 V</text>
<line x1="405.9" y1="17.7" x2="650.3" y2="17.7" stroke="#222" stroke-width="0.8"/>
<line x1="405.9" y1="199.2" x2="650.3" y2="199.2" stroke="#222" stroke-width="0.8"/>
<line x1="405.9" y1="17.7" x2="405.9" y2="199.2" stroke="#222" stroke-width="0.8"/>
<line x1="650.3" y1="17.7" x2="650.3" y2="199.2" stroke="#a9b8dc" stroke-width="1.3"/>
<line x1="402.4" y1="199.2" x2="405.9" y2="199.2" stroke="#000" stroke-width="0.8"/>
<text x="401.9" y="203.2" font-size="10" text-anchor="end" fill="#000" font-family="Liberation Sans" textLength="20.47" lengthAdjust="spacingAndGlyphs" >&#8722;70</text>
<line x1="402.4" y1="153.88" x2="405.9" y2="153.88" stroke="#000" stroke-width="0.8"/>
<text x="401.9" y="157.88" font-size="10" text-anchor="end" fill="#000" font-family="Liberation Sans" textLength="20.47" lengthAdjust="spacingAndGlyphs" >&#8722;60</text>
<line x1="402.4" y1="108.55" x2="405.9" y2="108.55" stroke="#000" stroke-width="0.8"/>
<text x="401.9" y="112.55" font-size="10" text-anchor="end" fill="#000" font-family="Liberation Sans" textLength="20.47" lengthAdjust="spacingAndGlyphs" >&#8722;50</text>
<line x1="402.4" y1="63.22" x2="405.9" y2="63.22" stroke="#000" stroke-width="0.8"/>
<text x="401.9" y="67.22" font-size="10" text-anchor="end" fill="#000" font-family="Liberation Sans" textLength="20.47" lengthAdjust="spacingAndGlyphs" >&#8722;40</text>
<line x1="402.4" y1="17.9" x2="405.9" y2="17.9" stroke="#000" stroke-width="0.8"/>
<text x="401.9" y="21.9" font-size="10" text-anchor="end" fill="#000" font-family="Liberation Sans" textLength="20.47" lengthAdjust="spacingAndGlyphs" >&#8722;30</text>
<line x1="403.9" y1="190.13" x2="405.9" y2="190.13" stroke="#000" stroke-width="0.6"/>
<line x1="403.9" y1="181.07" x2="405.9" y2="181.07" stroke="#000" stroke-width="0.6"/>
<line x1="403.9" y1="172" x2="405.9" y2="172" stroke="#000" stroke-width="0.6"/>
<line x1="403.9" y1="162.94" x2="405.9" y2="162.94" stroke="#000" stroke-width="0.6"/>
<line x1="403.9" y1="144.81" x2="405.9" y2="144.81" stroke="#000" stroke-width="0.6"/>
<line x1="403.9" y1="135.75" x2="405.9" y2="135.75" stroke="#000" stroke-width="0.6"/>
<line x1="403.9" y1="126.68" x2="405.9" y2="126.68" stroke="#000" stroke-width="0.6"/>
<line x1="403.9" y1="117.61" x2="405.9" y2="117.61" stroke="#000" stroke-width="0.6"/>
<line x1="403.9" y1="99.48" x2="405.9" y2="99.48" stroke="#000" stroke-width="0.6"/>
<line x1="403.9" y1="90.42" x2="405.9" y2="90.42" stroke="#000" stroke-width="0.6"/>
<line x1="403.9" y1="81.35" x2="405.9" y2="81.35" stroke="#000" stroke-width="0.6"/>
<line x1="403.9" y1="72.29" x2="405.9" y2="72.29" stroke="#000" stroke-width="0.6"/>
<line x1="403.9" y1="54.16" x2="405.9" y2="54.16" stroke="#000" stroke-width="0.6"/>
<line x1="403.9" y1="45.09" x2="405.9" y2="45.09" stroke="#000" stroke-width="0.6"/>
<line x1="403.9" y1="36.03" x2="405.9" y2="36.03" stroke="#000" stroke-width="0.6"/>
<line x1="403.9" y1="26.96" x2="405.9" y2="26.96" stroke="#000" stroke-width="0.6"/>
<line x1="413.8" y1="199.2" x2="413.8" y2="202.7" stroke="#000" stroke-width="0.8"/>
<text x="413.8" y="211.5" font-size="10" text-anchor="middle" fill="#000" font-family="Liberation Sans" textLength="6.17" lengthAdjust="spacingAndGlyphs" >0</text>
<line x1="429.59" y1="199.2" x2="429.59" y2="201.2" stroke="#000" stroke-width="0.6"/>
<line x1="445.37" y1="199.2" x2="445.37" y2="201.2" stroke="#000" stroke-width="0.6"/>
<line x1="461.16" y1="199.2" x2="461.16" y2="201.2" stroke="#000" stroke-width="0.6"/>
<line x1="476.95" y1="199.2" x2="476.95" y2="201.2" stroke="#000" stroke-width="0.6"/>
<line x1="492.74" y1="199.2" x2="492.74" y2="202.7" stroke="#000" stroke-width="0.8"/>
<text x="492.74" y="211.5" font-size="10" text-anchor="middle" fill="#000" font-family="Liberation Sans" textLength="12.34" lengthAdjust="spacingAndGlyphs" >50</text>
<line x1="508.52" y1="199.2" x2="508.52" y2="201.2" stroke="#000" stroke-width="0.6"/>
<line x1="524.31" y1="199.2" x2="524.31" y2="201.2" stroke="#000" stroke-width="0.6"/>
<line x1="540.1" y1="199.2" x2="540.1" y2="201.2" stroke="#000" stroke-width="0.6"/>
<line x1="555.88" y1="199.2" x2="555.88" y2="201.2" stroke="#000" stroke-width="0.6"/>
<line x1="571.67" y1="199.2" x2="571.67" y2="202.7" stroke="#000" stroke-width="0.8"/>
<text x="571.67" y="211.5" font-size="10" text-anchor="middle" fill="#000" font-family="Liberation Sans" textLength="18.51" lengthAdjust="spacingAndGlyphs" >100</text>
<line x1="587.46" y1="199.2" x2="587.46" y2="201.2" stroke="#000" stroke-width="0.6"/>
<line x1="603.24" y1="199.2" x2="603.24" y2="201.2" stroke="#000" stroke-width="0.6"/>
<line x1="619.03" y1="199.2" x2="619.03" y2="201.2" stroke="#000" stroke-width="0.6"/>
<line x1="634.82" y1="199.2" x2="634.82" y2="201.2" stroke="#000" stroke-width="0.6"/>
<line x1="650.61" y1="199.2" x2="650.61" y2="202.7" stroke="#000" stroke-width="0.8"/>
<text x="650.61" y="211.5" font-size="10" text-anchor="middle" fill="#000" font-family="Liberation Sans" textLength="18.51" lengthAdjust="spacingAndGlyphs" >150</text>
<text x="528" y="224.5" font-size="10" text-anchor="middle" fill="#000" font-family="Liberation Sans" textLength="39.44" lengthAdjust="spacingAndGlyphs" >Time (s)</text>
<line x1="650.3" y1="184.4" x2="653.8" y2="184.4" stroke="#2a4a8a" stroke-width="0.8"/>
<text x="655.3" y="188.4" font-size="10" text-anchor="start" fill="#2a4d8f" font-family="Liberation Sans" textLength="15.43" lengthAdjust="spacingAndGlyphs" >0.0</text>
<line x1="650.3" y1="169.28" x2="652.3" y2="169.28" stroke="#222" stroke-width="0.6"/>
<line x1="650.3" y1="154.16" x2="652.3" y2="154.16" stroke="#222" stroke-width="0.6"/>
<line x1="650.3" y1="139.04" x2="652.3" y2="139.04" stroke="#222" stroke-width="0.6"/>
<line x1="650.3" y1="123.92" x2="652.3" y2="123.92" stroke="#222" stroke-width="0.6"/>
<line x1="650.3" y1="108.8" x2="653.8" y2="108.8" stroke="#2a4a8a" stroke-width="0.8"/>
<text x="655.3" y="112.8" font-size="10" text-anchor="start" fill="#2a4d8f" font-family="Liberation Sans" textLength="15.43" lengthAdjust="spacingAndGlyphs" >0.5</text>
<line x1="650.3" y1="93.68" x2="652.3" y2="93.68" stroke="#222" stroke-width="0.6"/>
<line x1="650.3" y1="78.56" x2="652.3" y2="78.56" stroke="#222" stroke-width="0.6"/>
<line x1="650.3" y1="63.44" x2="652.3" y2="63.44" stroke="#222" stroke-width="0.6"/>
<line x1="650.3" y1="48.32" x2="652.3" y2="48.32" stroke="#222" stroke-width="0.6"/>
<line x1="650.3" y1="33.2" x2="653.8" y2="33.2" stroke="#2a4a8a" stroke-width="0.8"/>
<text x="655.3" y="37.2" font-size="10" text-anchor="start" fill="#2a4d8f" font-family="Liberation Sans" textLength="15.43" lengthAdjust="spacingAndGlyphs" >1.0</text>
<line x1="650.3" y1="18.08" x2="652.3" y2="18.08" stroke="#222" stroke-width="0.6"/>
<text transform="translate(376,135) rotate(-90)" font-size="10.5" fill="#000" font-family="Liberation Sans" textLength="53" lengthAdjust="spacingAndGlyphs"><tspan font-style="italic">P</tspan><tspan font-size="7.8" dy="2.6">out</tspan><tspan dy="-2.6"> (dBm)</tspan></text>
<text transform="translate(681.6,130.1) rotate(-90)" font-size="10.5" fill="#2a4d8f" font-family="Liberation Sans" textLength="41.7" lengthAdjust="spacingAndGlyphs"><tspan font-style="italic">V</tspan><tspan font-size="7.8" dy="2.6">align</tspan><tspan dy="-2.6"> (V)</tspan></text>
<text x="354.2" y="9.6" font-size="11.2" text-anchor="start" fill="#000" font-family="Liberation Sans" textLength="7.78" lengthAdjust="spacingAndGlyphs" font-weight="bold">b</text>
<text x="-0.5" y="246.1" font-size="11.2" text-anchor="start" fill="#000" font-family="Liberation Sans" textLength="6.44" lengthAdjust="spacingAndGlyphs" font-weight="bold">c</text>
<rect x="32" y="239.4" width="108" height="115.3" rx="4" fill="none" stroke="#ff1010" stroke-width="1.4" stroke-dasharray="5,3.5"/>
<rect x="42.95" y="241.3" width="5.3" height="36.0" fill="#f1daf0" stroke="#000" stroke-width="1.8"/>
<rect x="42.95" y="317.4" width="5.3" height="35.7" fill="#f1daf0" stroke="#000" stroke-width="1.8"/>
<rect x="54.4" y="241.3" width="5.3" height="36.0" fill="#f1daf0" stroke="#000" stroke-width="1.8"/>
<rect x="54.4" y="317.4" width="5.3" height="35.7" fill="#f1daf0" stroke="#000" stroke-width="1.8"/>
<rect x="65.85" y="241.3" width="5.3" height="36.0" fill="#f1daf0" stroke="#000" stroke-width="1.8"/>
<rect x="65.85" y="317.4" width="5.3" height="35.7" fill="#f1daf0" stroke="#000" stroke-width="1.8"/>
<rect x="77.3" y="241.3" width="5.3" height="36.0" fill="#f1daf0" stroke="#000" stroke-width="1.8"/>
<rect x="77.3" y="317.4" width="5.3" height="35.7" fill="#f1daf0" stroke="#000" stroke-width="1.8"/>
<rect x="88.75" y="241.3" width="5.3" height="36.0" fill="#f1daf0" stroke="#000" stroke-width="1.8"/>
<rect x="88.75" y="317.4" width="5.3" height="35.7" fill="#f1daf0" stroke="#000" stroke-width="1.8"/>
<rect x="100.2" y="241.3" width="5.3" height="36.0" fill="#f1daf0" stroke="#000" stroke-width="1.8"/>
<rect x="100.2" y="317.4" width="5.3" height="35.7" fill="#f1daf0" stroke="#000" stroke-width="1.8"/>
<rect x="111.65" y="241.3" width="5.3" height="36.0" fill="#f1daf0" stroke="#000" stroke-width="1.8"/>
<rect x="111.65" y="317.4" width="5.3" height="35.7" fill="#f1daf0" stroke="#000" stroke-width="1.8"/>
<rect x="123.1" y="241.3" width="5.3" height="36.0" fill="#f1daf0" stroke="#000" stroke-width="1.8"/>
<rect x="123.1" y="317.4" width="5.3" height="35.7" fill="#f1daf0" stroke="#000" stroke-width="1.8"/>
<rect x="35.3" y="295.7" width="100.8" height="3.6" fill="#f3dcf0" stroke="#000" stroke-width="1.8"/>
<g transform="translate(45.4,286.4) rotate(-6)"><ellipse rx="9.4" ry="3.6" fill="#0b2a7c"/><path d="M4.0,0 H-0.5" stroke="#f5f000" stroke-width="2.0"/><path d="M-4.6,0 L-0.6,-3.1 L-0.6,3.1 Z" fill="#f5f000"/></g>
<g transform="translate(65.8,286.4) rotate(-6)"><ellipse rx="9.4" ry="3.6" fill="#0b2a7c"/><path d="M4.0,0 H-0.5" stroke="#f5f000" stroke-width="2.0"/><path d="M-4.6,0 L-0.6,-3.1 L-0.6,3.1 Z" fill="#f5f000"/></g>
<g transform="translate(85.7,286.4) rotate(-6)"><ellipse rx="9.4" ry="3.6" fill="#0b2a7c"/><path d="M4.0,0 H-0.5" stroke="#f5f000" stroke-width="2.0"/><path d="M-4.6,0 L-0.6,-3.1 L-0.6,3.1 Z" fill="#f5f000"/></g>
<g transform="translate(105.8,286.4) rotate(-6)"><ellipse rx="9.4" ry="3.6" fill="#0b2a7c"/><path d="M4.0,0 H-0.5" stroke="#f5f000" stroke-width="2.0"/><path d="M-4.6,0 L-0.6,-3.1 L-0.6,3.1 Z" fill="#f5f000"/></g>
<g transform="translate(125.6,286.4) rotate(-6)"><ellipse rx="9.4" ry="3.6" fill="#0b2a7c"/><path d="M4.0,0 H-0.5" stroke="#f5f000" stroke-width="2.0"/><path d="M-4.6,0 L-0.6,-3.1 L-0.6,3.1 Z" fill="#f5f000"/></g>
<g transform="translate(46.2,309.2) rotate(-6)"><ellipse rx="9.4" ry="3.6" fill="#0b2a7c"/><path d="M4.0,0 H-0.5" stroke="#f5f000" stroke-width="2.0"/><path d="M-4.6,0 L-0.6,-3.1 L-0.6,3.1 Z" fill="#f5f000"/></g>
<g transform="translate(66,309.2) rotate(-6)"><ellipse rx="9.4" ry="3.6" fill="#0b2a7c"/><path d="M4.0,0 H-0.5" stroke="#f5f000" stroke-width="2.0"/><path d="M-4.6,0 L-0.6,-3.1 L-0.6,3.1 Z" fill="#f5f000"/></g>
<g transform="translate(86,309.2) rotate(-6)"><ellipse rx="9.4" ry="3.6" fill="#0b2a7c"/><path d="M4.0,0 H-0.5" stroke="#f5f000" stroke-width="2.0"/><path d="M-4.6,0 L-0.6,-3.1 L-0.6,3.1 Z" fill="#f5f000"/></g>
<g transform="translate(105.8,309.2) rotate(-6)"><ellipse rx="9.4" ry="3.6" fill="#0b2a7c"/><path d="M4.0,0 H-0.5" stroke="#f5f000" stroke-width="2.0"/><path d="M-4.6,0 L-0.6,-3.1 L-0.6,3.1 Z" fill="#f5f000"/></g>
<g transform="translate(125.8,309.2) rotate(-6)"><ellipse rx="9.4" ry="3.6" fill="#0b2a7c"/><path d="M4.0,0 H-0.5" stroke="#f5f000" stroke-width="2.0"/><path d="M-4.6,0 L-0.6,-3.1 L-0.6,3.1 Z" fill="#f5f000"/></g>
<text transform="translate(16.8,323) rotate(-90)" font-size="10.5" text-anchor="start" font-family="Liberation Serif"><tspan font-weight="bold">E</tspan><tspan font-style="italic" font-size="9" dy="1.8">align</tspan><tspan dy="-1.8"> = 0</tspan></text>
<line x1="8.4" y1="323.2" x2="8.4" y2="299.5" stroke="#000" stroke-width="0.8"/><polygon points="8.4,297.3 7.1,300.6 9.7,300.6" fill="#000"/>
<rect x="213.4" y="237.6" width="107.1" height="115.6" rx="4" fill="none" stroke="#ff1010" stroke-width="1.4" stroke-dasharray="5,3.5"/>
<rect x="223.75" y="239.2" width="5.3" height="35.9" fill="#a6dcf2" stroke="#000" stroke-width="1.8"/>
<rect x="223.75" y="315.8" width="5.3" height="35.7" fill="#a6dcf2" stroke="#000" stroke-width="1.8"/>
<rect x="235.15" y="239.2" width="5.3" height="35.9" fill="#a6dcf2" stroke="#000" stroke-width="1.8"/>
<rect x="235.15" y="315.8" width="5.3" height="35.7" fill="#a6dcf2" stroke="#000" stroke-width="1.8"/>
<rect x="246.55" y="239.2" width="5.3" height="35.9" fill="#a6dcf2" stroke="#000" stroke-width="1.8"/>
<rect x="246.55" y="315.8" width="5.3" height="35.7" fill="#a6dcf2" stroke="#000" stroke-width="1.8"/>
<rect x="257.95" y="239.2" width="5.3" height="35.9" fill="#a6dcf2" stroke="#000" stroke-width="1.8"/>
<rect x="257.95" y="315.8" width="5.3" height="35.7" fill="#a6dcf2" stroke="#000" stroke-width="1.8"/>
<rect x="269.35" y="239.2" width="5.3" height="35.9" fill="#a6dcf2" stroke="#000" stroke-width="1.8"/>
<rect x="269.35" y="315.8" width="5.3" height="35.7" fill="#a6dcf2" stroke="#000" stroke-width="1.8"/>
<rect x="280.75" y="239.2" width="5.3" height="35.9" fill="#a6dcf2" stroke="#000" stroke-width="1.8"/>
<rect x="280.75" y="315.8" width="5.3" height="35.7" fill="#a6dcf2" stroke="#000" stroke-width="1.8"/>
<rect x="292.15" y="239.2" width="5.3" height="35.9" fill="#a6dcf2" stroke="#000" stroke-width="1.8"/>
<rect x="292.15" y="315.8" width="5.3" height="35.7" fill="#a6dcf2" stroke="#000" stroke-width="1.8"/>
<rect x="303.55" y="239.2" width="5.3" height="35.9" fill="#a6dcf2" stroke="#000" stroke-width="1.8"/>
<rect x="303.55" y="315.8" width="5.3" height="35.7" fill="#a6dcf2" stroke="#000" stroke-width="1.8"/>
<rect x="215.6" y="294.5" width="101.5" height="3.6" fill="#a6dcf2" stroke="#000" stroke-width="1.8"/>
<g transform="translate(226.4,285)"><ellipse rx="3.3" ry="8.2" fill="#0b2a7c"/><path d="M0,3.8 V-0.5" stroke="#f5f000" stroke-width="1.6"/><path d="M0,-4.6 L-2.7,-0.5 L2.7,-0.5 Z" fill="#f5f000"/></g>
<g transform="translate(226.4,306.3)"><ellipse rx="3.3" ry="8.2" fill="#0b2a7c"/><path d="M0,3.8 V-0.5" stroke="#f5f000" stroke-width="1.6"/><path d="M0,-4.6 L-2.7,-0.5 L2.7,-0.5 Z" fill="#f5f000"/></g>
<g transform="translate(237.8,285)"><ellipse rx="3.3" ry="8.2" fill="#0b2a7c"/><path d="M0,3.8 V-0.5" stroke="#f5f000" stroke-width="1.6"/><path d="M0,-4.6 L-2.7,-0.5 L2.7,-0.5 Z" fill="#f5f000"/></g>
<g transform="translate(237.8,306.3)"><ellipse rx="3.3" ry="8.2" fill="#0b2a7c"/><path d="M0,3.8 V-0.5" stroke="#f5f000" stroke-width="1.6"/><path d="M0,-4.6 L-2.7,-0.5 L2.7,-0.5 Z" fill="#f5f000"/></g>
<g transform="translate(249.2,285)"><ellipse rx="3.3" ry="8.2" fill="#0b2a7c"/><path d="M0,3.8 V-0.5" stroke="#f5f000" stroke-width="1.6"/><path d="M0,-4.6 L-2.7,-0.5 L2.7,-0.5 Z" fill="#f5f000"/></g>
<g transform="translate(249.2,306.3)"><ellipse rx="3.3" ry="8.2" fill="#0b2a7c"/><path d="M0,3.8 V-0.5" stroke="#f5f000" stroke-width="1.6"/><path d="M0,-4.6 L-2.7,-0.5 L2.7,-0.5 Z" fill="#f5f000"/></g>
<g transform="translate(260.6,285)"><ellipse rx="3.3" ry="8.2" fill="#0b2a7c"/><path d="M0,3.8 V-0.5" stroke="#f5f000" stroke-width="1.6"/><path d="M0,-4.6 L-2.7,-0.5 L2.7,-0.5 Z" fill="#f5f000"/></g>
<g transform="translate(260.6,306.3)"><ellipse rx="3.3" ry="8.2" fill="#0b2a7c"/><path d="M0,3.8 V-0.5" stroke="#f5f000" stroke-width="1.6"/><path d="M0,-4.6 L-2.7,-0.5 L2.7,-0.5 Z" fill="#f5f000"/></g>
<g transform="translate(272,285)"><ellipse rx="3.3" ry="8.2" fill="#0b2a7c"/><path d="M0,3.8 V-0.5" stroke="#f5f000" stroke-width="1.6"/><path d="M0,-4.6 L-2.7,-0.5 L2.7,-0.5 Z" fill="#f5f000"/></g>
<g transform="translate(272,306.3)"><ellipse rx="3.3" ry="8.2" fill="#0b2a7c"/><path d="M0,3.8 V-0.5" stroke="#f5f000" stroke-width="1.6"/><path d="M0,-4.6 L-2.7,-0.5 L2.7,-0.5 Z" fill="#f5f000"/></g>
<g transform="translate(283.4,285)"><ellipse rx="3.3" ry="8.2" fill="#0b2a7c"/><path d="M0,3.8 V-0.5" stroke="#f5f000" stroke-width="1.6"/><path d="M0,-4.6 L-2.7,-0.5 L2.7,-0.5 Z" fill="#f5f000"/></g>
<g transform="translate(283.4,306.3)"><ellipse rx="3.3" ry="8.2" fill="#0b2a7c"/><path d="M0,3.8 V-0.5" stroke="#f5f000" stroke-width="1.6"/><path d="M0,-4.6 L-2.7,-0.5 L2.7,-0.5 Z" fill="#f5f000"/></g>
<g transform="translate(294.8,285)"><ellipse rx="3.3" ry="8.2" fill="#0b2a7c"/><path d="M0,3.8 V-0.5" stroke="#f5f000" stroke-width="1.6"/><path d="M0,-4.6 L-2.7,-0.5 L2.7,-0.5 Z" fill="#f5f000"/></g>
<g transform="translate(294.8,306.3)"><ellipse rx="3.3" ry="8.2" fill="#0b2a7c"/><path d="M0,3.8 V-0.5" stroke="#f5f000" stroke-width="1.6"/><path d="M0,-4.6 L-2.7,-0.5 L2.7,-0.5 Z" fill="#f5f000"/></g>
<g transform="translate(306.2,285)"><ellipse rx="3.3" ry="8.2" fill="#0b2a7c"/><path d="M0,3.8 V-0.5" stroke="#f5f000" stroke-width="1.6"/><path d="M0,-4.6 L-2.7,-0.5 L2.7,-0.5 Z" fill="#f5f000"/></g>
<g transform="translate(306.2,306.3)"><ellipse rx="3.3" ry="8.2" fill="#0b2a7c"/><path d="M0,3.8 V-0.5" stroke="#f5f000" stroke-width="1.6"/><path d="M0,-4.6 L-2.7,-0.5 L2.7,-0.5 Z" fill="#f5f000"/></g>
<text transform="translate(198.6,318) rotate(-90)" font-size="10.5" text-anchor="start" font-family="Liberation Serif"><tspan font-weight="bold">E</tspan><tspan font-style="italic" font-size="9" dy="1.8">align</tspan><tspan dy="-1.8"> ≠ 0</tspan></text>
<line x1="189" y1="319.5" x2="189" y2="296" stroke="#000" stroke-width="0.8"/><polygon points="189,293.8 187.7,297.1 190.3,297.1" fill="#000"/>
<line x1="67.2" y1="239" x2="50.61" y2="221.07" stroke="#000" stroke-width="1.1"/>
<polygon points="46.2,216.3 53.23,219.33 48.68,223.54" fill="#000"/>
<line x1="229" y1="237.5" x2="215.22" y2="220.01" stroke="#000" stroke-width="1.1"/>
<polygon points="211.2,214.9 217.97,218.48 213.1,222.32" fill="#000"/>
<rect x="170.1" y="365.2" width="137.3" height="98.1" fill="#4d4d4f"/>
<polygon points="182.7,366.8 196.6,366.8 209.5,384.3 278.2,384.3 291.6,366.8 305.3,366.8 305.3,401.6 293.5,402.0 280,404.4 210,404.4 196.5,402.0 182.7,401.6" fill="#dcd978"/>
<rect x="182.7" y="405.9" width="122.6" height="16.7" fill="#dcd978"/>
<polygon points="182.7,461.6 196.6,461.6 209.5,444.1 278.2,444.1 291.6,461.6 305.3,461.6 305.3,426.8 293.5,426.4 280,424.0 210,424.0 196.5,426.4 182.7,426.8" fill="#dcd978"/>
<rect x="182.7" y="382.9" width="2.8" height="2.6" fill="#4d4d4f"/>
<rect x="302.5" y="382.9" width="2.8" height="2.6" fill="#4d4d4f"/>
<rect x="182.7" y="442.9" width="2.8" height="2.6" fill="#4d4d4f"/>
<rect x="302.5" y="442.9" width="2.8" height="2.6" fill="#4d4d4f"/>
<polyline points="193,385.2 196.5,385.2 210.5,394.7 278,394.7 292,385.2 295.5,385.2" fill="none" stroke="#1b335f" stroke-width="5" stroke-linejoin="miter"/>
<polyline points="193,385.2 196.5,385.2 210.5,394.7 278,394.7 292,385.2 295.5,385.2" fill="none" stroke="#6e6e70" stroke-width="2"/>
<polyline points="193,443.2 196.5,443.2 210.5,433.7 278,433.7 292,443.2 295.5,443.2" fill="none" stroke="#1b335f" stroke-width="5" stroke-linejoin="miter"/>
<polyline points="193,443.2 196.5,443.2 210.5,433.7 278,433.7 292,443.2 295.5,443.2" fill="none" stroke="#6e6e70" stroke-width="2"/>
<text x="298.8" y="398.3" font-size="10.5" text-anchor="middle" fill="#111" font-family="Liberation Sans" textLength="8.36" lengthAdjust="spacingAndGlyphs" font-weight="bold">G</text>
<text x="298.8" y="417.6" font-size="10.5" text-anchor="middle" fill="#111" font-family="Liberation Sans" textLength="7.34" lengthAdjust="spacingAndGlyphs" font-weight="bold">S</text>
<text x="298.8" y="437.8" font-size="10.5" text-anchor="middle" fill="#111" font-family="Liberation Sans" textLength="8.36" lengthAdjust="spacingAndGlyphs" font-weight="bold">G</text>
<rect x="232" y="399.4" width="19.1" height="13.2" rx="2.5" fill="none" stroke="#ff1010" stroke-width="1.4" stroke-dasharray="5,3.5"/>
<line x1="34" y1="354.5" x2="232" y2="401.3" stroke="#ff1010" stroke-width="1.4" stroke-dasharray="5,3.5"/>
<line x1="139" y1="354.5" x2="251" y2="401.3" stroke="#ff1010" stroke-width="1.4" stroke-dasharray="5,3.5"/>
<rect x="171.2" y="397.6" width="15.0" height="36.2" rx="3" fill="none" stroke="#f08a3a" stroke-width="1.7" stroke-dasharray="4.5,2.8"/>
<rect x="95.6" y="380.4" width="35.2" height="80.2" fill="#505052"/>
<defs><linearGradient id="gs" x1="0" y1="0" x2="1" y2="0"><stop offset="0" stop-color="#f4f4f4"/><stop offset="0.6" stop-color="#e0e0e0"/><stop offset="1" stop-color="#a8a8a8"/></linearGradient></defs>
<rect x="122.8" y="381.4" width="6.6" height="18.2" fill="url(#gs)"/>
<rect x="122.8" y="408.6" width="6.6" height="36.1" fill="url(#gs)"/>
<rect x="122.8" y="453.7" width="6.6" height="6.8" fill="url(#gs)"/>
<path d="M96.5,425.7 H117 M109.3,425.7 V410 Q109.3,406.8 112.4,406.8 Q115.6,406.8 115.6,410 V419 M117,425.7 V447.4 H123" fill="none" stroke="#8c8c8c" stroke-width="2.0"/>
<path d="M96.5,425.7 H117 M109.3,425.7 V410 Q109.3,406.8 112.4,406.8 Q115.6,406.8 115.6,410 V419 M117,425.7 V447.4 H123" fill="none" stroke="#333" stroke-width="0.9"/>
<rect x="121" y="399.6" width="3" height="9" fill="#3a3a3a"/><rect x="121" y="444.7" width="3" height="9" fill="#3a3a3a"/>
<rect x="95.6" y="380.4" width="35.2" height="80.2" fill="none" stroke="#f08a3a" stroke-width="1.6" stroke-dasharray="4.5,2.8"/>
<line x1="104.8" y1="410" x2="104.8" y2="420" stroke="#ff1010" stroke-width="1.6"/><polygon points="104.8,406.6 101.6,413 108,413" fill="#ff1010"/><polygon points="104.8,423.2 101.6,416.8 108,416.8" fill="#ff1010"/>
<line x1="130.8" y1="381" x2="171" y2="397.9" stroke="#f08a3a" stroke-width="1.4" stroke-dasharray="4.5,2.8"/>
<line x1="130.8" y1="460.3" x2="171" y2="432.8" stroke="#f08a3a" stroke-width="1.4" stroke-dasharray="4.5,2.8"/>
<text x="15.5" y="417.4" font-size="11.5" font-family="Liberation Serif" textLength="72.5" lengthAdjust="spacing"><tspan font-style="italic">ΔL</tspan> ≈ 2 × 50 <tspan font-style="italic">μm</tspan></text>
<clipPath id="cd"><rect x="406.1" y="253.7" width="242.3" height="180.7"/></clipPath>
<line x1="406.1" y1="259.35" x2="648.4" y2="259.35" stroke="#e2e2e2" stroke-width="0.7"/>
<line x1="406.1" y1="264.99" x2="648.4" y2="264.99" stroke="#e2e2e2" stroke-width="0.7"/>
<line x1="406.1" y1="270.64" x2="648.4" y2="270.64" stroke="#e2e2e2" stroke-width="0.7"/>
<line x1="406.1" y1="276.29" x2="648.4" y2="276.29" stroke="#e2e2e2" stroke-width="0.7"/>
<line x1="406.1" y1="281.94" x2="648.4" y2="281.94" stroke="#c8c8c8" stroke-width="0.7"/>
<line x1="406.1" y1="287.58" x2="648.4" y2="287.58" stroke="#e2e2e2" stroke-width="0.7"/>
<line x1="406.1" y1="293.23" x2="648.4" y2="293.23" stroke="#e2e2e2" stroke-width="0.7"/>
<line x1="406.1" y1="298.88" x2="648.4" y2="298.88" stroke="#e2e2e2" stroke-width="0.7"/>
<line x1="406.1" y1="304.52" x2="648.4" y2="304.52" stroke="#e2e2e2" stroke-width="0.7"/>
<line x1="406.1" y1="310.17" x2="648.4" y2="310.17" stroke="#c8c8c8" stroke-width="0.7"/>
<line x1="406.1" y1="315.82" x2="648.4" y2="315.82" stroke="#e2e2e2" stroke-width="0.7"/>
<line x1="406.1" y1="321.46" x2="648.4" y2="321.46" stroke="#e2e2e2" stroke-width="0.7"/>
<line x1="406.1" y1="327.11" x2="648.4" y2="327.11" stroke="#e2e2e2" stroke-width="0.7"/>
<line x1="406.1" y1="332.76" x2="648.4" y2="332.76" stroke="#e2e2e2" stroke-width="0.7"/>
<line x1="406.1" y1="338.4" x2="648.4" y2="338.4" stroke="#c8c8c8" stroke-width="0.7"/>
<line x1="406.1" y1="344.05" x2="648.4" y2="344.05" stroke="#e2e2e2" stroke-width="0.7"/>
<line x1="406.1" y1="349.7" x2="648.4" y2="349.7" stroke="#e2e2e2" stroke-width="0.7"/>
<line x1="406.1" y1="355.35" x2="648.4" y2="355.35" stroke="#e2e2e2" stroke-width="0.7"/>
<line x1="406.1" y1="360.99" x2="648.4" y2="360.99" stroke="#e2e2e2" stroke-width="0.7"/>
<line x1="406.1" y1="366.64" x2="648.4" y2="366.64" stroke="#c8c8c8" stroke-width="0.7"/>
<line x1="406.1" y1="372.29" x2="648.4" y2="372.29" stroke="#e2e2e2" stroke-width="0.7"/>
<line x1="406.1" y1="377.93" x2="648.4" y2="377.93" stroke="#e2e2e2" stroke-width="0.7"/>
<line x1="406.1" y1="383.58" x2="648.4" y2="383.58" stroke="#e2e2e2" stroke-width="0.7"/>
<line x1="406.1" y1="389.23" x2="648.4" y2="389.23" stroke="#e2e2e2" stroke-width="0.7"/>
<line x1="406.1" y1="394.88" x2="648.4" y2="394.88" stroke="#c8c8c8" stroke-width="0.7"/>
<line x1="406.1" y1="400.52" x2="648.4" y2="400.52" stroke="#e2e2e2" stroke-width="0.7"/>
<line x1="406.1" y1="406.17" x2="648.4" y2="406.17" stroke="#e2e2e2" stroke-width="0.7"/>
<line x1="406.1" y1="411.82" x2="648.4" y2="411.82" stroke="#e2e2e2" stroke-width="0.7"/>
<line x1="406.1" y1="417.46" x2="648.4" y2="417.46" stroke="#e2e2e2" stroke-width="0.7"/>
<line x1="406.1" y1="423.11" x2="648.4" y2="423.11" stroke="#c8c8c8" stroke-width="0.7"/>
<line x1="406.1" y1="428.76" x2="648.4" y2="428.76" stroke="#e2e2e2" stroke-width="0.7"/>
<line x1="418.22" y1="253.7" x2="418.22" y2="434.4" stroke="#e2e2e2" stroke-width="0.7"/>
<line x1="430.33" y1="253.7" x2="430.33" y2="434.4" stroke="#c8c8c8" stroke-width="0.7"/>
<line x1="442.45" y1="253.7" x2="442.45" y2="434.4" stroke="#e2e2e2" stroke-width="0.7"/>
<line x1="454.56" y1="253.7" x2="454.56" y2="434.4" stroke="#c8c8c8" stroke-width="0.7"/>
<line x1="466.68" y1="253.7" x2="466.68" y2="434.4" stroke="#e2e2e2" stroke-width="0.7"/>
<line x1="478.79" y1="253.7" x2="478.79" y2="434.4" stroke="#c8c8c8" stroke-width="0.7"/>
<line x1="490.91" y1="253.7" x2="490.91" y2="434.4" stroke="#e2e2e2" stroke-width="0.7"/>
<line x1="503.02" y1="253.7" x2="503.02" y2="434.4" stroke="#c8c8c8" stroke-width="0.7"/>
<line x1="515.13" y1="253.7" x2="515.13" y2="434.4" stroke="#e2e2e2" stroke-width="0.7"/>
<line x1="527.25" y1="253.7" x2="527.25" y2="434.4" stroke="#c8c8c8" stroke-width="0.7"/>
<line x1="539.37" y1="253.7" x2="539.37" y2="434.4" stroke="#e2e2e2" stroke-width="0.7"/>
<line x1="551.48" y1="253.7" x2="551.48" y2="434.4" stroke="#c8c8c8" stroke-width="0.7"/>
<line x1="563.6" y1="253.7" x2="563.6" y2="434.4" stroke="#e2e2e2" stroke-width="0.7"/>
<line x1="575.71" y1="253.7" x2="575.71" y2="434.4" stroke="#c8c8c8" stroke-width="0.7"/>
<line x1="587.83" y1="253.7" x2="587.83" y2="434.4" stroke="#e2e2e2" stroke-width="0.7"/>
<line x1="599.94" y1="253.7" x2="599.94" y2="434.4" stroke="#c8c8c8" stroke-width="0.7"/>
<line x1="612.06" y1="253.7" x2="612.06" y2="434.4" stroke="#e2e2e2" stroke-width="0.7"/>
<line x1="624.17" y1="253.7" x2="624.17" y2="434.4" stroke="#c8c8c8" stroke-width="0.7"/>
<line x1="636.29" y1="253.7" x2="636.29" y2="434.4" stroke="#e2e2e2" stroke-width="0.7"/>
<g clip-path="url(#cd)">
<polyline points="406.1,302.9 406.58,302.02 407.07,301.16 407.55,300.32 408.04,299.49 408.52,298.69 409.01,297.9 409.49,297.13 409.98,296.37 410.46,295.63 410.95,294.91 411.43,294.2 411.92,293.51 412.4,292.83 412.88,292.16 413.37,291.51 413.85,290.87 414.34,290.25 414.82,289.63 415.31,289.03 415.79,288.44 416.28,287.86 416.76,287.29 417.25,286.74 417.73,286.19 418.21,285.66 418.7,285.13 419.18,284.62 419.67,284.11 420.15,283.62 420.64,283.13 421.12,282.65 421.61,282.19 422.09,281.73 422.58,281.28 423.06,280.84 423.55,280.4 424.03,279.98 424.51,279.56 425,279.15 425.48,278.75 425.97,278.36 426.45,277.98 426.94,277.6 427.42,277.23 427.91,276.86 428.39,276.51 428.88,276.16 429.36,275.82 429.85,275.48 430.33,275.16 430.81,274.83 431.3,274.52 431.78,274.21 432.27,273.91 432.75,273.61 433.24,273.32 433.72,273.04 434.21,272.76 434.69,272.49 435.18,272.23 435.66,271.97 436.15,271.71 436.63,271.47 437.11,271.22 437.6,270.99 438.08,270.76 438.57,270.53 439.05,270.31 439.54,270.1 440.02,269.89 440.51,269.69 440.99,269.49 441.48,269.3 441.96,269.11 442.44,268.93 442.93,268.75 443.41,268.58 443.9,268.41 444.38,268.25 444.87,268.09 445.35,267.94 445.84,267.79 446.32,267.65 446.81,267.51 447.29,267.38 447.78,267.25 448.26,267.13 448.74,267.01 449.23,266.9 449.71,266.79 450.2,266.69 450.68,266.59 451.17,266.49 451.65,266.4 452.14,266.32 452.62,266.24 453.11,266.16 453.59,266.09 454.08,266.02 454.56,265.96 455.04,265.9 455.53,265.85 456.01,265.8 456.5,265.75 456.98,265.71 457.47,265.68 457.95,265.65 458.44,265.62 458.92,265.6 459.41,265.58 459.89,265.57 460.38,265.56 460.86,265.55 461.34,265.55 461.83,265.56 462.31,265.57 462.8,265.58 463.28,265.6 463.77,265.62 464.25,265.65 464.74,265.68 465.22,265.71 465.71,265.76 466.19,265.8 466.67,265.85 467.16,265.9 467.64,265.96 468.13,266.02 468.61,266.09 469.1,266.16 469.58,266.24 470.07,266.32 470.55,266.4 471.04,266.49 471.52,266.59 472.01,266.69 472.49,266.79 472.97,266.9 473.46,267.01 473.94,267.13 474.43,267.25 474.91,267.38 475.4,267.51 475.88,267.64 476.37,267.79 476.85,267.93 477.34,268.08 477.82,268.24 478.31,268.4 478.79,268.56 479.27,268.74 479.76,268.91 480.24,269.09 480.73,269.28 481.21,269.47 481.7,269.66 482.18,269.86 482.67,270.07 483.15,270.28 483.64,270.5 484.12,270.72 484.61,270.95 485.09,271.18 485.57,271.42 486.06,271.66 486.54,271.91 487.03,272.17 487.51,272.43 488,272.7 488.48,272.97 488.97,273.25 489.45,273.53 489.94,273.82 490.42,274.12 490.9,274.42 491.39,274.73 491.87,275.05 492.36,275.37 492.84,275.7 493.33,276.03 493.81,276.37 494.3,276.72 494.78,277.08 495.27,277.44 495.75,277.81 496.24,278.18 496.72,278.57 497.2,278.96 497.69,279.36 498.17,279.76 498.66,280.18 499.14,280.6 499.63,281.03 500.11,281.47 500.6,281.91 501.08,282.37 501.57,282.83 502.05,283.3 502.54,283.78 503.02,284.27 503.5,284.77 503.99,285.28 504.47,285.8 504.96,286.32 505.44,286.86 505.93,287.41 506.41,287.97 506.9,288.54 507.38,289.12 507.87,289.71 508.35,290.31 508.84,290.93 509.32,291.55 509.8,292.19 510.29,292.84 510.77,293.51 511.26,294.19 511.74,294.88 512.23,295.58 512.71,296.3 513.2,297.04 513.68,297.79 514.17,298.56 514.65,299.34 515.13,300.14 515.62,300.95 516.1,301.79 516.59,302.64 517.07,303.51 517.56,304.41 518.04,305.32 518.53,306.25 519.01,307.21 519.5,308.19 519.98,309.19 520.47,310.22 520.95,311.28 521.43,312.36 521.92,313.47 522.4,314.6 522.89,315.77 523.37,316.97 523.86,318.21 524.34,319.48 524.83,320.79 525.31,322.13 525.8,323.52 526.28,324.95 526.77,326.43 527.25,327.96 527.73,329.53 528.22,331.16 528.7,332.85 529.19,334.61 529.67,336.42 530.16,338.31 530.64,340.28 531.13,342.32 531.61,344.46 532.1,346.68 532.58,349.01 533.07,351.45 533.55,354.02 534.03,356.71 534.52,359.54 535,362.53 535.49,365.69 535.97,369.03 536.46,372.58 536.94,376.33 537.43,380.31 537.91,384.52 538.4,388.95 538.88,393.57 539.36,398.3 539.85,402.98 540.33,407.37 540.82,411.05 541.3,413.55 541.79,414.42 542.27,413.5 542.76,410.97 543.24,407.26 543.73,402.88 544.21,398.2 544.7,393.49 545.18,388.89 545.66,384.48 546.15,380.29 546.63,376.33 547.12,372.6 547.6,369.08 548.09,365.76 548.57,362.62 549.06,359.65 549.54,356.83 550.03,354.16 550.51,351.61 551,349.19 551.48,346.88 551.96,344.67 552.45,342.55 552.93,340.52 553.42,338.57 553.9,336.7 554.39,334.9 554.87,333.16 555.36,331.49 555.84,329.87 556.33,328.31 556.81,326.8 557.3,325.34 557.78,323.92 558.26,322.55 558.75,321.22 559.23,319.93 559.72,318.67 560.2,317.45 560.69,316.26 561.17,315.11 561.66,313.98 562.14,312.89 562.63,311.82 563.11,310.78 563.59,309.77 564.08,308.78 564.56,307.82 565.05,306.87 565.53,305.95 566.02,305.06 566.5,304.18 566.99,303.32 567.47,302.48 567.96,301.66 568.44,300.86 568.93,300.07 569.41,299.3 569.89,298.55 570.38,297.82 570.86,297.09 571.35,296.39 571.83,295.7 572.32,295.02 572.8,294.35 573.29,293.7 573.77,293.07 574.26,292.44 574.74,291.83 575.23,291.23 575.71,290.64 576.19,290.06 576.68,289.5 577.16,288.94 577.65,288.4 578.13,287.86 578.62,287.34 579.1,286.82 579.59,286.32 580.07,285.83 580.56,285.34 581.04,284.87 581.53,284.4 582.01,283.94 582.49,283.49 582.98,283.05 583.46,282.62 583.95,282.2 584.43,281.78 584.92,281.37 585.4,280.97 585.89,280.58 586.37,280.2 586.86,279.82 587.34,279.45 587.82,279.09 588.31,278.73 588.79,278.38 589.28,278.04 589.76,277.71 590.25,277.38 590.73,277.06 591.22,276.74 591.7,276.44 592.19,276.13 592.67,275.84 593.16,275.55 593.64,275.27 594.12,274.99 594.61,274.72 595.09,274.45 595.58,274.2 596.06,273.94 596.55,273.7 597.03,273.45 597.52,273.22 598,272.99 598.49,272.76 598.97,272.54 599.46,272.33 599.94,272.12 600.42,271.92 600.91,271.72 601.39,271.53 601.88,271.34 602.36,271.16 602.85,270.98 603.33,270.81 603.82,270.64 604.3,270.48 604.79,270.32 605.27,270.17 605.76,270.03 606.24,269.88 606.72,269.75 607.21,269.61 607.69,269.49 608.18,269.36 608.66,269.25 609.15,269.13 609.63,269.02 610.12,268.92 610.6,268.82 611.09,268.73 611.57,268.64 612.05,268.55 612.54,268.47 613.02,268.39 613.51,268.32 613.99,268.26 614.48,268.19 614.96,268.14 615.45,268.08 615.93,268.03 616.42,267.99 616.9,267.95 617.39,267.91 617.87,267.88 618.35,267.86 618.84,267.83 619.32,267.82 619.81,267.8 620.29,267.79 620.78,267.79 621.26,267.79 621.75,267.79 622.23,267.8 622.72,267.82 623.2,267.84 623.69,267.86 624.17,267.88 624.65,267.92 625.14,267.95 625.62,267.99 626.11,268.04 626.59,268.08 627.08,268.14 627.56,268.2 628.05,268.26 628.53,268.33 629.02,268.4 629.5,268.47 629.99,268.55 630.47,268.64 630.95,268.73 631.44,268.82 631.92,268.92 632.41,269.02 632.89,269.13 633.38,269.25 633.86,269.36 634.35,269.48 634.83,269.61 635.32,269.74 635.8,269.88 636.28,270.02 636.77,270.17 637.25,270.32 637.74,270.47 638.22,270.63 638.71,270.8 639.19,270.97 639.68,271.14 640.16,271.32 640.65,271.51 641.13,271.7 641.62,271.89 642.1,272.1 642.58,272.3 643.07,272.51 643.55,272.73 644.04,272.95 644.52,273.18 645.01,273.41 645.49,273.65 645.98,273.89 646.46,274.14 646.95,274.4 647.43,274.66 647.92,274.92 648.4,275.2" fill="none" stroke="#ff7f0e" stroke-width="1.4"/>
<polyline points="406.1,281.78 406.58,282.16 407.07,282.54 407.55,282.93 408.04,283.33 408.52,283.74 409.01,284.15 409.49,284.57 409.98,285 410.46,285.44 410.95,285.89 411.43,286.34 411.92,286.8 412.4,287.28 412.88,287.76 413.37,288.25 413.85,288.74 414.34,289.25 414.82,289.77 415.31,290.3 415.79,290.84 416.28,291.38 416.76,291.94 417.25,292.51 417.73,293.09 418.21,293.68 418.7,294.29 419.18,294.9 419.67,295.53 420.15,296.16 420.64,296.82 421.12,297.48 421.61,298.16 422.09,298.85 422.58,299.56 423.06,300.28 423.55,301.01 424.03,301.76 424.51,302.53 425,303.31 425.48,304.11 425.97,304.93 426.45,305.76 426.94,306.61 427.42,307.49 427.91,308.38 428.39,309.29 428.88,310.23 429.36,311.18 429.85,312.16 430.33,313.17 430.81,314.19 431.3,315.25 431.78,316.33 432.27,317.44 432.75,318.57 433.24,319.74 433.72,320.94 434.21,322.18 434.69,323.45 435.18,324.76 435.66,326.1 436.15,327.49 436.63,328.92 437.11,330.4 437.6,331.92 438.08,333.5 438.57,335.13 439.05,336.82 439.54,338.57 440.02,340.39 440.51,342.27 440.99,344.24 441.48,346.28 441.96,348.41 442.44,350.64 442.93,352.97 443.41,355.4 443.9,357.96 444.38,360.65 444.87,363.48 445.35,366.47 445.84,369.62 446.32,372.95 446.81,376.49 447.29,380.23 447.78,384.2 448.26,388.39 448.74,392.8 449.23,397.39 449.71,402.09 450.2,406.73 450.68,411.07 451.17,414.71 451.65,417.18 452.14,418.04 452.62,417.13 453.11,414.63 453.59,410.97 454.08,406.63 454.56,401.99 455.04,397.31 455.53,392.74 456.01,388.35 456.5,384.18 456.98,380.23 457.47,376.51 457.95,373 458.44,369.68 458.92,366.55 459.41,363.58 459.89,360.77 460.38,358.1 460.86,355.56 461.34,353.14 461.83,350.83 462.31,348.62 462.8,346.51 463.28,344.48 463.77,342.53 464.25,340.66 464.74,338.86 465.22,337.13 465.71,335.45 466.19,333.84 466.67,332.28 467.16,330.77 467.64,329.3 468.13,327.89 468.61,326.52 469.1,325.19 469.58,323.89 470.07,322.64 470.55,321.42 471.04,320.23 471.52,319.08 472.01,317.95 472.49,316.86 472.97,315.79 473.46,314.76 473.94,313.74 474.43,312.75 474.91,311.79 475.4,310.85 475.88,309.93 476.37,309.03 476.85,308.15 477.34,307.29 477.82,306.45 478.31,305.63 478.79,304.83 479.27,304.04 479.76,303.28 480.24,302.52 480.73,301.79 481.21,301.07 481.7,300.36 482.18,299.67 482.67,298.99 483.15,298.33 483.64,297.68 484.12,297.04 484.61,296.42 485.09,295.8 485.57,295.2 486.06,294.61 486.54,294.04 487.03,293.47 487.51,292.91 488,292.37 488.48,291.84 488.97,291.31 489.45,290.8 489.94,290.3 490.42,289.8 490.9,289.32 491.39,288.84 491.87,288.37 492.36,287.92 492.84,287.47 493.33,287.03 493.81,286.59 494.3,286.17 494.78,285.75 495.27,285.35 495.75,284.95 496.24,284.56 496.72,284.17 497.2,283.79 497.69,283.42 498.17,283.06 498.66,282.71 499.14,282.36 499.63,282.02 500.11,281.68 500.6,281.35 501.08,281.03 501.57,280.72 502.05,280.41 502.54,280.11 503.02,279.81 503.5,279.53 503.99,279.24 504.47,278.97 504.96,278.69 505.44,278.43 505.93,278.17 506.41,277.92 506.9,277.67 507.38,277.43 507.87,277.19 508.35,276.96 508.84,276.74 509.32,276.52 509.8,276.3 510.29,276.1 510.77,275.89 511.26,275.7 511.74,275.5 512.23,275.32 512.71,275.13 513.2,274.96 513.68,274.78 514.17,274.62 514.65,274.46 515.13,274.3 515.62,274.15 516.1,274 516.59,273.86 517.07,273.72 517.56,273.59 518.04,273.46 518.53,273.34 519.01,273.22 519.5,273.11 519.98,273 520.47,272.9 520.95,272.8 521.43,272.7 521.92,272.61 522.4,272.53 522.89,272.45 523.37,272.37 523.86,272.3 524.34,272.23 524.83,272.17 525.31,272.11 525.8,272.06 526.28,272.01 526.77,271.96 527.25,271.92 527.73,271.89 528.22,271.86 528.7,271.83 529.19,271.81 529.67,271.79 530.16,271.78 530.64,271.77 531.13,271.77 531.61,271.77 532.1,271.77 532.58,271.78 533.07,271.79 533.55,271.81 534.03,271.83 534.52,271.86 535,271.89 535.49,271.93 535.97,271.97 536.46,272.01 536.94,272.06 537.43,272.11 537.91,272.17 538.4,272.23 538.88,272.3 539.36,272.37 539.85,272.45 540.33,272.53 540.82,272.61 541.3,272.7 541.79,272.8 542.27,272.9 542.76,273 543.24,273.11 543.73,273.22 544.21,273.34 544.7,273.46 545.18,273.59 545.66,273.72 546.15,273.85 546.63,274 547.12,274.14 547.6,274.29 548.09,274.45 548.57,274.61 549.06,274.77 549.54,274.94 550.03,275.12 550.51,275.3 551,275.48 551.48,275.67 551.96,275.87 552.45,276.07 552.93,276.28 553.42,276.49 553.9,276.7 554.39,276.93 554.87,277.15 555.36,277.39 555.84,277.62 556.33,277.87 556.81,278.12 557.3,278.37 557.78,278.63 558.26,278.9 558.75,279.17 559.23,279.45 559.72,279.73 560.2,280.02 560.69,280.32 561.17,280.62 561.66,280.93 562.14,281.25 562.63,281.57 563.11,281.89 563.59,282.23 564.08,282.57 564.56,282.92 565.05,283.27 565.53,283.63 566.02,284 566.5,284.38 566.99,284.76 567.47,285.15 567.96,285.55 568.44,285.95 568.93,286.37 569.41,286.79 569.89,287.22 570.38,287.65 570.86,288.1 571.35,288.55 571.83,289.01 572.32,289.48 572.8,289.96 573.29,290.45 573.77,290.95 574.26,291.45 574.74,291.97 575.23,292.5 575.71,293.03 576.19,293.58 576.68,294.14 577.16,294.7 577.65,295.28 578.13,295.87 578.62,296.47 579.1,297.08 579.59,297.71 580.07,298.35 580.56,299 581.04,299.66 581.53,300.33 582.01,301.02 582.49,301.72 582.98,302.44 583.46,303.17 583.95,303.92 584.43,304.68 584.92,305.46 585.4,306.26 585.89,307.07 586.37,307.9 586.86,308.75 587.34,309.62 587.82,310.5 588.31,311.41 588.79,312.34 589.28,313.29 589.76,314.26 590.25,315.26 590.73,316.28 591.22,317.32 591.7,318.4 592.19,319.5 592.67,320.62 593.16,321.78 593.64,322.97 594.12,324.19 594.61,325.45 595.09,326.74 595.58,328.07 596.06,329.44 596.55,330.86 597.03,332.31 597.52,333.81 598,335.36 598.49,336.97 598.97,338.63 599.46,340.34 599.94,342.12 600.42,343.97 600.91,345.88 601.39,347.87 601.88,349.94 602.36,352.1 602.85,354.35 603.33,356.69 603.82,359.15 604.3,361.71 604.79,364.4 605.27,367.21 605.76,370.16 606.24,373.25 606.72,376.49 607.21,379.88 607.69,383.41 608.18,387.07 608.66,390.83 609.15,394.62 609.63,398.37 610.12,401.93 610.6,405.1 611.09,407.63 611.57,409.28 612.05,409.84 612.54,409.23 613.02,407.54 613.51,404.98 613.99,401.8 614.48,398.24 614.96,394.5 615.45,390.72 615.93,386.98 616.42,383.34 616.9,379.83 617.39,376.46 617.87,373.25 618.35,370.17 618.84,367.25 619.32,364.45 619.81,361.79 620.29,359.24 620.78,356.81 621.26,354.48 621.75,352.25 622.23,350.12 622.72,348.06 623.2,346.09 623.69,344.19 624.17,342.37 624.65,340.6 625.14,338.9 625.62,337.26 626.11,335.68 626.59,334.14 627.08,332.65 627.56,331.22 628.05,329.82 628.53,328.47 629.02,327.15 629.5,325.87 629.99,324.63 630.47,323.43 630.95,322.25 631.44,321.11 631.92,320 632.41,318.91 632.89,317.85 633.38,316.82 633.86,315.82 634.35,314.84 634.83,313.88 635.32,312.94 635.8,312.03 636.28,311.14 636.77,310.27 637.25,309.41 637.74,308.58 638.22,307.76 638.71,306.96 639.19,306.18 639.68,305.42 640.16,304.67 640.65,303.94 641.13,303.22 641.62,302.52 642.1,301.83 642.58,301.15 643.07,300.49 643.55,299.85 644.04,299.21 644.52,298.59 645.01,297.98 645.49,297.38 645.98,296.79 646.46,296.22 646.95,295.65 647.43,295.1 647.92,294.56 648.4,294.03" fill="none" stroke="#1f77b4" stroke-width="1.5"/>
<g fill="none" stroke="#1f77b4" stroke-width="0.8"><circle cx="406.1" cy="304.37" r="1.3"/><circle cx="406.88" cy="302.33" r="1.3"/><circle cx="407.65" cy="300.64" r="1.3"/><circle cx="408.43" cy="297.38" r="1.3"/><circle cx="409.2" cy="296.26" r="1.3"/><circle cx="409.98" cy="294.33" r="1.3"/><circle cx="410.75" cy="296.83" r="1.3"/><circle cx="411.53" cy="297.66" r="1.3"/><circle cx="412.3" cy="292.87" r="1.3"/><circle cx="413.08" cy="290.4" r="1.3"/><circle cx="413.85" cy="290.29" r="1.3"/><circle cx="414.63" cy="288.62" r="1.3"/><circle cx="415.4" cy="289.82" r="1.3"/><circle cx="416.18" cy="286.8" r="1.3"/><circle cx="416.96" cy="286.3" r="1.3"/><circle cx="417.73" cy="286.29" r="1.3"/><circle cx="418.51" cy="284.93" r="1.3"/><circle cx="419.28" cy="281.49" r="1.3"/><circle cx="420.06" cy="284.63" r="1.3"/><circle cx="420.83" cy="282.79" r="1.3"/><circle cx="421.61" cy="281.09" r="1.3"/><circle cx="422.38" cy="282.95" r="1.3"/><circle cx="423.16" cy="283.39" r="1.3"/><circle cx="423.93" cy="282.62" r="1.3"/><circle cx="424.71" cy="278.92" r="1.3"/><circle cx="425.48" cy="278.54" r="1.3"/><circle cx="426.26" cy="278.38" r="1.3"/><circle cx="427.03" cy="277.7" r="1.3"/><circle cx="427.81" cy="277.31" r="1.3"/><circle cx="428.59" cy="276.49" r="1.3"/><circle cx="429.36" cy="274.82" r="1.3"/><circle cx="430.14" cy="275.17" r="1.3"/><circle cx="430.91" cy="273.24" r="1.3"/><circle cx="431.69" cy="275.06" r="1.3"/><circle cx="432.46" cy="275.36" r="1.3"/><circle cx="433.24" cy="272.81" r="1.3"/><circle cx="434.01" cy="273.98" r="1.3"/><circle cx="434.79" cy="272.88" r="1.3"/><circle cx="435.56" cy="270.83" r="1.3"/><circle cx="436.34" cy="270.95" r="1.3"/><circle cx="437.11" cy="271.28" r="1.3"/><circle cx="437.89" cy="269.28" r="1.3"/><circle cx="438.67" cy="271.42" r="1.3"/><circle cx="439.44" cy="271.62" r="1.3"/><circle cx="440.22" cy="268.56" r="1.3"/><circle cx="440.99" cy="267.38" r="1.3"/><circle cx="441.77" cy="269.3" r="1.3"/><circle cx="442.54" cy="268.51" r="1.3"/><circle cx="443.32" cy="267.66" r="1.3"/><circle cx="444.09" cy="268.4" r="1.3"/><circle cx="444.87" cy="270.91" r="1.3"/><circle cx="445.64" cy="267.13" r="1.3"/><circle cx="446.42" cy="267.91" r="1.3"/><circle cx="447.19" cy="267.07" r="1.3"/><circle cx="447.97" cy="267.17" r="1.3"/><circle cx="448.74" cy="265.75" r="1.3"/><circle cx="449.52" cy="266.3" r="1.3"/><circle cx="450.3" cy="266.8" r="1.3"/><circle cx="451.07" cy="269.23" r="1.3"/><circle cx="451.85" cy="266.94" r="1.3"/><circle cx="452.62" cy="264.36" r="1.3"/><circle cx="453.4" cy="263.84" r="1.3"/><circle cx="454.17" cy="265.07" r="1.3"/><circle cx="454.95" cy="265.82" r="1.3"/><circle cx="455.72" cy="266.11" r="1.3"/><circle cx="456.5" cy="268.14" r="1.3"/><circle cx="457.27" cy="266.72" r="1.3"/><circle cx="458.05" cy="265.14" r="1.3"/><circle cx="458.82" cy="266.08" r="1.3"/><circle cx="459.6" cy="264.89" r="1.3"/><circle cx="460.38" cy="265" r="1.3"/><circle cx="461.15" cy="263.81" r="1.3"/><circle cx="461.93" cy="264.08" r="1.3"/><circle cx="462.7" cy="264.88" r="1.3"/><circle cx="463.48" cy="264.74" r="1.3"/><circle cx="464.25" cy="264.03" r="1.3"/><circle cx="465.03" cy="264.86" r="1.3"/><circle cx="465.8" cy="266.72" r="1.3"/><circle cx="466.58" cy="265.81" r="1.3"/><circle cx="467.35" cy="265.24" r="1.3"/><circle cx="468.13" cy="263.86" r="1.3"/><circle cx="468.9" cy="266.04" r="1.3"/><circle cx="469.68" cy="268.7" r="1.3"/><circle cx="470.45" cy="267.69" r="1.3"/><circle cx="471.23" cy="264.53" r="1.3"/><circle cx="472.01" cy="268.71" r="1.3"/><circle cx="472.78" cy="266.65" r="1.3"/><circle cx="473.56" cy="267.49" r="1.3"/><circle cx="474.33" cy="267.27" r="1.3"/><circle cx="475.11" cy="265.06" r="1.3"/><circle cx="475.88" cy="268.39" r="1.3"/><circle cx="476.66" cy="269.45" r="1.3"/><circle cx="477.43" cy="268.22" r="1.3"/><circle cx="478.21" cy="268.61" r="1.3"/><circle cx="478.98" cy="268.28" r="1.3"/><circle cx="479.76" cy="269.24" r="1.3"/><circle cx="480.53" cy="270.16" r="1.3"/><circle cx="481.31" cy="269.56" r="1.3"/><circle cx="482.09" cy="270.15" r="1.3"/><circle cx="482.86" cy="271.22" r="1.3"/><circle cx="483.64" cy="271.75" r="1.3"/><circle cx="484.41" cy="271.25" r="1.3"/><circle cx="485.19" cy="270.18" r="1.3"/><circle cx="485.96" cy="271.48" r="1.3"/><circle cx="486.74" cy="272.93" r="1.3"/><circle cx="487.51" cy="273.1" r="1.3"/><circle cx="488.29" cy="273.95" r="1.3"/><circle cx="489.06" cy="273.77" r="1.3"/><circle cx="489.84" cy="271.43" r="1.3"/><circle cx="490.61" cy="273.29" r="1.3"/><circle cx="491.39" cy="275.15" r="1.3"/><circle cx="492.16" cy="277.01" r="1.3"/><circle cx="492.94" cy="275.74" r="1.3"/><circle cx="493.72" cy="273.96" r="1.3"/><circle cx="494.49" cy="275.66" r="1.3"/><circle cx="495.27" cy="277.3" r="1.3"/><circle cx="496.04" cy="277.06" r="1.3"/><circle cx="496.82" cy="281.56" r="1.3"/><circle cx="497.59" cy="279.44" r="1.3"/><circle cx="498.37" cy="280.36" r="1.3"/><circle cx="499.14" cy="280.35" r="1.3"/><circle cx="499.92" cy="281.86" r="1.3"/><circle cx="500.69" cy="282.63" r="1.3"/><circle cx="501.47" cy="284.78" r="1.3"/><circle cx="502.24" cy="282.93" r="1.3"/><circle cx="503.02" cy="286.24" r="1.3"/><circle cx="503.8" cy="285.18" r="1.3"/><circle cx="504.57" cy="282.95" r="1.3"/><circle cx="505.35" cy="288.08" r="1.3"/><circle cx="506.12" cy="286.69" r="1.3"/><circle cx="506.9" cy="286.98" r="1.3"/><circle cx="507.67" cy="290.51" r="1.3"/><circle cx="508.45" cy="289.94" r="1.3"/><circle cx="509.22" cy="293.85" r="1.3"/><circle cx="510" cy="290.76" r="1.3"/><circle cx="510.77" cy="289.4" r="1.3"/><circle cx="511.55" cy="293.29" r="1.3"/><circle cx="512.32" cy="299.09" r="1.3"/><circle cx="513.1" cy="292.94" r="1.3"/><circle cx="513.88" cy="298.08" r="1.3"/><circle cx="514.65" cy="297.91" r="1.3"/><circle cx="515.43" cy="301.47" r="1.3"/><circle cx="516.2" cy="301.75" r="1.3"/><circle cx="516.98" cy="301.5" r="1.3"/><circle cx="517.75" cy="301.93" r="1.3"/><circle cx="518.53" cy="304.65" r="1.3"/><circle cx="519.3" cy="307.21" r="1.3"/><circle cx="520.08" cy="311.23" r="1.3"/><circle cx="520.85" cy="310.64" r="1.3"/><circle cx="521.63" cy="313.56" r="1.3"/><circle cx="522.4" cy="314.4" r="1.3"/><circle cx="523.18" cy="315.51" r="1.3"/><circle cx="523.95" cy="317.55" r="1.3"/><circle cx="524.73" cy="319.61" r="1.3"/><circle cx="525.51" cy="327.3" r="1.3"/><circle cx="526.28" cy="325.68" r="1.3"/><circle cx="527.06" cy="329.46" r="1.3"/><circle cx="527.83" cy="330.38" r="1.3"/><circle cx="528.61" cy="338.54" r="1.3"/><circle cx="529.38" cy="333.04" r="1.3"/><circle cx="530.16" cy="333.5" r="1.3"/><circle cx="530.93" cy="335.14" r="1.3"/><circle cx="531.71" cy="346.57" r="1.3"/><circle cx="532.48" cy="349.63" r="1.3"/><circle cx="533.26" cy="343.65" r="1.3"/><circle cx="534.03" cy="354.48" r="1.3"/><circle cx="534.81" cy="359.22" r="1.3"/><circle cx="535.59" cy="371.59" r="1.3"/><circle cx="536.36" cy="367.53" r="1.3"/><circle cx="537.14" cy="377.41" r="1.3"/><circle cx="537.91" cy="386.25" r="1.3"/><circle cx="538.69" cy="422.6" r="1.3"/><circle cx="539.46" cy="395.09" r="1.3"/><circle cx="540.24" cy="409.75" r="1.3"/><circle cx="541.01" cy="409.7" r="1.3"/><circle cx="541.79" cy="412.97" r="1.3"/><circle cx="542.56" cy="405.46" r="1.3"/><circle cx="543.34" cy="402.74" r="1.3"/><circle cx="544.11" cy="378.03" r="1.3"/><circle cx="544.89" cy="389.95" r="1.3"/><circle cx="545.66" cy="368.01" r="1.3"/><circle cx="546.44" cy="369.35" r="1.3"/><circle cx="547.22" cy="366.66" r="1.3"/><circle cx="547.99" cy="373.7" r="1.3"/><circle cx="548.77" cy="364.51" r="1.3"/><circle cx="549.54" cy="349.47" r="1.3"/><circle cx="550.32" cy="360.65" r="1.3"/><circle cx="551.09" cy="339.21" r="1.3"/><circle cx="551.87" cy="341.95" r="1.3"/><circle cx="552.64" cy="340.48" r="1.3"/><circle cx="553.42" cy="339.48" r="1.3"/><circle cx="554.19" cy="335.6" r="1.3"/><circle cx="554.97" cy="332.52" r="1.3"/><circle cx="555.74" cy="333.62" r="1.3"/><circle cx="556.52" cy="329.29" r="1.3"/><circle cx="557.3" cy="323.33" r="1.3"/><circle cx="558.07" cy="328.54" r="1.3"/><circle cx="558.85" cy="320.95" r="1.3"/><circle cx="559.62" cy="314.11" r="1.3"/><circle cx="560.4" cy="314.24" r="1.3"/><circle cx="561.17" cy="313.84" r="1.3"/><circle cx="561.95" cy="313.38" r="1.3"/><circle cx="562.72" cy="313.06" r="1.3"/><circle cx="563.5" cy="305.82" r="1.3"/><circle cx="564.27" cy="306.88" r="1.3"/><circle cx="565.05" cy="305.15" r="1.3"/><circle cx="565.82" cy="304.03" r="1.3"/><circle cx="566.6" cy="304.48" r="1.3"/><circle cx="567.37" cy="302.34" r="1.3"/><circle cx="568.15" cy="303.84" r="1.3"/><circle cx="568.93" cy="299.4" r="1.3"/><circle cx="569.7" cy="303.53" r="1.3"/><circle cx="570.48" cy="300.46" r="1.3"/><circle cx="571.25" cy="297.94" r="1.3"/><circle cx="572.03" cy="298.2" r="1.3"/><circle cx="572.8" cy="293.11" r="1.3"/><circle cx="573.58" cy="291.18" r="1.3"/><circle cx="574.35" cy="289.93" r="1.3"/><circle cx="575.13" cy="293.4" r="1.3"/><circle cx="575.9" cy="293.26" r="1.3"/><circle cx="576.68" cy="288.75" r="1.3"/><circle cx="577.45" cy="288.22" r="1.3"/><circle cx="578.23" cy="287.44" r="1.3"/><circle cx="579.01" cy="285.92" r="1.3"/><circle cx="579.78" cy="288.57" r="1.3"/><circle cx="580.56" cy="285.82" r="1.3"/><circle cx="581.33" cy="284.43" r="1.3"/><circle cx="582.11" cy="282.31" r="1.3"/><circle cx="582.88" cy="283.13" r="1.3"/><circle cx="583.66" cy="282.24" r="1.3"/><circle cx="584.43" cy="281.78" r="1.3"/><circle cx="585.21" cy="281.53" r="1.3"/><circle cx="585.98" cy="281.01" r="1.3"/><circle cx="586.76" cy="280.08" r="1.3"/><circle cx="587.53" cy="279.89" r="1.3"/><circle cx="588.31" cy="278.84" r="1.3"/><circle cx="589.08" cy="280.21" r="1.3"/><circle cx="589.86" cy="276.38" r="1.3"/><circle cx="590.64" cy="275.56" r="1.3"/><circle cx="591.41" cy="274.54" r="1.3"/><circle cx="592.19" cy="274.28" r="1.3"/><circle cx="592.96" cy="278.22" r="1.3"/><circle cx="593.74" cy="275.34" r="1.3"/><circle cx="594.51" cy="275.24" r="1.3"/><circle cx="595.29" cy="274.02" r="1.3"/><circle cx="596.06" cy="274.28" r="1.3"/><circle cx="596.84" cy="273.13" r="1.3"/><circle cx="597.61" cy="274.47" r="1.3"/><circle cx="598.39" cy="271.4" r="1.3"/><circle cx="599.16" cy="273.84" r="1.3"/><circle cx="599.94" cy="271.81" r="1.3"/><circle cx="600.72" cy="269.07" r="1.3"/><circle cx="601.49" cy="271.39" r="1.3"/><circle cx="602.27" cy="271.82" r="1.3"/><circle cx="603.04" cy="269.32" r="1.3"/><circle cx="603.82" cy="269.71" r="1.3"/><circle cx="604.59" cy="270.37" r="1.3"/><circle cx="605.37" cy="269.76" r="1.3"/><circle cx="606.14" cy="269.43" r="1.3"/><circle cx="606.92" cy="267.88" r="1.3"/><circle cx="607.69" cy="269.83" r="1.3"/><circle cx="608.47" cy="268.48" r="1.3"/><circle cx="609.24" cy="269.65" r="1.3"/><circle cx="610.02" cy="271.61" r="1.3"/><circle cx="610.8" cy="270.76" r="1.3"/><circle cx="611.57" cy="268.07" r="1.3"/><circle cx="612.35" cy="269.69" r="1.3"/><circle cx="613.12" cy="268.5" r="1.3"/><circle cx="613.9" cy="266.98" r="1.3"/><circle cx="614.67" cy="269.37" r="1.3"/><circle cx="615.45" cy="268.13" r="1.3"/><circle cx="616.22" cy="268.32" r="1.3"/><circle cx="617" cy="269.48" r="1.3"/><circle cx="617.77" cy="267.87" r="1.3"/><circle cx="618.55" cy="267.11" r="1.3"/><circle cx="619.32" cy="269.71" r="1.3"/><circle cx="620.1" cy="268.31" r="1.3"/><circle cx="620.87" cy="267.35" r="1.3"/><circle cx="621.65" cy="267.05" r="1.3"/><circle cx="622.43" cy="267.42" r="1.3"/><circle cx="623.2" cy="265.11" r="1.3"/><circle cx="623.98" cy="266.93" r="1.3"/><circle cx="624.75" cy="266.87" r="1.3"/><circle cx="625.53" cy="268.34" r="1.3"/><circle cx="626.3" cy="267.42" r="1.3"/><circle cx="627.08" cy="267" r="1.3"/><circle cx="627.85" cy="268.16" r="1.3"/><circle cx="628.63" cy="268.73" r="1.3"/><circle cx="629.4" cy="266.91" r="1.3"/><circle cx="630.18" cy="269.26" r="1.3"/><circle cx="630.95" cy="269.61" r="1.3"/><circle cx="631.73" cy="268.64" r="1.3"/><circle cx="632.51" cy="268.41" r="1.3"/><circle cx="633.28" cy="269.37" r="1.3"/><circle cx="634.06" cy="270.04" r="1.3"/><circle cx="634.83" cy="269.08" r="1.3"/><circle cx="635.61" cy="270.26" r="1.3"/><circle cx="636.38" cy="270.78" r="1.3"/><circle cx="637.16" cy="270.68" r="1.3"/><circle cx="637.93" cy="272.3" r="1.3"/><circle cx="638.71" cy="271.72" r="1.3"/><circle cx="639.48" cy="272.63" r="1.3"/><circle cx="640.26" cy="270.41" r="1.3"/><circle cx="641.03" cy="270.97" r="1.3"/><circle cx="641.81" cy="274.2" r="1.3"/><circle cx="642.58" cy="273.4" r="1.3"/><circle cx="643.36" cy="273.02" r="1.3"/><circle cx="644.14" cy="270.9" r="1.3"/><circle cx="644.91" cy="273.15" r="1.3"/><circle cx="645.69" cy="274.13" r="1.3"/><circle cx="646.46" cy="273.36" r="1.3"/><circle cx="647.24" cy="274.69" r="1.3"/><circle cx="648.01" cy="275.3" r="1.3"/></g>
<g fill="none" stroke="#ff7f0e" stroke-width="0.8"><circle cx="406.1" cy="283.7" r="1.3"/><circle cx="406.88" cy="281.45" r="1.3"/><circle cx="407.65" cy="283.6" r="1.3"/><circle cx="408.43" cy="283.35" r="1.3"/><circle cx="409.2" cy="282.14" r="1.3"/><circle cx="409.98" cy="284.17" r="1.3"/><circle cx="410.75" cy="285.86" r="1.3"/><circle cx="411.53" cy="287.6" r="1.3"/><circle cx="412.3" cy="286" r="1.3"/><circle cx="413.08" cy="289.42" r="1.3"/><circle cx="413.85" cy="288.26" r="1.3"/><circle cx="414.63" cy="289.69" r="1.3"/><circle cx="415.4" cy="289.41" r="1.3"/><circle cx="416.18" cy="290.6" r="1.3"/><circle cx="416.96" cy="293.87" r="1.3"/><circle cx="417.73" cy="294.72" r="1.3"/><circle cx="418.51" cy="292.91" r="1.3"/><circle cx="419.28" cy="295.01" r="1.3"/><circle cx="420.06" cy="296.24" r="1.3"/><circle cx="420.83" cy="296.62" r="1.3"/><circle cx="421.61" cy="298.99" r="1.3"/><circle cx="422.38" cy="297.72" r="1.3"/><circle cx="423.16" cy="297.93" r="1.3"/><circle cx="423.93" cy="299.32" r="1.3"/><circle cx="424.71" cy="303.04" r="1.3"/><circle cx="425.48" cy="303.65" r="1.3"/><circle cx="426.26" cy="302" r="1.3"/><circle cx="427.03" cy="306.34" r="1.3"/><circle cx="427.81" cy="304.97" r="1.3"/><circle cx="428.59" cy="309.66" r="1.3"/><circle cx="429.36" cy="309.13" r="1.3"/><circle cx="430.14" cy="311.62" r="1.3"/><circle cx="430.91" cy="316.6" r="1.3"/><circle cx="431.69" cy="314.69" r="1.3"/><circle cx="432.46" cy="318.64" r="1.3"/><circle cx="433.24" cy="319.84" r="1.3"/><circle cx="434.01" cy="318.38" r="1.3"/><circle cx="434.79" cy="326.2" r="1.3"/><circle cx="435.56" cy="328.39" r="1.3"/><circle cx="436.34" cy="321.6" r="1.3"/><circle cx="437.11" cy="335.13" r="1.3"/><circle cx="437.89" cy="331.38" r="1.3"/><circle cx="438.67" cy="336.74" r="1.3"/><circle cx="439.44" cy="337.92" r="1.3"/><circle cx="440.22" cy="342.09" r="1.3"/><circle cx="440.99" cy="342.85" r="1.3"/><circle cx="441.77" cy="348.55" r="1.3"/><circle cx="442.54" cy="349.87" r="1.3"/><circle cx="443.32" cy="366.93" r="1.3"/><circle cx="444.09" cy="360.17" r="1.3"/><circle cx="444.87" cy="363.88" r="1.3"/><circle cx="445.64" cy="367.58" r="1.3"/><circle cx="446.42" cy="369.5" r="1.3"/><circle cx="447.19" cy="375.73" r="1.3"/><circle cx="447.97" cy="388.13" r="1.3"/><circle cx="448.74" cy="396.55" r="1.3"/><circle cx="449.52" cy="394.59" r="1.3"/><circle cx="450.3" cy="404.14" r="1.3"/><circle cx="451.07" cy="406.68" r="1.3"/><circle cx="451.85" cy="437.66" r="1.3"/><circle cx="452.62" cy="418.49" r="1.3"/><circle cx="453.4" cy="397.94" r="1.3"/><circle cx="454.17" cy="399.65" r="1.3"/><circle cx="454.95" cy="395.14" r="1.3"/><circle cx="455.72" cy="388.63" r="1.3"/><circle cx="456.5" cy="390.58" r="1.3"/><circle cx="457.27" cy="378.91" r="1.3"/><circle cx="458.05" cy="375.98" r="1.3"/><circle cx="458.82" cy="367.24" r="1.3"/><circle cx="459.6" cy="373.92" r="1.3"/><circle cx="460.38" cy="354.58" r="1.3"/><circle cx="461.15" cy="371.72" r="1.3"/><circle cx="461.93" cy="348.41" r="1.3"/><circle cx="462.7" cy="348.58" r="1.3"/><circle cx="463.48" cy="340.87" r="1.3"/><circle cx="464.25" cy="341.41" r="1.3"/><circle cx="465.03" cy="343.41" r="1.3"/><circle cx="465.8" cy="340.07" r="1.3"/><circle cx="466.58" cy="332.05" r="1.3"/><circle cx="467.35" cy="327.53" r="1.3"/><circle cx="468.13" cy="326.8" r="1.3"/><circle cx="468.9" cy="326.61" r="1.3"/><circle cx="469.68" cy="324.65" r="1.3"/><circle cx="470.45" cy="323.24" r="1.3"/><circle cx="471.23" cy="319.65" r="1.3"/><circle cx="472.01" cy="320.62" r="1.3"/><circle cx="472.78" cy="311.69" r="1.3"/><circle cx="473.56" cy="313.06" r="1.3"/><circle cx="474.33" cy="313.27" r="1.3"/><circle cx="475.11" cy="312.01" r="1.3"/><circle cx="475.88" cy="310.25" r="1.3"/><circle cx="476.66" cy="308.8" r="1.3"/><circle cx="477.43" cy="305.03" r="1.3"/><circle cx="478.21" cy="305.82" r="1.3"/><circle cx="478.98" cy="304.74" r="1.3"/><circle cx="479.76" cy="301.56" r="1.3"/><circle cx="480.53" cy="300.41" r="1.3"/><circle cx="481.31" cy="298.56" r="1.3"/><circle cx="482.09" cy="297.87" r="1.3"/><circle cx="482.86" cy="300.04" r="1.3"/><circle cx="483.64" cy="298.59" r="1.3"/><circle cx="484.41" cy="297.62" r="1.3"/><circle cx="485.19" cy="293.72" r="1.3"/><circle cx="485.96" cy="294.89" r="1.3"/><circle cx="486.74" cy="294.62" r="1.3"/><circle cx="487.51" cy="292.97" r="1.3"/><circle cx="488.29" cy="292.14" r="1.3"/><circle cx="489.06" cy="291.29" r="1.3"/><circle cx="489.84" cy="290.28" r="1.3"/><circle cx="490.61" cy="288.55" r="1.3"/><circle cx="491.39" cy="289.85" r="1.3"/><circle cx="492.16" cy="286.4" r="1.3"/><circle cx="492.94" cy="288.04" r="1.3"/><circle cx="493.72" cy="288.16" r="1.3"/><circle cx="494.49" cy="285.52" r="1.3"/><circle cx="495.27" cy="286.41" r="1.3"/><circle cx="496.04" cy="285.26" r="1.3"/><circle cx="496.82" cy="287.2" r="1.3"/><circle cx="497.59" cy="285.35" r="1.3"/><circle cx="498.37" cy="280.88" r="1.3"/><circle cx="499.14" cy="280.33" r="1.3"/><circle cx="499.92" cy="281.79" r="1.3"/><circle cx="500.69" cy="280.58" r="1.3"/><circle cx="501.47" cy="283.13" r="1.3"/><circle cx="502.24" cy="280.53" r="1.3"/><circle cx="503.02" cy="280.8" r="1.3"/><circle cx="503.8" cy="280.4" r="1.3"/><circle cx="504.57" cy="279.27" r="1.3"/><circle cx="505.35" cy="279.82" r="1.3"/><circle cx="506.12" cy="279.02" r="1.3"/><circle cx="506.9" cy="278.07" r="1.3"/><circle cx="507.67" cy="276.27" r="1.3"/><circle cx="508.45" cy="278.09" r="1.3"/><circle cx="509.22" cy="279.71" r="1.3"/><circle cx="510" cy="274.83" r="1.3"/><circle cx="510.77" cy="274.68" r="1.3"/><circle cx="511.55" cy="274.8" r="1.3"/><circle cx="512.32" cy="277.32" r="1.3"/><circle cx="513.1" cy="273.67" r="1.3"/><circle cx="513.88" cy="274.24" r="1.3"/><circle cx="514.65" cy="274.96" r="1.3"/><circle cx="515.43" cy="275.41" r="1.3"/><circle cx="516.2" cy="274.03" r="1.3"/><circle cx="516.98" cy="274.06" r="1.3"/><circle cx="517.75" cy="272.61" r="1.3"/><circle cx="518.53" cy="272.7" r="1.3"/><circle cx="519.3" cy="272.01" r="1.3"/><circle cx="520.08" cy="273.18" r="1.3"/><circle cx="520.85" cy="270.97" r="1.3"/><circle cx="521.63" cy="273.91" r="1.3"/><circle cx="522.4" cy="272.35" r="1.3"/><circle cx="523.18" cy="273.13" r="1.3"/><circle cx="523.95" cy="273.04" r="1.3"/><circle cx="524.73" cy="272.48" r="1.3"/><circle cx="525.51" cy="270.21" r="1.3"/><circle cx="526.28" cy="274.48" r="1.3"/><circle cx="527.06" cy="273.07" r="1.3"/><circle cx="527.83" cy="272.63" r="1.3"/><circle cx="528.61" cy="271.8" r="1.3"/><circle cx="529.38" cy="274.1" r="1.3"/><circle cx="530.16" cy="270.7" r="1.3"/><circle cx="530.93" cy="271.01" r="1.3"/><circle cx="531.71" cy="272.32" r="1.3"/><circle cx="532.48" cy="272.7" r="1.3"/><circle cx="533.26" cy="273.05" r="1.3"/><circle cx="534.03" cy="270.15" r="1.3"/><circle cx="534.81" cy="270.38" r="1.3"/><circle cx="535.59" cy="272.96" r="1.3"/><circle cx="536.36" cy="269.84" r="1.3"/><circle cx="537.14" cy="271.09" r="1.3"/><circle cx="537.91" cy="271.93" r="1.3"/><circle cx="538.69" cy="272.35" r="1.3"/><circle cx="539.46" cy="272" r="1.3"/><circle cx="540.24" cy="270.94" r="1.3"/><circle cx="541.01" cy="274.77" r="1.3"/><circle cx="541.79" cy="271.66" r="1.3"/><circle cx="542.56" cy="272.18" r="1.3"/><circle cx="543.34" cy="272.97" r="1.3"/><circle cx="544.11" cy="274.27" r="1.3"/><circle cx="544.89" cy="273.66" r="1.3"/><circle cx="545.66" cy="274.68" r="1.3"/><circle cx="546.44" cy="274.28" r="1.3"/><circle cx="547.22" cy="275.88" r="1.3"/><circle cx="547.99" cy="274.56" r="1.3"/><circle cx="548.77" cy="276.96" r="1.3"/><circle cx="549.54" cy="274.98" r="1.3"/><circle cx="550.32" cy="276.86" r="1.3"/><circle cx="551.09" cy="276" r="1.3"/><circle cx="551.87" cy="275.92" r="1.3"/><circle cx="552.64" cy="275.64" r="1.3"/><circle cx="553.42" cy="277.51" r="1.3"/><circle cx="554.19" cy="278.22" r="1.3"/><circle cx="554.97" cy="277.58" r="1.3"/><circle cx="555.74" cy="276.59" r="1.3"/><circle cx="556.52" cy="277.12" r="1.3"/><circle cx="557.3" cy="277.07" r="1.3"/><circle cx="558.07" cy="277.62" r="1.3"/><circle cx="558.85" cy="278.44" r="1.3"/><circle cx="559.62" cy="281.2" r="1.3"/><circle cx="560.4" cy="277.33" r="1.3"/><circle cx="561.17" cy="280.18" r="1.3"/><circle cx="561.95" cy="281.64" r="1.3"/><circle cx="562.72" cy="283.89" r="1.3"/><circle cx="563.5" cy="282.21" r="1.3"/><circle cx="564.27" cy="283.94" r="1.3"/><circle cx="565.05" cy="283.47" r="1.3"/><circle cx="565.82" cy="282.68" r="1.3"/><circle cx="566.6" cy="283.55" r="1.3"/><circle cx="567.37" cy="284.49" r="1.3"/><circle cx="568.15" cy="288.97" r="1.3"/><circle cx="568.93" cy="286.07" r="1.3"/><circle cx="569.7" cy="285.23" r="1.3"/><circle cx="570.48" cy="287.45" r="1.3"/><circle cx="571.25" cy="287.64" r="1.3"/><circle cx="572.03" cy="289.66" r="1.3"/><circle cx="572.8" cy="290.16" r="1.3"/><circle cx="573.58" cy="289.19" r="1.3"/><circle cx="574.35" cy="293.05" r="1.3"/><circle cx="575.13" cy="292.13" r="1.3"/><circle cx="575.9" cy="292.96" r="1.3"/><circle cx="576.68" cy="295.15" r="1.3"/><circle cx="577.45" cy="297.16" r="1.3"/><circle cx="578.23" cy="292.94" r="1.3"/><circle cx="579.01" cy="298.26" r="1.3"/><circle cx="579.78" cy="299.41" r="1.3"/><circle cx="580.56" cy="299.42" r="1.3"/><circle cx="581.33" cy="298.95" r="1.3"/><circle cx="582.11" cy="300.99" r="1.3"/><circle cx="582.88" cy="301.95" r="1.3"/><circle cx="583.66" cy="303.82" r="1.3"/><circle cx="584.43" cy="303.13" r="1.3"/><circle cx="585.21" cy="304.85" r="1.3"/><circle cx="585.98" cy="306.15" r="1.3"/><circle cx="586.76" cy="309.8" r="1.3"/><circle cx="587.53" cy="306.08" r="1.3"/><circle cx="588.31" cy="312.65" r="1.3"/><circle cx="589.08" cy="313.54" r="1.3"/><circle cx="589.86" cy="313.29" r="1.3"/><circle cx="590.64" cy="314.42" r="1.3"/><circle cx="591.41" cy="315.56" r="1.3"/><circle cx="592.19" cy="318.68" r="1.3"/><circle cx="592.96" cy="321.73" r="1.3"/><circle cx="593.74" cy="319.82" r="1.3"/><circle cx="594.51" cy="326.55" r="1.3"/><circle cx="595.29" cy="328.36" r="1.3"/><circle cx="596.06" cy="328.03" r="1.3"/><circle cx="596.84" cy="333.93" r="1.3"/><circle cx="597.61" cy="333.5" r="1.3"/><circle cx="598.39" cy="336.64" r="1.3"/><circle cx="599.16" cy="339.18" r="1.3"/><circle cx="599.94" cy="320.42" r="1.3"/><circle cx="600.72" cy="348.08" r="1.3"/><circle cx="601.49" cy="356.14" r="1.3"/><circle cx="602.27" cy="352.64" r="1.3"/><circle cx="603.04" cy="358.28" r="1.3"/><circle cx="603.82" cy="360.45" r="1.3"/><circle cx="604.59" cy="367.65" r="1.3"/><circle cx="605.37" cy="364.78" r="1.3"/><circle cx="606.14" cy="377.01" r="1.3"/><circle cx="606.92" cy="379.56" r="1.3"/><circle cx="607.69" cy="386.19" r="1.3"/><circle cx="608.47" cy="358.58" r="1.3"/><circle cx="609.24" cy="394.49" r="1.3"/><circle cx="610.02" cy="392.81" r="1.3"/><circle cx="610.8" cy="407.06" r="1.3"/><circle cx="611.57" cy="406.9" r="1.3"/><circle cx="612.35" cy="406.29" r="1.3"/><circle cx="613.12" cy="419.13" r="1.3"/><circle cx="613.9" cy="403.06" r="1.3"/><circle cx="614.67" cy="397.54" r="1.3"/><circle cx="615.45" cy="393.4" r="1.3"/><circle cx="616.22" cy="386.78" r="1.3"/><circle cx="617" cy="376.59" r="1.3"/><circle cx="617.77" cy="372" r="1.3"/><circle cx="618.55" cy="357.1" r="1.3"/><circle cx="619.32" cy="369.1" r="1.3"/><circle cx="620.1" cy="370.37" r="1.3"/><circle cx="620.87" cy="377.79" r="1.3"/><circle cx="621.65" cy="336.42" r="1.3"/><circle cx="622.43" cy="357.29" r="1.3"/><circle cx="623.2" cy="347.6" r="1.3"/><circle cx="623.98" cy="357.65" r="1.3"/><circle cx="624.75" cy="340.02" r="1.3"/><circle cx="625.53" cy="334.77" r="1.3"/><circle cx="626.3" cy="336.11" r="1.3"/><circle cx="627.08" cy="331.11" r="1.3"/><circle cx="627.85" cy="328.45" r="1.3"/><circle cx="628.63" cy="326.43" r="1.3"/><circle cx="629.4" cy="326.78" r="1.3"/><circle cx="630.18" cy="322.57" r="1.3"/><circle cx="630.95" cy="323.99" r="1.3"/><circle cx="631.73" cy="318.09" r="1.3"/><circle cx="632.51" cy="317.18" r="1.3"/><circle cx="633.28" cy="318.59" r="1.3"/><circle cx="634.06" cy="312.47" r="1.3"/><circle cx="634.83" cy="311.51" r="1.3"/><circle cx="635.61" cy="310.52" r="1.3"/><circle cx="636.38" cy="311.4" r="1.3"/><circle cx="637.16" cy="309.25" r="1.3"/><circle cx="637.93" cy="309.35" r="1.3"/><circle cx="638.71" cy="308.19" r="1.3"/><circle cx="639.48" cy="308.22" r="1.3"/><circle cx="640.26" cy="303.82" r="1.3"/><circle cx="641.03" cy="303.14" r="1.3"/><circle cx="641.81" cy="302.06" r="1.3"/><circle cx="642.58" cy="301.86" r="1.3"/><circle cx="643.36" cy="299.25" r="1.3"/><circle cx="644.14" cy="299.94" r="1.3"/><circle cx="644.91" cy="298.16" r="1.3"/><circle cx="645.69" cy="298.53" r="1.3"/><circle cx="646.46" cy="296.36" r="1.3"/><circle cx="647.24" cy="294.74" r="1.3"/><circle cx="648.01" cy="296.29" r="1.3"/></g>
<rect x="543" y="253.7" width="69.06" height="180.7" fill="#fff000" opacity="0.26"/>
</g>
<line x1="424.7" y1="266" x2="477" y2="266" stroke="#000" stroke-width="1.4" stroke-dasharray="4.5,2.5"/>
<line x1="471" y1="272.6" x2="537" y2="272.6" stroke="#000" stroke-width="1.4" stroke-dasharray="4.5,2.5"/>
<line x1="424.7" y1="416.2" x2="453" y2="416.2" stroke="#000" stroke-width="1.4" stroke-dasharray="4.5,2.5"/>
<line x1="424.7" y1="272" x2="424.7" y2="410" stroke="#000" stroke-width="1.3"/>
<polygon points="424.7,265.5 421.4,273.5 428,273.5" fill="#000"/><polygon points="424.7,416.7 421.4,408.7 428,408.7" fill="#000"/>
<text transform="translate(419.3,374.5) rotate(-90)" font-size="10.5" font-family="Liberation Sans" textLength="64" lengthAdjust="spacingAndGlyphs">ER ≈ 25 dB</text>
<line x1="453.3" y1="340.7" x2="453.3" y2="369.3" stroke="#000" stroke-width="1.3"/>
<line x1="611.7" y1="340.7" x2="611.7" y2="369.3" stroke="#000" stroke-width="1.3"/>
<line x1="460" y1="354" x2="605" y2="354" stroke="#000" stroke-width="1.4" stroke-dasharray="4.5,2.5"/>
<polygon points="454,354 462,350.7 462,357.3" fill="#000"/><polygon points="611,354 603,350.7 603,357.3" fill="#000"/>
<text x="470.5" y="365" font-size="10.5" text-anchor="start" fill="#000" font-family="Liberation Sans" textLength="63.57" lengthAdjust="spacingAndGlyphs" >FSR≈6.6 nm</text>
<line x1="542.7" y1="384" x2="542.7" y2="412.3" stroke="#000" stroke-width="1.3"/>
<line x1="611.7" y1="384" x2="611.7" y2="412.3" stroke="#000" stroke-width="1.3"/>
<line x1="550" y1="399.7" x2="604" y2="399.7" stroke="#000" stroke-width="1.4" stroke-dasharray="4.5,2.5"/>
<polygon points="543.4,399.7 551.4,396.4 551.4,403 " fill="#000"/><polygon points="611,399.7 603,396.4 603,403" fill="#000"/>
<text x="547.3" y="419.5" font-size="10.5" font-family="Liberation Sans" textLength="58.5" lengthAdjust="spacingAndGlyphs"><tspan font-style="italic">V</tspan><tspan font-size="7.5" dy="2">π,DC</tspan><tspan dy="-2">≈0.5 V</tspan></text>
<text x="415.5" y="263.8" font-size="10.5" text-anchor="start" fill="#000" font-family="Liberation Sans" textLength="32.89" lengthAdjust="spacingAndGlyphs" >2.1 dB</text>
<line x1="461.5" y1="258.8" x2="471.04" y2="260.03" stroke="#000" stroke-width="1.0"/>
<polygon points="475.5,260.6 470.29,261.95 470.8,257.98" fill="#000"/>
<text x="504.3" y="265.1" font-size="10.5" text-anchor="start" fill="#000" font-family="Liberation Sans" textLength="23.17" lengthAdjust="spacingAndGlyphs" >1 dB</text>
<line x1="499" y1="264.5" x2="489.32" y2="267.34" stroke="#000" stroke-width="1.0"/>
<polygon points="485,268.6 489.24,265.28 490.36,269.11" fill="#000"/>
<line x1="477.9" y1="256" x2="477.9" y2="271.5" stroke="#ff1010" stroke-width="1.2"/>
<polygon points="477.9,253.8 475.6,258.5 480.2,258.5" fill="#ff1010"/><polygon points="477.9,266.2 475.6,261.5 480.2,261.5" fill="#ff1010"/><polygon points="477.9,266.5 475.6,271.5 480.2,271.5" fill="#ff1010"/>
<rect x="449.4" y="272.6" width="16.8" height="10.9" fill="#2a78b8"/>
<text x="457.8" y="281.6" font-size="10.5" text-anchor="middle" fill="#fff" font-family="Liberation Sans" textLength="16.68" lengthAdjust="spacingAndGlyphs" >0 V</text>
<rect x="526.5" y="281.2" width="26.8" height="12.2" fill="#ec7a2c"/>
<text x="539.9" y="291.2" font-size="10.5" text-anchor="middle" fill="#fff" font-family="Liberation Sans" textLength="26.4" lengthAdjust="spacingAndGlyphs" >0.5 V</text>
<line x1="406.1" y1="253.7" x2="648.4" y2="253.7" stroke="#333" stroke-width="0.8"/>
<line x1="406.1" y1="434.4" x2="648.4" y2="434.4" stroke="#333" stroke-width="0.8"/>
<line x1="406.1" y1="253.7" x2="406.1" y2="434.4" stroke="#333" stroke-width="0.8"/>
<line x1="648.4" y1="253.7" x2="648.4" y2="434.4" stroke="#333" stroke-width="0.8"/>
<line x1="402.6" y1="253.7" x2="406.1" y2="253.7" stroke="#000" stroke-width="0.8"/>
<text x="402.1" y="257.7" font-size="10" text-anchor="end" fill="#000" font-family="Liberation Sans" textLength="6.17" lengthAdjust="spacingAndGlyphs" >0</text>
<line x1="402.6" y1="281.94" x2="406.1" y2="281.94" stroke="#000" stroke-width="0.8"/>
<text x="402.1" y="285.94" font-size="10" text-anchor="end" fill="#000" font-family="Liberation Sans" textLength="14.3" lengthAdjust="spacingAndGlyphs" >&#8722;5</text>
<line x1="402.6" y1="310.17" x2="406.1" y2="310.17" stroke="#000" stroke-width="0.8"/>
<text x="402.1" y="314.17" font-size="10" text-anchor="end" fill="#000" font-family="Liberation Sans" textLength="20.47" lengthAdjust="spacingAndGlyphs" >&#8722;10</text>
<line x1="402.6" y1="338.4" x2="406.1" y2="338.4" stroke="#000" stroke-width="0.8"/>
<text x="402.1" y="342.4" font-size="10" text-anchor="end" fill="#000" font-family="Liberation Sans" textLength="20.47" lengthAdjust="spacingAndGlyphs" >&#8722;15</text>
<line x1="402.6" y1="366.64" x2="406.1" y2="366.64" stroke="#000" stroke-width="0.8"/>
<text x="402.1" y="370.64" font-size="10" text-anchor="end" fill="#000" font-family="Liberation Sans" textLength="20.47" lengthAdjust="spacingAndGlyphs" >&#8722;20</text>
<line x1="402.6" y1="394.88" x2="406.1" y2="394.88" stroke="#000" stroke-width="0.8"/>
<text x="402.1" y="398.88" font-size="10" text-anchor="end" fill="#000" font-family="Liberation Sans" textLength="20.47" lengthAdjust="spacingAndGlyphs" >&#8722;25</text>
<line x1="402.6" y1="423.11" x2="406.1" y2="423.11" stroke="#000" stroke-width="0.8"/>
<text x="402.1" y="427.11" font-size="10" text-anchor="end" fill="#000" font-family="Liberation Sans" textLength="20.47" lengthAdjust="spacingAndGlyphs" >&#8722;30</text>
<line x1="404.1" y1="428.76" x2="406.1" y2="428.76" stroke="#000" stroke-width="0.6"/>
<line x1="404.1" y1="417.46" x2="406.1" y2="417.46" stroke="#000" stroke-width="0.6"/>
<line x1="404.1" y1="411.82" x2="406.1" y2="411.82" stroke="#000" stroke-width="0.6"/>
<line x1="404.1" y1="406.17" x2="406.1" y2="406.17" stroke="#000" stroke-width="0.6"/>
<line x1="404.1" y1="400.52" x2="406.1" y2="400.52" stroke="#000" stroke-width="0.6"/>
<line x1="404.1" y1="389.23" x2="406.1" y2="389.23" stroke="#000" stroke-width="0.6"/>
<line x1="404.1" y1="383.58" x2="406.1" y2="383.58" stroke="#000" stroke-width="0.6"/>
<line x1="404.1" y1="377.93" x2="406.1" y2="377.93" stroke="#000" stroke-width="0.6"/>
<line x1="404.1" y1="372.29" x2="406.1" y2="372.29" stroke="#000" stroke-width="0.6"/>
<line x1="404.1" y1="360.99" x2="406.1" y2="360.99" stroke="#000" stroke-width="0.6"/>
<line x1="404.1" y1="355.35" x2="406.1" y2="355.35" stroke="#000" stroke-width="0.6"/>
<line x1="404.1" y1="349.7" x2="406.1" y2="349.7" stroke="#000" stroke-width="0.6"/>
<line x1="404.1" y1="344.05" x2="406.1" y2="344.05" stroke="#000" stroke-width="0.6"/>
<line x1="404.1" y1="332.76" x2="406.1" y2="332.76" stroke="#000" stroke-width="0.6"/>
<line x1="404.1" y1="327.11" x2="406.1" y2="327.11" stroke="#000" stroke-width="0.6"/>
<line x1="404.1" y1="321.46" x2="406.1" y2="321.46" stroke="#000" stroke-width="0.6"/>
<line x1="404.1" y1="315.82" x2="406.1" y2="315.82" stroke="#000" stroke-width="0.6"/>
<line x1="404.1" y1="304.52" x2="406.1" y2="304.52" stroke="#000" stroke-width="0.6"/>
<line x1="404.1" y1="298.88" x2="406.1" y2="298.88" stroke="#000" stroke-width="0.6"/>
<line x1="404.1" y1="293.23" x2="406.1" y2="293.23" stroke="#000" stroke-width="0.6"/>
<line x1="404.1" y1="287.58" x2="406.1" y2="287.58" stroke="#000" stroke-width="0.6"/>
<line x1="404.1" y1="276.29" x2="406.1" y2="276.29" stroke="#000" stroke-width="0.6"/>
<line x1="404.1" y1="270.64" x2="406.1" y2="270.64" stroke="#000" stroke-width="0.6"/>
<line x1="404.1" y1="264.99" x2="406.1" y2="264.99" stroke="#000" stroke-width="0.6"/>
<line x1="404.1" y1="259.35" x2="406.1" y2="259.35" stroke="#000" stroke-width="0.6"/>
<line x1="418.22" y1="434.4" x2="418.22" y2="436.4" stroke="#000" stroke-width="0.6"/>
<line x1="430.33" y1="434.4" x2="430.33" y2="437.9" stroke="#000" stroke-width="0.8"/>
<text x="430.33" y="447.2" font-size="10" text-anchor="middle" fill="#000" font-family="Liberation Sans" textLength="24.69" lengthAdjust="spacingAndGlyphs" >1566</text>
<line x1="442.45" y1="434.4" x2="442.45" y2="436.4" stroke="#000" stroke-width="0.6"/>
<line x1="454.56" y1="434.4" x2="454.56" y2="436.4" stroke="#000" stroke-width="0.6"/>
<line x1="466.68" y1="434.4" x2="466.68" y2="436.4" stroke="#000" stroke-width="0.6"/>
<line x1="478.79" y1="434.4" x2="478.79" y2="437.9" stroke="#000" stroke-width="0.8"/>
<text x="478.79" y="447.2" font-size="10" text-anchor="middle" fill="#000" font-family="Liberation Sans" textLength="24.69" lengthAdjust="spacingAndGlyphs" >1568</text>
<line x1="490.91" y1="434.4" x2="490.91" y2="436.4" stroke="#000" stroke-width="0.6"/>
<line x1="503.02" y1="434.4" x2="503.02" y2="436.4" stroke="#000" stroke-width="0.6"/>
<line x1="515.13" y1="434.4" x2="515.13" y2="436.4" stroke="#000" stroke-width="0.6"/>
<line x1="527.25" y1="434.4" x2="527.25" y2="437.9" stroke="#000" stroke-width="0.8"/>
<text x="527.25" y="447.2" font-size="10" text-anchor="middle" fill="#000" font-family="Liberation Sans" textLength="24.69" lengthAdjust="spacingAndGlyphs" >1570</text>
<line x1="539.37" y1="434.4" x2="539.37" y2="436.4" stroke="#000" stroke-width="0.6"/>
<line x1="551.48" y1="434.4" x2="551.48" y2="436.4" stroke="#000" stroke-width="0.6"/>
<line x1="563.6" y1="434.4" x2="563.6" y2="436.4" stroke="#000" stroke-width="0.6"/>
<line x1="575.71" y1="434.4" x2="575.71" y2="437.9" stroke="#000" stroke-width="0.8"/>
<text x="575.71" y="447.2" font-size="10" text-anchor="middle" fill="#000" font-family="Liberation Sans" textLength="24.69" lengthAdjust="spacingAndGlyphs" >1572</text>
<line x1="587.83" y1="434.4" x2="587.83" y2="436.4" stroke="#000" stroke-width="0.6"/>
<line x1="599.94" y1="434.4" x2="599.94" y2="436.4" stroke="#000" stroke-width="0.6"/>
<line x1="612.06" y1="434.4" x2="612.06" y2="436.4" stroke="#000" stroke-width="0.6"/>
<line x1="624.17" y1="434.4" x2="624.17" y2="437.9" stroke="#000" stroke-width="0.8"/>
<text x="624.17" y="447.2" font-size="10" text-anchor="middle" fill="#000" font-family="Liberation Sans" textLength="24.69" lengthAdjust="spacingAndGlyphs" >1574</text>
<line x1="636.29" y1="434.4" x2="636.29" y2="436.4" stroke="#000" stroke-width="0.6"/>
<text x="527" y="458.5" font-size="10" text-anchor="middle" fill="#000" font-family="Liberation Sans" textLength="83.79" lengthAdjust="spacingAndGlyphs" >Wavelength (nm)</text>
<text transform="translate(375.7,364.7) rotate(-90)" font-size="10.5" fill="#000" font-family="Liberation Sans" textLength="41.2" lengthAdjust="spacingAndGlyphs"><tspan font-style="italic">P</tspan><tspan font-size="7.8" dy="2.6">out</tspan><tspan dy="-2.6"> (dB)</tspan></text>
<text x="353.5" y="244.8" font-size="11.2" text-anchor="start" fill="#000" font-family="Liberation Sans" textLength="7.78" lengthAdjust="spacingAndGlyphs" font-weight="bold">d</text>
</svg></body></html>
